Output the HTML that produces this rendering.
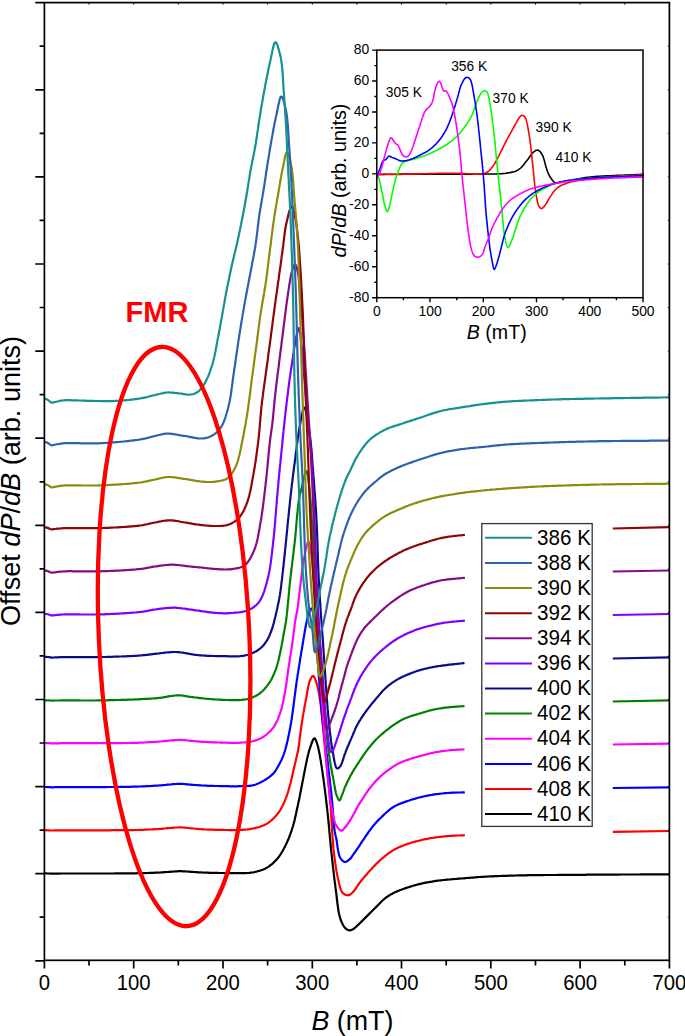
<!DOCTYPE html>
<html><head><meta charset="utf-8"><style>
html,body{margin:0;padding:0;background:#fff;}
body{width:685px;height:1036px;overflow:hidden;}
svg{display:block;}
</style></head><body>
<svg width="685" height="1036" viewBox="0 0 685 1036" font-family='"Liberation Sans", sans-serif'>
<rect x="0" y="0" width="685" height="1036" fill="#fff"/>
<path d="M44.4 873.4L45.4 873.4 46.5 873.4 47.7 873.5 49.0 873.5 50.2 873.6 51.5 873.7 52.5 873.7 53.6 873.7 54.8 873.6 56.0 873.6 57.3 873.6 58.6 873.6 59.9 873.6 61.1 873.5 62.2 873.5 63.4 873.5 65.0 873.5 65.9 873.5 66.8 873.5 67.9 873.5 69.0 873.5 70.2 873.5 71.5 873.5 72.8 873.5 74.3 873.5 75.7 873.5 77.2 873.5 78.8 873.5 80.4 873.5 82.0 873.5 83.7 873.5 85.3 873.5 87.0 873.5 88.7 873.5 90.4 873.5 92.0 873.5 93.7 873.5 95.3 873.5 96.9 873.5 98.5 873.5 100.0 873.5 101.4 873.5 102.9 873.5 104.4 873.5 105.9 873.5 107.4 873.5 109.0 873.5 110.5 873.5 112.1 873.5 113.6 873.5 115.2 873.4 116.8 873.4 118.3 873.4 119.9 873.4 121.5 873.4 123.0 873.4 124.6 873.4 126.1 873.4 127.6 873.4 129.1 873.4 130.5 873.3 132.0 873.3 133.4 873.3 134.8 873.3 136.1 873.3 137.5 873.2 138.8 873.2 140.0 873.2 141.7 873.2 143.3 873.1 144.9 873.1 146.4 873.0 147.9 873.0 149.4 872.9 150.9 872.9 152.3 872.8 153.6 872.8 155.0 872.7 156.3 872.7 157.6 872.6 158.8 872.6 160.0 872.5 161.6 872.4 163.1 872.3 164.5 872.2 165.9 872.1 167.2 872.0 168.6 871.9 170.0 871.8 171.4 871.7 172.8 871.6 174.3 871.5 175.7 871.4 177.1 871.3 178.5 871.2 180.0 871.2 181.3 871.2 182.7 871.3 184.0 871.3 185.4 871.4 186.8 871.5 188.2 871.6 189.6 871.7 191.0 871.8 192.4 871.9 193.8 872.0 195.2 872.1 196.6 872.2 198.0 872.3 199.5 872.4 200.9 872.4 202.5 872.5 204.0 872.6 205.3 872.7 206.6 872.7 208.0 872.7 209.3 872.8 210.7 872.8 212.1 872.8 213.5 872.9 214.9 872.9 216.4 872.9 217.8 872.9 219.2 873.0 220.6 873.0 222.0 873.0 223.4 873.0 224.8 873.1 226.2 873.1 227.6 873.1 229.0 873.2 230.5 873.2 231.9 873.2 233.3 873.2 234.7 873.2 236.0 873.2 237.4 873.2 238.7 873.2 240.0 873.2 241.4 873.2 242.8 873.1 244.2 873.1 245.6 873.1 246.9 873.0 248.2 873.0 249.5 872.9 250.9 872.7 252.2 872.5 253.5 872.3 254.9 872.0 256.3 871.7 257.7 871.3 259.1 870.9 260.4 870.5 261.8 870.0 263.2 869.5 264.5 868.9 265.8 868.3 267.0 867.6 268.2 866.9 269.4 866.1 270.5 865.2 271.7 864.3 272.8 863.4 273.8 862.4 274.9 861.3 275.9 860.3 276.9 859.2 277.8 858.1 278.7 857.0 279.5 855.9 280.3 854.7 281.1 853.6 281.8 852.3 282.5 851.1 283.2 849.8 283.9 848.6 284.6 847.3 285.2 845.9 285.9 844.6 286.5 843.4 287.1 842.1 287.7 840.8 288.2 839.5 288.8 838.2 289.3 836.8 289.8 835.5 290.3 834.1 290.8 832.7 291.3 831.3 291.8 829.9 292.2 828.5 292.7 827.0 293.1 825.7 293.5 824.3 293.9 822.9 294.2 821.6 294.6 820.2 294.9 818.8 295.2 817.3 295.6 815.9 295.9 814.4 296.2 813.0 296.5 811.5 296.8 810.0 297.1 808.6 297.5 807.1 297.8 805.6 298.1 804.1 298.4 802.7 298.7 801.3 299.0 799.9 299.3 798.5 299.6 797.0 299.9 795.6 300.2 794.1 300.4 792.7 300.7 791.2 301.0 789.7 301.3 788.3 301.6 786.8 301.9 785.3 302.1 783.9 302.4 782.5 302.7 781.1 303.0 779.7 303.2 778.3 303.5 777.0 303.8 775.4 304.1 773.9 304.4 772.3 304.7 770.8 305.0 769.2 305.3 767.7 305.6 766.2 305.9 764.7 306.2 763.3 306.5 761.9 306.8 760.5 307.0 759.2 307.3 758.0 307.6 756.8 307.9 755.3 308.3 754.0 308.6 752.8 308.9 751.6 309.2 750.4 309.6 749.2 310.0 748.0 310.5 746.7 311.0 745.1 311.5 743.5 312.1 742.0 312.7 740.5 313.3 739.4 313.9 738.6 314.4 738.3 315.1 738.7 315.7 739.9 316.4 741.5 317.0 743.3 317.5 745.0 317.9 746.2 318.2 747.5 318.5 748.9 318.8 750.3 319.1 751.7 319.4 753.2 319.7 754.8 320.0 756.5 320.2 757.7 320.4 759.0 320.7 760.3 320.9 761.7 321.1 763.1 321.3 764.5 321.6 766.0 321.8 767.5 322.0 769.0 322.3 770.6 322.5 772.1 322.7 773.7 322.9 775.3 323.1 776.9 323.4 778.5 323.6 780.0 323.8 781.6 324.0 782.9 324.2 784.3 324.3 785.7 324.5 787.0 324.7 788.4 324.9 789.8 325.1 791.2 325.2 792.6 325.4 794.0 325.6 795.4 325.8 796.8 325.9 798.3 326.1 799.7 326.3 801.1 326.4 802.6 326.6 804.0 326.8 805.5 326.9 807.0 327.1 808.4 327.3 809.9 327.4 811.4 327.6 812.9 327.8 814.3 327.9 815.7 328.0 817.2 328.2 818.6 328.3 820.1 328.5 821.5 328.6 823.0 328.8 824.5 328.9 825.9 329.0 827.4 329.2 828.9 329.3 830.4 329.4 831.9 329.6 833.4 329.7 834.9 329.8 836.4 330.0 838.0 330.1 839.5 330.3 841.0 330.4 842.5 330.5 844.0 330.7 845.5 330.8 847.0 331.0 848.4 331.1 849.9 331.3 851.4 331.5 852.9 331.6 854.3 331.8 855.8 331.9 857.3 332.1 858.7 332.3 860.2 332.4 861.7 332.6 863.2 332.7 864.6 332.9 866.1 333.1 867.6 333.2 869.1 333.4 870.5 333.6 872.0 333.8 873.5 333.9 874.9 334.1 876.4 334.3 877.8 334.4 879.3 334.6 880.7 334.8 882.1 335.0 883.5 335.2 884.9 335.3 886.3 335.5 887.6 335.7 889.0 335.9 890.6 336.1 892.1 336.3 893.7 336.5 895.3 336.7 896.9 336.8 898.5 337.0 900.0 337.2 901.6 337.4 903.1 337.6 904.7 337.8 906.2 338.0 907.7 338.2 909.1 338.4 910.5 338.7 911.9 338.9 913.2 339.2 914.5 339.5 915.7 339.8 916.8 340.1 917.9 340.6 919.5 341.2 921.0 341.8 922.4 342.4 923.7 343.0 925.0 343.7 926.1 344.4 927.1 345.1 927.9 346.1 928.9 347.2 929.6 348.4 930.2 349.5 930.4 350.6 930.3 351.8 929.8 352.9 929.2 354.0 928.5 355.0 927.8 355.9 927.0 356.9 926.1 357.8 925.1 358.9 924.1 359.8 923.3 360.7 922.4 361.7 921.4 362.6 920.4 363.7 919.4 364.7 918.4 365.7 917.4 366.7 916.4 367.7 915.4 368.7 914.4 369.7 913.4 370.6 912.5 371.6 911.5 372.6 910.5 373.6 909.5 374.6 908.5 375.5 907.6 376.5 906.6 377.6 905.5 378.6 904.5 379.7 903.4 380.7 902.3 381.8 901.3 382.8 900.3 383.9 899.3 385.0 898.4 386.1 897.5 387.2 896.8 388.3 896.0 389.5 895.3 390.6 894.6 391.8 893.9 393.0 893.3 394.3 892.6 395.6 892.0 396.9 891.4 398.2 890.9 399.6 890.3 401.1 889.8 402.6 889.2 403.8 888.8 405.0 888.4 406.3 887.9 407.6 887.5 408.9 887.1 410.3 886.6 411.7 886.2 413.1 885.8 414.5 885.4 415.9 885.0 417.3 884.6 418.7 884.2 420.1 883.9 421.5 883.6 423.0 883.2 424.5 882.9 425.9 882.6 427.4 882.3 428.8 882.1 430.3 881.8 431.8 881.6 433.2 881.3 434.7 881.1 436.1 880.9 437.6 880.7 439.1 880.5 440.5 880.3 442.0 880.2 443.5 880.0 445.0 879.9 446.4 879.7 447.9 879.6 449.4 879.5 450.8 879.4 452.3 879.2 453.7 879.1 455.1 879.0 456.6 878.9 458.2 878.7 459.7 878.6 461.2 878.5 462.6 878.4 464.1 878.3 465.6 878.1 467.1 878.0 468.5 877.9 470.0 877.8 471.4 877.7 472.8 877.6 474.2 877.5 475.5 877.3 476.9 877.2 478.2 877.1 479.7 877.0 481.2 876.9 482.8 876.8 484.5 876.7 485.7 876.6 486.9 876.6 488.1 876.5 489.4 876.4 490.7 876.4 492.1 876.3 493.4 876.3 494.8 876.2 496.3 876.1 497.7 876.1 499.2 876.0 500.7 876.0 502.2 875.9 503.8 875.9 505.3 875.8 506.9 875.8 508.5 875.7 510.1 875.7 511.7 875.6 513.4 875.6 515.0 875.5 516.7 875.5 518.3 875.4 520.0 875.4 521.3 875.4 522.6 875.3 523.9 875.3 525.2 875.3 526.5 875.3 527.8 875.2 529.2 875.2 530.5 875.2 531.9 875.2 533.3 875.2 534.7 875.1 536.1 875.1 537.5 875.1 538.9 875.1 540.3 875.1 541.7 875.1 543.2 875.1 544.6 875.0 546.1 875.0 547.5 875.0 549.0 875.0 550.5 875.0 552.0 875.0 553.5 875.0 555.0 875.0 556.5 875.0 558.0 874.9 559.6 874.9 561.1 874.9 562.6 874.9 564.2 874.9 565.7 874.9 567.3 874.9 568.9 874.9 570.4 874.9 572.0 874.9 573.6 874.8 575.2 874.8 576.8 874.8 578.4 874.8 580.0 874.8 581.3 874.8 582.7 874.8 584.1 874.8 585.4 874.8 586.8 874.7 588.2 874.7 589.6 874.7 591.0 874.7 592.5 874.7 593.9 874.7 595.3 874.7 596.8 874.7 598.2 874.7 599.7 874.7 601.1 874.7 602.6 874.6 604.1 874.6 605.5 874.6 607.0 874.6 608.5 874.6 610.0 874.6 611.5 874.6 613.0 874.6 614.5 874.6 616.0 874.6 617.5 874.6 619.1 874.6 620.6 874.5 622.1 874.5 623.6 874.5 625.2 874.5 626.7 874.5 628.2 874.5 629.8 874.5 631.3 874.5 632.8 874.5 634.4 874.5 635.9 874.5 637.5 874.5 639.0 874.5 640.5 874.4 642.1 874.4 643.6 874.4 645.2 874.4 646.7 874.4 648.2 874.4 649.8 874.4 651.3 874.4 652.8 874.4 654.4 874.4 655.9 874.4 657.4 874.4 659.0 874.4 660.5 874.3 662.0 874.3 663.5 874.3 665.0 874.3 666.5 874.3 668.0 874.3 669.5 874.3" fill="none" stroke="#000000" stroke-width="2.2" stroke-linejoin="round"/>
<path d="M44.4 830.2L45.4 830.2 46.5 830.2 47.7 830.3 49.0 830.3 50.2 830.4 51.5 830.5 52.5 830.5 53.6 830.5 54.8 830.4 56.0 830.4 57.3 830.4 58.6 830.4 59.9 830.4 61.1 830.3 62.2 830.3 63.4 830.3 65.0 830.3 65.9 830.3 66.8 830.3 67.9 830.3 69.0 830.3 70.2 830.3 71.5 830.3 72.8 830.3 74.3 830.3 75.7 830.3 77.2 830.3 78.8 830.3 80.4 830.3 82.0 830.3 83.7 830.3 85.3 830.3 87.0 830.3 88.7 830.3 90.4 830.3 92.0 830.3 93.7 830.3 95.3 830.3 96.9 830.3 98.5 830.3 100.0 830.3 101.4 830.3 102.9 830.3 104.4 830.3 105.9 830.3 107.4 830.3 109.0 830.3 110.5 830.3 112.1 830.2 113.6 830.2 115.2 830.2 116.8 830.2 118.3 830.2 119.9 830.2 121.5 830.2 123.0 830.2 124.6 830.2 126.1 830.2 127.6 830.1 129.1 830.1 130.5 830.1 132.0 830.1 133.4 830.1 134.8 830.0 136.1 830.0 137.5 830.0 138.8 829.9 140.0 829.9 141.7 829.8 143.3 829.8 144.9 829.7 146.4 829.7 147.9 829.6 149.4 829.5 150.9 829.5 152.3 829.4 153.6 829.3 155.0 829.2 156.3 829.1 157.6 829.1 158.8 829.0 160.0 828.9 161.6 828.8 163.1 828.6 164.5 828.5 165.9 828.4 167.2 828.2 168.6 828.1 170.0 828.0 171.4 827.9 172.8 827.8 174.3 827.6 175.7 827.5 177.1 827.5 178.5 827.4 180.0 827.4 181.3 827.4 182.7 827.5 184.0 827.6 185.4 827.7 186.8 827.9 188.2 828.0 189.6 828.2 191.0 828.3 192.4 828.4 193.8 828.5 195.2 828.7 196.6 828.8 198.0 828.9 199.5 829.1 200.9 829.2 202.5 829.3 204.0 829.4 205.3 829.5 206.6 829.5 208.0 829.6 209.3 829.6 210.7 829.7 212.1 829.7 213.5 829.7 214.9 829.8 216.4 829.8 217.8 829.8 219.2 829.9 220.6 829.9 222.0 829.9 223.4 829.9 224.8 830.0 226.2 830.0 227.6 830.0 229.0 830.1 230.5 830.1 231.9 830.1 233.3 830.1 234.7 830.1 236.0 830.1 237.4 830.1 238.7 830.1 240.0 830.0 241.4 829.9 242.8 829.8 244.2 829.7 245.6 829.6 246.9 829.5 248.2 829.3 249.5 829.2 250.9 828.9 252.2 828.7 253.5 828.4 254.9 828.1 256.3 827.7 257.7 827.4 259.1 827.0 260.5 826.5 261.8 826.0 263.2 825.5 264.5 824.9 265.8 824.3 267.0 823.6 268.2 822.8 269.4 822.0 270.6 821.0 271.7 820.1 272.8 819.0 273.9 818.0 274.9 816.9 275.9 815.8 276.9 814.6 277.8 813.5 278.6 812.4 279.4 811.3 280.2 810.1 280.9 808.9 281.5 807.7 282.2 806.5 282.8 805.3 283.4 804.0 284.0 802.7 284.6 801.4 285.1 800.1 285.6 798.9 286.1 797.6 286.6 796.2 287.1 794.9 287.5 793.5 288.0 792.1 288.4 790.7 288.8 789.3 289.2 787.9 289.6 786.5 290.0 785.1 290.4 783.7 290.8 782.2 291.1 780.8 291.5 779.3 291.8 777.9 292.1 776.4 292.5 774.9 292.8 773.5 293.1 772.0 293.4 770.5 293.8 769.1 294.1 767.6 294.4 766.3 294.7 764.9 295.1 763.6 295.4 762.3 295.7 761.0 296.0 759.7 296.3 758.3 296.6 757.0 296.9 755.7 297.2 754.3 297.5 752.9 297.8 751.5 298.1 750.0 298.3 748.6 298.6 747.3 298.8 745.9 299.0 744.5 299.2 743.0 299.4 741.6 299.5 740.1 299.7 738.6 299.9 737.1 300.1 735.6 300.3 734.1 300.5 732.6 300.7 731.1 300.9 729.5 301.1 728.0 301.3 726.5 301.5 725.0 301.7 723.6 302.0 722.1 302.2 720.7 302.4 719.2 302.7 717.7 302.9 716.2 303.2 714.7 303.4 713.2 303.7 711.7 304.0 710.2 304.2 708.7 304.5 707.2 304.8 705.7 305.0 704.3 305.3 702.9 305.5 701.5 305.8 700.1 306.0 698.8 306.3 697.5 306.6 695.9 306.9 694.3 307.2 692.6 307.4 691.0 307.7 689.4 308.0 687.9 308.3 686.4 308.6 685.0 308.9 683.7 309.2 682.4 309.6 681.3 310.0 680.3 310.8 678.7 311.6 677.3 312.4 676.3 313.2 675.9 313.8 676.3 314.4 677.1 314.9 678.4 315.5 679.9 316.0 681.5 316.5 683.0 316.9 684.1 317.2 685.3 317.5 686.5 317.8 687.8 318.1 689.1 318.4 690.4 318.7 691.9 318.9 693.4 319.2 694.9 319.5 696.5 319.7 698.2 320.0 700.0 320.2 701.1 320.3 702.3 320.5 703.4 320.7 704.7 320.8 706.0 321.0 707.3 321.1 708.6 321.3 710.0 321.4 711.4 321.6 712.8 321.7 714.3 321.9 715.7 322.0 717.2 322.2 718.8 322.3 720.3 322.5 721.9 322.6 723.4 322.8 725.0 322.9 726.6 323.1 728.2 323.2 729.8 323.4 731.4 323.5 733.0 323.6 734.6 323.8 736.2 323.9 737.8 324.1 739.4 324.2 741.0 324.4 742.6 324.5 744.1 324.7 745.7 324.8 747.2 325.0 748.7 325.1 750.2 325.2 751.7 325.4 753.2 325.5 754.6 325.7 756.1 325.9 757.6 326.0 759.1 326.2 760.5 326.3 762.0 326.5 763.5 326.6 765.0 326.8 766.4 326.9 767.9 327.1 769.4 327.2 770.8 327.4 772.3 327.5 773.8 327.7 775.3 327.8 776.7 328.0 778.2 328.1 779.7 328.3 781.2 328.4 782.6 328.6 784.1 328.7 785.6 328.9 787.1 329.0 788.6 329.2 790.0 329.3 791.5 329.4 793.0 329.6 794.5 329.7 796.0 329.8 797.4 330.0 798.9 330.1 800.4 330.2 801.9 330.3 803.3 330.5 804.8 330.6 806.3 330.7 807.8 330.8 809.3 330.9 810.9 331.0 812.4 331.1 813.9 331.2 815.5 331.3 817.0 331.4 818.5 331.5 820.1 331.6 821.6 331.7 823.2 331.8 824.7 331.9 826.2 332.0 827.8 332.1 829.3 332.1 830.8 332.2 832.3 332.3 833.8 332.4 835.2 332.5 836.7 332.6 838.1 332.7 839.6 332.8 841.0 333.0 842.3 333.1 843.7 333.2 845.1 333.3 846.4 333.4 847.7 333.5 848.9 333.7 850.2 333.8 851.4 334.0 853.1 334.2 854.8 334.4 856.4 334.6 858.0 334.8 859.6 335.0 861.2 335.2 862.7 335.4 864.1 335.6 865.6 335.8 867.0 336.0 868.4 336.3 869.8 336.5 871.2 336.8 872.5 337.0 873.9 337.3 875.2 337.6 876.5 337.9 878.0 338.3 879.6 338.6 881.2 338.9 882.8 339.3 884.3 339.7 885.8 340.0 887.3 340.5 888.6 340.9 889.9 341.4 891.0 342.0 892.0 342.6 892.8 343.6 893.7 344.8 894.5 346.0 895.0 347.1 895.2 348.2 895.3 349.6 894.9 350.8 894.0 352.0 893.0 352.8 892.2 353.6 891.3 354.4 890.4 355.2 889.3 356.0 888.3 356.7 887.1 357.5 885.9 358.3 884.7 359.2 883.5 360.0 882.3 360.8 881.2 361.7 880.1 362.6 879.1 363.4 878.1 364.3 877.0 365.2 876.0 366.1 875.0 367.0 874.0 367.9 872.9 368.7 871.9 369.6 871.0 370.5 870.0 371.5 869.0 372.4 867.9 373.3 867.0 374.3 866.0 375.2 865.0 376.1 864.0 377.1 863.1 378.0 862.2 379.0 861.2 380.0 860.3 380.9 859.5 381.9 858.6 382.9 857.8 383.9 857.0 384.9 856.1 386.0 855.3 387.0 854.5 388.1 853.7 389.2 852.9 390.4 852.1 391.5 851.3 392.6 850.6 393.8 849.9 394.9 849.3 396.1 848.7 397.2 848.1 398.4 847.5 399.6 847.0 400.8 846.5 402.0 846.0 403.3 845.5 404.5 845.0 405.8 844.5 407.1 844.1 408.4 843.6 409.8 843.2 411.3 842.7 412.6 842.3 413.9 842.0 415.3 841.6 416.7 841.2 418.2 840.8 419.7 840.5 421.2 840.1 422.7 839.7 424.3 839.4 425.8 839.1 427.3 838.8 428.8 838.5 430.3 838.2 431.7 838.0 433.2 837.8 434.6 837.5 436.1 837.3 437.6 837.2 439.0 837.0 440.5 836.8 442.0 836.6 443.4 836.5 444.9 836.3 446.4 836.2 447.8 836.1 449.2 836.0 450.6 835.9 452.0 835.8 453.4 835.7 454.9 835.6 456.3 835.6 457.7 835.5 459.1 835.5 460.5 835.4 462.0 835.3 463.4 835.3 464.8 835.2" fill="none" stroke="#ff0000" stroke-width="2.2" stroke-linejoin="round"/>
<path d="M612.8 831.8L669.4 831.0" fill="none" stroke="#ff0000" stroke-width="2.2"/>
<path d="M44.4 787.0L45.4 787.0 46.5 787.0 47.7 787.1 49.0 787.1 50.2 787.2 51.5 787.3 52.5 787.3 53.6 787.3 54.8 787.2 56.0 787.2 57.3 787.2 58.6 787.2 59.9 787.2 61.1 787.1 62.2 787.1 63.4 787.1 65.0 787.1 65.9 787.1 66.8 787.1 67.9 787.1 69.0 787.1 70.2 787.1 71.5 787.1 72.8 787.1 74.3 787.1 75.7 787.1 77.2 787.1 78.8 787.1 80.4 787.1 82.0 787.1 83.7 787.1 85.3 787.1 87.0 787.1 88.7 787.1 90.4 787.1 92.0 787.1 93.7 787.1 95.3 787.1 96.9 787.1 98.5 787.1 100.0 787.1 101.4 787.1 102.9 787.1 104.4 787.1 105.9 787.1 107.4 787.0 109.0 787.0 110.5 787.0 112.1 787.0 113.6 787.0 115.2 787.0 116.8 787.0 118.3 786.9 119.9 786.9 121.5 786.9 123.0 786.9 124.6 786.9 126.1 786.8 127.6 786.8 129.1 786.8 130.5 786.8 132.0 786.7 133.4 786.7 134.8 786.7 136.1 786.6 137.5 786.6 138.8 786.5 140.0 786.5 141.7 786.4 143.3 786.4 144.9 786.3 146.4 786.2 147.9 786.2 149.4 786.1 150.9 786.0 152.3 785.9 153.6 785.8 155.0 785.7 156.3 785.7 157.6 785.6 158.8 785.5 160.0 785.4 161.6 785.3 163.1 785.1 164.5 785.0 165.9 784.9 167.2 784.7 168.6 784.6 170.0 784.5 171.4 784.4 172.8 784.2 174.3 784.1 175.7 784.0 177.1 783.9 178.5 783.8 180.0 783.8 181.3 783.8 182.7 783.9 184.0 784.0 185.4 784.1 186.8 784.3 188.2 784.4 189.6 784.6 191.0 784.7 192.4 784.8 193.8 784.9 195.2 785.0 196.6 785.1 198.0 785.2 199.5 785.3 200.9 785.4 202.5 785.5 204.0 785.6 205.3 785.7 206.6 785.7 208.0 785.8 209.3 785.8 210.7 785.9 212.1 785.9 213.5 785.9 214.9 786.0 216.4 786.0 217.8 786.0 219.2 786.1 220.6 786.1 222.0 786.1 223.4 786.1 224.8 786.2 226.2 786.2 227.6 786.2 229.0 786.2 230.5 786.3 231.9 786.3 233.3 786.3 234.7 786.3 236.0 786.3 237.4 786.3 238.7 786.2 240.0 786.2 241.4 786.2 242.9 786.1 244.3 786.1 245.6 786.0 247.0 786.0 248.3 785.9 249.7 785.8 251.0 785.6 252.2 785.4 253.5 785.1 254.9 784.7 256.4 784.2 257.7 783.7 259.1 783.1 260.4 782.5 261.7 781.8 263.0 781.1 264.3 780.4 265.4 779.7 266.6 778.9 267.7 778.2 268.9 777.3 270.0 776.5 271.0 775.6 272.0 774.7 273.0 773.9 273.8 773.0 274.7 772.0 275.4 770.9 276.1 769.8 276.7 768.8 277.4 767.6 278.0 766.5 278.7 765.2 279.4 763.9 280.1 762.6 280.8 761.2 281.5 759.9 282.1 758.5 282.7 757.2 283.2 755.9 283.7 754.5 284.1 753.2 284.6 751.9 285.0 750.5 285.4 749.3 285.7 748.1 286.0 746.9 286.3 745.7 286.7 744.4 287.0 743.0 287.3 741.6 287.6 740.4 287.9 739.1 288.1 737.8 288.4 736.5 288.7 735.2 289.0 733.8 289.3 732.3 289.6 730.8 289.9 729.2 290.2 727.6 290.5 725.9 290.8 724.2 291.0 723.1 291.2 721.9 291.4 720.6 291.6 719.4 291.8 718.0 292.0 716.7 292.2 715.3 292.4 713.9 292.6 712.5 292.8 711.0 293.0 709.5 293.2 708.0 293.4 706.5 293.6 704.9 293.8 703.4 294.0 701.8 294.2 700.3 294.4 698.7 294.6 697.1 294.8 695.6 295.0 694.0 295.2 692.5 295.4 691.0 295.6 689.4 295.8 687.9 296.0 686.5 296.2 685.0 296.4 683.6 296.6 682.2 296.8 680.8 297.0 679.2 297.3 677.7 297.5 676.1 297.7 674.6 298.0 673.0 298.2 671.5 298.5 670.0 298.7 668.5 298.9 667.0 299.2 665.5 299.4 664.0 299.7 662.5 299.9 661.0 300.1 659.5 300.4 658.1 300.6 656.7 300.8 655.2 301.1 653.8 301.3 652.4 301.5 651.1 301.8 649.7 302.0 648.3 302.2 647.0 302.5 645.4 302.7 643.9 303.0 642.3 303.2 640.8 303.5 639.3 303.7 637.8 304.0 636.3 304.2 634.9 304.5 633.4 304.7 632.0 304.9 630.6 305.2 629.3 305.4 627.9 305.7 626.6 305.9 625.3 306.2 624.1 306.5 622.4 306.9 620.7 307.2 619.1 307.5 617.4 307.9 615.9 308.2 614.4 308.6 613.1 309.0 612.0 309.4 611.0 310.1 609.8 310.8 608.8 311.5 608.5 311.9 608.9 312.3 609.7 312.6 610.9 312.9 612.4 313.2 614.2 313.4 616.1 313.7 618.0 314.0 620.0 314.1 621.0 314.3 622.1 314.4 623.2 314.6 624.3 314.7 625.5 314.9 626.8 315.0 628.1 315.1 629.4 315.3 630.8 315.4 632.2 315.5 633.7 315.6 635.1 315.8 636.6 315.9 638.2 316.0 639.7 316.1 641.3 316.3 642.9 316.4 644.4 316.5 646.0 316.6 647.6 316.8 649.3 316.9 650.9 317.0 652.5 317.1 654.1 317.3 655.7 317.4 657.3 317.5 658.9 317.6 660.4 317.7 662.0 317.9 663.5 318.0 665.0 318.1 666.4 318.2 667.9 318.4 669.3 318.5 670.8 318.6 672.3 318.7 673.8 318.8 675.3 318.9 676.8 319.0 678.3 319.2 679.8 319.3 681.3 319.4 682.8 319.5 684.3 319.6 685.8 319.7 687.4 319.8 688.9 319.9 690.4 320.1 691.9 320.2 693.4 320.3 694.9 320.4 696.4 320.5 697.9 320.6 699.4 320.7 700.9 320.9 702.3 321.0 703.8 321.1 705.2 321.2 706.7 321.3 708.1 321.5 709.5 321.6 710.9 321.7 712.3 321.9 713.7 322.0 715.0 322.2 716.6 322.3 718.1 322.5 719.7 322.7 721.2 322.8 722.6 323.0 724.1 323.2 725.5 323.4 727.0 323.5 728.4 323.7 729.8 323.9 731.2 324.1 732.6 324.3 734.0 324.4 735.4 324.6 736.8 324.8 738.2 325.0 739.7 325.2 741.1 325.4 742.6 325.5 744.0 325.7 745.5 325.9 747.1 326.1 748.6 326.3 750.2 326.5 751.6 326.6 752.9 326.8 754.3 327.0 755.8 327.1 757.2 327.3 758.7 327.5 760.2 327.7 761.7 327.8 763.2 328.0 764.7 328.2 766.2 328.4 767.8 328.6 769.3 328.7 770.9 328.9 772.4 329.1 774.0 329.3 775.6 329.5 777.1 329.6 778.7 329.8 780.2 330.0 781.8 330.2 783.3 330.3 784.8 330.5 786.3 330.7 787.8 330.8 789.3 331.0 790.8 331.2 792.2 331.3 793.6 331.5 795.0 331.6 796.4 331.7 797.8 331.9 799.1 332.0 800.4 332.2 802.1 332.3 803.8 332.5 805.4 332.6 807.1 332.7 808.8 332.8 810.4 333.0 812.0 333.1 813.6 333.2 815.2 333.3 816.8 333.4 818.3 333.5 819.8 333.6 821.2 333.7 822.7 333.8 824.0 334.0 825.3 334.1 826.6 334.2 827.8 334.4 828.9 334.5 830.0 334.8 831.7 335.1 833.2 335.3 834.5 335.6 835.8 336.0 837.2 336.3 838.8 336.5 840.1 336.8 841.4 337.0 842.9 337.2 844.5 337.4 846.2 337.7 847.8 337.9 849.5 338.2 851.1 338.5 852.6 338.9 854.1 339.2 855.4 339.6 856.6 340.1 857.6 340.9 858.9 341.8 860.0 342.7 860.9 343.6 861.6 344.5 862.0 345.5 862.0 346.5 861.5 347.5 861.0 348.4 860.4 349.2 859.7 350.1 858.9 350.9 858.0 351.6 857.0 352.4 855.8 353.2 854.7 354.0 853.5 354.7 852.5 355.4 851.6 356.0 850.6 356.7 849.6 357.5 848.5 358.3 847.3 359.0 846.3 359.7 845.3 360.4 844.1 361.2 843.0 362.0 841.7 362.8 840.5 363.7 839.3 364.5 838.0 365.3 836.8 366.1 835.6 366.9 834.5 367.6 833.5 368.5 832.2 369.3 831.0 370.2 829.9 371.0 828.7 371.8 827.7 372.6 826.6 373.5 825.5 374.4 824.5 375.2 823.5 376.1 822.5 377.0 821.5 377.9 820.6 378.9 819.6 380.0 818.5 380.9 817.7 381.8 816.8 382.7 815.9 383.7 814.9 384.7 814.0 385.8 813.0 386.9 812.0 388.0 811.1 389.1 810.1 390.3 809.2 391.4 808.4 392.6 807.5 393.8 806.8 395.0 806.1 396.3 805.4 397.6 804.8 398.9 804.2 400.3 803.6 401.6 803.1 403.0 802.6 404.4 802.1 405.8 801.6 407.2 801.1 408.6 800.7 409.9 800.2 411.3 799.8 412.6 799.4 414.0 799.0 415.3 798.6 416.6 798.2 418.0 797.8 419.3 797.5 420.7 797.2 422.0 796.8 423.4 796.5 424.7 796.2 426.1 795.9 427.4 795.7 428.8 795.4 430.3 795.1 431.7 794.9 433.2 794.6 434.6 794.4 436.1 794.2 437.6 794.0 439.0 793.8 440.5 793.7 442.0 793.5 443.4 793.4 444.9 793.2 446.4 793.1 447.8 793.0 449.2 792.9 450.6 792.8 452.0 792.7 453.4 792.7 454.9 792.6 456.3 792.6 457.7 792.5 459.1 792.5 460.5 792.5 462.0 792.4 463.4 792.4 464.8 792.3" fill="none" stroke="#0000ff" stroke-width="2.2" stroke-linejoin="round"/>
<path d="M612.8 788.0L669.4 787.3" fill="none" stroke="#0000ff" stroke-width="2.2"/>
<path d="M44.4 743.1L45.4 743.1 46.5 743.1 47.7 743.2 49.0 743.2 50.2 743.3 51.5 743.4 52.5 743.4 53.6 743.4 54.8 743.3 56.0 743.3 57.3 743.3 58.6 743.3 59.9 743.3 61.1 743.2 62.2 743.2 63.4 743.2 65.0 743.2 65.9 743.2 66.8 743.2 67.9 743.2 69.0 743.2 70.2 743.2 71.5 743.2 72.8 743.2 74.3 743.2 75.7 743.2 77.2 743.2 78.8 743.2 80.4 743.2 82.0 743.2 83.7 743.2 85.3 743.2 87.0 743.2 88.7 743.2 90.4 743.2 92.0 743.2 93.7 743.2 95.3 743.2 96.9 743.2 98.5 743.2 100.0 743.2 101.4 743.2 102.9 743.2 104.4 743.2 105.9 743.2 107.4 743.2 109.0 743.2 110.5 743.1 112.1 743.1 113.6 743.1 115.2 743.1 116.8 743.1 118.3 743.1 119.9 743.1 121.5 743.1 123.0 743.0 124.6 743.0 126.1 743.0 127.6 743.0 129.1 743.0 130.5 742.9 132.0 742.9 133.4 742.9 134.8 742.9 136.1 742.8 137.5 742.8 138.8 742.7 140.0 742.7 141.7 742.6 143.3 742.6 144.9 742.5 146.4 742.4 147.9 742.3 149.4 742.2 150.9 742.2 152.3 742.1 153.6 742.0 155.0 741.9 156.3 741.8 157.6 741.7 158.8 741.6 160.0 741.5 161.6 741.4 163.1 741.2 164.5 741.1 165.9 740.9 167.2 740.8 168.6 740.6 170.0 740.5 171.4 740.4 172.8 740.3 174.3 740.1 175.7 740.0 177.1 740.0 178.5 739.9 180.0 739.9 181.3 739.9 182.7 740.0 184.0 740.1 185.4 740.2 186.8 740.4 188.2 740.5 189.6 740.7 191.0 740.8 192.4 740.9 193.8 741.0 195.2 741.2 196.6 741.3 198.0 741.4 199.5 741.6 200.9 741.7 202.5 741.8 204.0 741.9 205.3 742.0 206.6 742.0 208.0 742.1 209.3 742.2 210.7 742.2 212.1 742.3 213.5 742.4 214.9 742.4 216.4 742.4 217.8 742.5 219.2 742.5 220.6 742.6 222.0 742.6 223.4 742.6 224.8 742.7 226.2 742.7 227.6 742.7 229.0 742.8 230.5 742.8 231.9 742.8 233.3 742.8 234.7 742.9 236.0 742.8 237.4 742.8 238.7 742.8 240.0 742.7 241.4 742.6 242.9 742.5 244.3 742.4 245.6 742.3 247.0 742.2 248.3 742.0 249.7 741.8 251.0 741.6 252.2 741.3 253.5 741.0 254.9 740.6 256.4 740.1 257.8 739.6 259.1 739.0 260.5 738.4 261.8 737.7 263.0 737.0 264.3 736.2 265.5 735.4 266.6 734.5 267.7 733.5 268.8 732.5 269.9 731.5 271.0 730.4 271.9 729.2 272.9 728.0 273.8 726.8 274.6 725.6 275.3 724.4 276.0 723.1 276.6 721.8 277.3 720.4 277.9 719.1 278.4 717.6 279.0 716.2 279.5 714.8 280.0 713.3 280.5 711.9 280.9 710.6 281.3 709.3 281.7 708.1 282.0 706.8 282.3 705.5 282.6 704.1 282.9 702.8 283.2 701.4 283.5 700.1 283.8 698.7 284.0 697.2 284.3 695.8 284.6 694.3 284.8 693.0 285.1 691.7 285.3 690.4 285.5 689.0 285.7 687.6 285.9 686.2 286.2 684.8 286.4 683.3 286.6 681.9 286.8 680.4 287.0 679.0 287.2 677.5 287.4 676.0 287.6 674.6 287.8 673.1 288.0 671.6 288.2 670.2 288.4 668.7 288.6 667.3 288.8 665.9 289.0 664.4 289.3 663.0 289.5 661.5 289.7 660.1 289.9 658.6 290.1 657.2 290.4 655.7 290.6 654.3 290.8 652.8 291.0 651.4 291.3 650.0 291.5 648.5 291.7 647.1 291.9 645.7 292.1 644.3 292.3 643.0 292.5 641.6 292.7 640.3 292.9 638.7 293.1 637.2 293.3 635.7 293.5 634.1 293.7 632.6 293.9 631.1 294.1 629.6 294.3 628.2 294.5 626.7 294.6 625.3 294.8 623.9 295.0 622.6 295.2 621.3 295.4 620.0 295.6 618.6 295.9 617.2 296.1 616.0 296.4 614.8 296.6 613.5 296.9 612.3 297.1 611.0 297.4 609.6 297.6 608.1 297.8 606.9 297.9 605.7 298.1 604.4 298.3 603.1 298.5 601.7 298.6 600.3 298.8 598.8 299.0 597.3 299.2 595.8 299.3 594.3 299.5 592.8 299.7 591.2 299.9 589.7 300.0 588.2 300.2 586.7 300.4 585.3 300.6 583.8 300.7 582.4 300.9 581.1 301.1 579.6 301.3 578.0 301.4 576.5 301.6 575.1 301.8 573.6 301.9 572.1 302.1 570.7 302.3 569.3 302.5 567.9 302.7 566.4 302.9 565.0 303.1 563.6 303.3 562.2 303.6 560.8 303.9 559.2 304.2 557.5 304.6 555.6 305.0 553.7 305.3 551.7 305.7 549.8 306.1 548.0 306.5 546.4 306.9 544.9 307.3 543.6 307.7 542.7 308.1 542.1 308.4 541.9 308.7 542.1 309.0 542.6 309.3 543.4 309.6 544.5 309.9 545.8 310.2 547.3 310.5 549.0 310.7 550.7 311.0 552.6 311.3 554.5 311.5 556.3 311.8 558.2 312.0 560.0 312.2 561.1 312.3 562.3 312.4 563.5 312.6 564.7 312.7 566.0 312.9 567.3 313.0 568.6 313.1 569.9 313.2 571.3 313.4 572.7 313.5 574.2 313.6 575.6 313.7 577.1 313.8 578.6 313.9 580.1 314.1 581.6 314.2 583.1 314.3 584.7 314.4 586.3 314.5 587.8 314.6 589.4 314.7 591.0 314.8 592.6 314.9 594.2 315.0 595.8 315.1 597.4 315.2 599.0 315.3 600.6 315.5 602.2 315.6 603.8 315.7 605.3 315.8 606.9 315.9 608.5 316.0 610.0 316.1 611.4 316.2 612.8 316.3 614.2 316.4 615.6 316.5 617.1 316.6 618.5 316.7 619.9 316.8 621.4 316.9 622.8 317.0 624.3 317.1 625.7 317.2 627.2 317.3 628.6 317.4 630.1 317.5 631.5 317.6 633.0 317.7 634.5 317.8 636.0 317.9 637.4 318.0 638.9 318.1 640.4 318.2 641.9 318.3 643.4 318.4 644.8 318.5 646.3 318.6 647.8 318.6 649.3 318.7 650.8 318.8 652.3 318.9 653.8 319.0 655.2 319.1 656.7 319.2 658.2 319.3 659.7 319.4 661.2 319.5 662.6 319.6 664.1 319.7 665.6 319.8 667.1 319.9 668.5 320.0 670.0 320.1 671.5 320.2 672.9 320.3 674.4 320.4 675.9 320.5 677.4 320.6 678.8 320.7 680.3 320.8 681.8 320.9 683.3 321.0 684.8 321.1 686.2 321.2 687.7 321.3 689.2 321.4 690.7 321.4 692.2 321.5 693.7 321.6 695.2 321.7 696.6 321.8 698.1 321.9 699.6 322.0 701.1 322.1 702.6 322.2 704.0 322.3 705.5 322.4 707.0 322.5 708.5 322.6 709.9 322.7 711.4 322.8 712.8 322.9 714.3 323.0 715.7 323.1 717.2 323.2 718.6 323.3 720.1 323.4 721.5 323.5 722.9 323.6 724.4 323.7 725.8 323.8 727.2 323.9 728.6 324.0 730.0 324.1 731.5 324.2 733.1 324.3 734.6 324.4 736.2 324.6 737.7 324.7 739.3 324.8 740.8 324.9 742.4 325.0 743.9 325.1 745.4 325.2 747.0 325.3 748.5 325.4 750.0 325.6 751.6 325.7 753.1 325.8 754.6 325.9 756.1 326.0 757.6 326.1 759.1 326.2 760.6 326.4 762.0 326.5 763.5 326.6 764.9 326.7 766.4 326.8 767.8 327.0 769.2 327.1 770.6 327.2 772.0 327.3 773.4 327.5 774.7 327.6 776.1 327.7 777.4 327.9 778.7 328.0 780.0 328.2 781.6 328.3 783.2 328.5 784.8 328.7 786.4 328.9 787.9 329.0 789.4 329.2 791.0 329.4 792.5 329.6 794.0 329.7 795.4 329.9 796.9 330.1 798.3 330.3 799.7 330.5 801.1 330.7 802.4 330.9 803.8 331.1 805.1 331.3 806.3 331.5 807.6 331.8 808.8 332.0 810.0 332.3 811.6 332.6 813.2 332.9 814.7 333.2 816.2 333.5 817.6 333.9 819.0 334.2 820.4 334.6 821.6 335.0 822.8 335.5 824.0 336.0 825.0 336.8 826.3 337.6 827.6 338.6 828.8 339.5 829.8 340.4 830.4 341.3 830.7 342.3 830.4 343.2 829.6 344.1 828.6 345.0 827.5 345.8 826.5 346.7 825.4 347.5 824.2 348.4 823.0 349.2 821.7 350.0 820.5 350.7 819.4 351.4 818.2 352.0 817.0 352.7 815.9 353.3 814.7 354.0 813.5 354.6 812.4 355.2 811.2 355.8 810.0 356.4 808.9 357.1 807.7 357.7 806.6 358.3 805.5 359.1 804.2 359.8 803.1 360.6 801.9 361.4 800.7 362.2 799.5 362.9 798.4 363.7 797.2 364.5 795.9 365.3 794.7 366.1 793.5 366.8 792.3 367.6 791.2 368.5 790.0 369.3 788.8 370.2 787.7 371.1 786.6 372.0 785.5 372.9 784.4 373.9 783.3 374.8 782.2 375.8 781.0 376.9 779.9 378.0 778.8 379.0 777.8 380.0 776.9 381.0 775.9 382.1 775.0 383.2 774.0 384.3 773.1 385.5 772.1 386.7 771.2 387.8 770.4 388.9 769.6 390.0 768.8 391.2 768.0 392.4 767.2 393.6 766.4 394.8 765.6 396.0 764.9 397.2 764.2 398.4 763.6 399.7 763.0 401.0 762.4 402.3 761.8 403.6 761.3 404.9 760.8 406.2 760.3 407.5 759.9 408.8 759.4 410.1 759.0 411.5 758.5 412.9 758.1 414.3 757.7 415.7 757.3 417.1 756.9 418.5 756.5 420.0 756.1 421.3 755.7 422.7 755.4 424.0 755.0 425.5 754.6 426.9 754.2 428.3 753.8 429.8 753.5 431.2 753.1 432.7 752.8 434.1 752.5 435.4 752.2 436.8 752.0 438.1 751.8 439.4 751.6 440.8 751.4 442.1 751.2 443.4 751.0 444.8 750.8 446.2 750.7 447.6 750.5 448.9 750.4 450.3 750.2 451.7 750.1 453.1 750.0 454.5 749.9 455.9 749.8 457.4 749.7 458.8 749.7 460.2 749.6 461.7 749.5 463.1 749.4 464.5 749.3" fill="none" stroke="#ff00ff" stroke-width="2.2" stroke-linejoin="round"/>
<path d="M612.8 744.5L669.4 743.7" fill="none" stroke="#ff00ff" stroke-width="2.2"/>
<path d="M44.4 700.3L45.4 700.3 46.5 700.3 47.7 700.4 49.0 700.4 50.2 700.5 51.5 700.6 52.5 700.6 53.6 700.6 54.8 700.5 56.0 700.5 57.3 700.5 58.6 700.5 59.9 700.5 61.1 700.4 62.2 700.4 63.4 700.4 65.0 700.4 65.9 700.4 66.8 700.4 67.9 700.4 69.0 700.4 70.2 700.4 71.5 700.4 72.8 700.4 74.3 700.4 75.7 700.4 77.2 700.4 78.8 700.4 80.4 700.5 82.0 700.5 83.7 700.5 85.3 700.5 87.0 700.5 88.7 700.5 90.4 700.5 92.0 700.5 93.7 700.5 95.3 700.5 96.9 700.4 98.5 700.4 100.0 700.4 101.4 700.4 102.9 700.4 104.4 700.3 105.9 700.3 107.4 700.3 109.0 700.2 110.5 700.2 112.1 700.2 113.6 700.1 115.2 700.1 116.8 700.0 118.3 700.0 119.9 700.0 121.5 699.9 123.0 699.9 124.6 699.8 126.1 699.8 127.6 699.7 129.1 699.7 130.5 699.6 132.0 699.6 133.4 699.5 134.8 699.4 136.1 699.4 137.5 699.3 138.8 699.3 140.0 699.2 141.7 699.1 143.3 699.0 144.9 698.9 146.4 698.9 147.9 698.8 149.4 698.7 150.9 698.6 152.3 698.5 153.7 698.4 155.0 698.3 156.3 698.2 157.6 698.1 158.8 697.9 160.0 697.8 161.6 697.6 163.1 697.4 164.6 697.1 165.9 696.9 167.3 696.6 168.6 696.4 170.0 696.2 171.3 696.0 172.6 695.8 173.8 695.7 175.1 695.5 176.4 695.4 177.7 695.3 179.0 695.3 180.3 695.4 181.7 695.5 183.0 695.7 184.4 695.9 185.8 696.1 187.2 696.4 188.6 696.6 190.0 696.8 191.4 697.0 192.8 697.2 194.2 697.4 195.6 697.5 197.0 697.7 198.4 697.9 199.9 698.1 201.4 698.2 203.0 698.4 204.3 698.5 205.7 698.7 207.1 698.8 208.6 698.9 210.1 699.0 211.6 699.2 213.1 699.3 214.6 699.4 216.1 699.5 217.6 699.6 219.1 699.7 220.5 699.7 222.0 699.8 223.4 699.9 224.8 699.9 226.3 700.0 227.7 700.0 229.2 700.1 230.6 700.1 232.0 700.2 233.4 700.2 234.8 700.2 236.2 700.2 237.5 700.1 238.8 700.1 240.0 700.0 241.5 699.9 242.9 699.7 244.3 699.6 245.7 699.4 247.0 699.1 248.3 698.8 249.5 698.5 250.8 698.1 252.1 697.6 253.3 697.1 254.5 696.6 255.7 696.0 256.9 695.3 258.0 694.6 259.2 693.8 260.3 693.0 261.3 692.1 262.3 691.2 263.3 690.2 264.3 689.2 265.3 688.1 266.2 687.0 267.1 685.8 268.0 684.6 268.9 683.4 269.7 682.2 270.5 681.0 271.2 679.7 271.9 678.4 272.5 677.1 273.2 675.7 273.8 674.3 274.4 672.9 274.9 671.5 275.5 670.1 276.0 668.7 276.5 667.3 276.9 666.0 277.3 664.7 277.7 663.3 278.1 662.0 278.4 660.6 278.7 659.3 279.0 657.9 279.3 656.5 279.6 655.2 279.9 653.8 280.2 652.5 280.5 651.1 280.8 649.6 281.1 648.2 281.4 646.7 281.7 645.2 281.9 643.8 282.2 642.3 282.5 640.8 282.7 639.4 283.0 637.9 283.2 636.5 283.5 635.0 283.8 633.6 284.0 632.3 284.3 630.9 284.5 629.6 284.8 628.3 285.0 627.0 285.2 625.6 285.5 624.2 285.7 622.7 286.0 621.2 286.2 619.5 286.4 618.3 286.5 617.1 286.7 615.9 286.8 614.6 287.0 613.2 287.1 611.8 287.3 610.4 287.4 609.0 287.6 607.5 287.7 606.0 287.8 604.5 288.0 603.0 288.1 601.4 288.3 599.9 288.4 598.3 288.6 596.7 288.7 595.1 288.9 593.6 289.0 592.0 289.2 590.4 289.3 588.8 289.5 587.2 289.6 585.7 289.8 584.1 289.9 582.6 290.1 581.1 290.3 579.7 290.4 578.2 290.6 576.8 290.8 575.4 290.9 573.9 291.1 572.5 291.3 571.0 291.4 569.6 291.6 568.1 291.8 566.7 292.0 565.2 292.1 563.8 292.3 562.3 292.5 560.9 292.7 559.4 292.9 558.0 293.0 556.5 293.2 555.0 293.4 553.6 293.6 552.1 293.7 550.7 293.9 549.2 294.1 547.8 294.2 546.3 294.4 544.9 294.6 543.4 294.7 542.0 294.9 540.5 295.1 539.0 295.2 537.5 295.4 536.0 295.5 534.5 295.6 532.9 295.8 531.4 295.9 529.8 296.1 528.2 296.2 526.6 296.3 525.0 296.5 523.5 296.6 521.9 296.7 520.3 296.9 518.7 297.0 517.2 297.1 515.7 297.3 514.2 297.4 512.7 297.6 511.2 297.7 509.8 297.8 508.4 298.0 507.1 298.1 505.8 298.3 504.5 298.4 503.3 298.6 502.1 298.7 501.0 298.9 500.0 299.2 498.4 299.5 496.9 299.7 495.6 300.0 494.3 300.3 493.1 300.6 491.9 300.9 490.7 301.2 489.5 301.6 488.1 301.9 486.7 302.3 485.1 302.7 483.3 303.1 481.4 303.6 479.5 304.0 477.7 304.4 476.0 304.9 474.4 305.3 473.1 305.7 472.1 306.1 471.4 306.4 471.2 306.7 471.4 307.0 472.0 307.3 472.8 307.5 473.9 307.8 475.3 308.0 476.9 308.2 478.6 308.4 480.4 308.7 482.3 308.9 484.3 309.1 486.2 309.3 488.2 309.5 490.0 309.6 491.1 309.8 492.3 309.9 493.5 310.0 494.7 310.1 496.0 310.2 497.3 310.3 498.7 310.5 500.0 310.6 501.4 310.7 502.8 310.8 504.2 310.9 505.7 311.0 507.2 311.1 508.6 311.2 510.1 311.3 511.7 311.4 513.2 311.5 514.8 311.5 516.3 311.6 517.9 311.7 519.5 311.8 521.0 311.9 522.6 312.0 524.2 312.1 525.8 312.2 527.4 312.3 529.0 312.4 530.6 312.5 532.2 312.6 533.8 312.7 535.3 312.8 536.9 312.9 538.5 313.0 540.0 313.1 541.4 313.2 542.8 313.3 544.2 313.4 545.6 313.5 547.1 313.6 548.5 313.7 549.9 313.8 551.4 313.9 552.8 314.0 554.3 314.1 555.7 314.2 557.2 314.3 558.6 314.4 560.1 314.5 561.5 314.5 563.0 314.6 564.5 314.7 566.0 314.8 567.4 314.9 568.9 315.0 570.4 315.1 571.9 315.2 573.4 315.3 574.8 315.4 576.3 315.5 577.8 315.6 579.3 315.7 580.8 315.8 582.3 315.9 583.8 316.0 585.2 316.1 586.7 316.2 588.2 316.3 589.7 316.4 591.2 316.5 592.6 316.6 594.1 316.7 595.6 316.8 597.1 316.9 598.5 317.0 600.0 317.1 601.5 317.2 602.9 317.3 604.4 317.4 605.9 317.5 607.3 317.6 608.8 317.7 610.3 317.8 611.7 317.9 613.2 318.0 614.7 318.1 616.2 318.2 617.6 318.3 619.1 318.4 620.6 318.5 622.1 318.6 623.5 318.6 625.0 318.7 626.5 318.8 628.0 318.9 629.4 319.0 630.9 319.1 632.4 319.2 633.8 319.3 635.3 319.4 636.8 319.5 638.2 319.6 639.7 319.7 641.2 319.8 642.6 319.9 644.1 320.0 645.5 320.1 647.0 320.2 648.5 320.3 649.9 320.4 651.4 320.5 652.8 320.6 654.3 320.7 655.7 320.8 657.1 320.9 658.6 321.0 660.0 321.1 661.5 321.2 663.0 321.3 664.6 321.4 666.1 321.5 667.6 321.6 669.2 321.7 670.7 321.8 672.2 321.9 673.8 322.1 675.3 322.2 676.9 322.3 678.4 322.4 679.9 322.5 681.4 322.6 683.0 322.7 684.5 322.8 686.0 322.9 687.5 323.0 689.1 323.1 690.6 323.2 692.1 323.3 693.6 323.4 695.1 323.5 696.5 323.6 698.0 323.8 699.5 323.9 700.9 324.0 702.4 324.1 703.8 324.2 705.3 324.3 706.7 324.4 708.1 324.5 709.5 324.7 710.9 324.8 712.3 324.9 713.6 325.0 715.0 325.1 716.6 325.3 718.1 325.4 719.7 325.5 721.2 325.7 722.8 325.8 724.3 325.9 725.8 326.1 727.3 326.2 728.8 326.3 730.3 326.5 731.7 326.6 733.2 326.7 734.6 326.9 736.1 327.0 737.5 327.2 738.9 327.3 740.3 327.5 741.7 327.6 743.1 327.8 744.5 327.9 745.9 328.1 747.3 328.3 748.6 328.4 750.0 328.6 751.3 328.8 752.7 329.0 754.2 329.2 755.8 329.5 757.4 329.7 758.9 330.0 760.5 330.2 762.0 330.5 763.5 330.7 765.1 331.0 766.6 331.3 768.1 331.5 769.6 331.8 771.0 332.1 772.5 332.3 773.9 332.6 775.2 332.9 776.6 333.1 777.9 333.3 779.2 333.6 780.4 333.8 781.6 334.1 783.2 334.3 784.7 334.6 786.2 334.8 787.6 335.1 789.0 335.3 790.3 335.6 791.6 335.8 792.8 336.1 793.9 336.5 795.0 337.0 796.4 337.7 797.9 338.3 799.2 338.9 800.1 339.5 800.4 340.1 799.8 340.8 798.5 341.4 796.7 342.0 795.0 342.5 793.8 343.0 792.5 343.5 791.1 344.0 789.7 344.6 788.2 345.2 786.7 345.8 785.3 346.4 784.0 347.0 782.7 347.6 781.4 348.3 780.1 349.0 778.7 349.6 777.4 350.3 776.1 351.0 774.8 351.7 773.6 352.4 772.4 353.1 771.2 353.8 770.0 354.5 768.8 355.3 767.7 356.0 766.5 356.7 765.4 357.5 764.2 358.2 763.1 359.0 761.9 359.7 760.7 360.5 759.6 361.3 758.4 362.1 757.2 362.9 756.0 363.7 754.9 364.5 753.7 365.4 752.5 366.2 751.3 367.1 750.1 368.0 748.9 369.0 747.7 369.9 746.6 370.8 745.4 371.8 744.3 372.7 743.2 373.7 742.1 374.7 741.0 375.6 740.0 376.6 739.0 377.7 738.0 378.7 737.0 379.8 736.0 380.9 735.0 382.0 734.1 383.1 733.1 384.2 732.1 385.4 731.2 386.6 730.2 387.8 729.3 389.0 728.3 390.2 727.4 391.4 726.5 392.6 725.7 393.7 724.9 394.9 724.2 396.0 723.4 397.1 722.7 398.2 722.0 399.4 721.3 400.5 720.6 401.7 719.9 402.9 719.3 404.2 718.7 405.4 718.2 406.7 717.7 408.0 717.2 409.3 716.7 410.6 716.2 412.0 715.8 413.3 715.4 414.7 715.0 416.0 714.6 417.4 714.2 418.7 713.8 420.0 713.4 421.4 713.0 422.9 712.5 424.3 712.1 425.7 711.7 427.1 711.3 428.5 710.9 429.9 710.5 431.3 710.2 432.7 709.8 434.1 709.5 435.4 709.2 436.8 709.0 438.1 708.7 439.4 708.5 440.8 708.3 442.1 708.1 443.4 707.9 444.8 707.7 446.2 707.6 447.6 707.4 448.9 707.3 450.3 707.1 451.7 707.0 453.1 706.9 454.5 706.8 455.9 706.7 457.4 706.6 458.8 706.5 460.2 706.4 461.7 706.3 463.1 706.2 464.5 706.1" fill="none" stroke="#008000" stroke-width="2.2" stroke-linejoin="round"/>
<path d="M612.8 701.5L669.4 700.3" fill="none" stroke="#008000" stroke-width="2.2"/>
<path d="M44.4 656.9L45.4 656.9 46.5 656.9 47.7 657.0 49.0 657.2 50.2 657.4 51.5 657.6 52.5 657.6 53.6 657.5 54.8 657.4 56.0 657.4 57.3 657.3 58.6 657.3 59.9 657.2 61.1 657.2 62.2 657.2 63.4 657.1 65.0 657.1 65.9 657.1 66.8 657.1 67.9 657.1 69.0 657.1 70.2 657.1 71.5 657.1 72.8 657.1 74.3 657.1 75.7 657.1 77.2 657.1 78.8 657.2 80.4 657.2 82.0 657.2 83.7 657.2 85.3 657.2 87.0 657.2 88.7 657.2 90.4 657.2 92.0 657.2 93.7 657.2 95.3 657.2 96.9 657.1 98.5 657.1 100.0 657.1 101.4 657.1 102.9 657.0 104.4 657.0 105.9 657.0 107.5 656.9 109.0 656.9 110.6 656.8 112.1 656.8 113.7 656.7 115.3 656.7 116.9 656.6 118.5 656.6 120.0 656.5 121.6 656.5 123.2 656.4 124.7 656.4 126.2 656.3 127.7 656.2 129.2 656.1 130.7 656.1 132.1 656.0 133.5 655.9 134.9 655.8 136.2 655.8 137.5 655.7 138.8 655.6 140.0 655.5 141.6 655.4 143.2 655.2 144.6 655.1 146.1 654.9 147.4 654.8 148.8 654.6 150.1 654.4 151.4 654.3 152.7 654.1 154.0 653.9 155.3 653.8 156.6 653.6 158.0 653.5 159.4 653.4 160.7 653.2 162.1 653.0 163.5 652.9 164.8 652.7 166.2 652.5 167.5 652.4 168.9 652.3 170.3 652.1 171.7 652.1 173.1 652.0 174.5 652.0 176.0 652.0 177.3 652.1 178.6 652.2 180.0 652.3 181.3 652.5 182.7 652.6 184.1 652.9 185.5 653.1 186.8 653.3 188.3 653.6 189.7 653.8 191.1 654.1 192.6 654.3 194.0 654.6 195.5 654.8 197.0 655.0 198.5 655.2 200.0 655.3 201.4 655.4 202.9 655.5 204.4 655.6 205.9 655.7 207.5 655.8 209.2 655.8 210.8 655.9 212.5 656.0 214.2 656.0 215.8 656.1 217.5 656.1 219.1 656.1 220.7 656.2 222.3 656.2 223.8 656.2 225.3 656.2 226.8 656.2 228.1 656.3 229.4 656.3 230.6 656.3 231.7 656.3 232.7 656.3 234.5 656.3 235.9 656.4 237.2 656.4 238.5 656.3 240.0 656.2 241.3 656.0 242.6 655.8 244.0 655.6 245.4 655.3 246.8 655.0 248.1 654.7 249.5 654.3 250.8 653.8 252.1 653.3 253.3 652.7 254.6 652.1 255.8 651.5 257.0 650.8 258.1 650.0 259.2 649.2 260.3 648.4 261.3 647.5 262.2 646.6 263.1 645.7 263.9 644.7 264.8 643.6 265.5 642.5 266.3 641.4 267.0 640.3 267.7 639.1 268.4 637.8 269.1 636.4 269.7 635.0 270.2 633.6 270.8 632.2 271.3 630.8 271.8 629.5 272.3 628.2 272.7 626.9 273.1 625.6 273.4 624.3 273.8 623.0 274.1 621.5 274.5 620.0 274.8 618.8 275.1 617.5 275.5 616.2 275.8 614.8 276.1 613.3 276.5 611.8 276.8 610.3 277.2 608.8 277.5 607.3 277.8 605.8 278.1 604.3 278.5 602.8 278.7 601.4 279.0 600.0 279.3 598.5 279.5 597.1 279.8 595.7 280.0 594.3 280.2 593.0 280.4 591.6 280.6 590.2 280.8 588.7 281.0 587.2 281.2 585.6 281.4 583.8 281.5 582.7 281.7 581.5 281.8 580.2 282.0 579.0 282.2 577.6 282.3 576.2 282.5 574.8 282.6 573.3 282.8 571.8 283.0 570.3 283.1 568.8 283.3 567.2 283.5 565.6 283.7 564.1 283.8 562.5 284.0 560.9 284.2 559.3 284.3 557.7 284.5 556.1 284.7 554.5 284.8 553.0 285.0 551.4 285.1 549.9 285.3 548.5 285.4 547.0 285.6 545.6 285.7 544.3 285.8 543.0 286.0 541.7 286.1 540.5 286.3 538.8 286.4 537.2 286.6 535.7 286.7 534.2 286.9 532.8 287.0 531.4 287.1 530.1 287.3 528.7 287.4 527.3 287.5 526.0 287.6 524.6 287.8 523.1 287.9 521.6 288.1 520.0 288.2 518.7 288.4 517.4 288.5 516.0 288.7 514.6 288.8 513.2 288.9 511.7 289.1 510.3 289.2 508.8 289.4 507.3 289.6 505.8 289.7 504.3 289.9 502.8 290.0 501.3 290.2 499.8 290.4 498.3 290.5 496.8 290.7 495.3 290.8 493.8 291.0 492.4 291.2 490.9 291.3 489.5 291.5 488.1 291.7 486.6 291.8 485.2 292.0 483.7 292.2 482.3 292.4 480.9 292.5 479.5 292.7 478.1 292.9 476.7 293.0 475.3 293.2 474.0 293.4 472.6 293.6 471.2 293.8 469.8 293.9 468.4 294.1 466.9 294.3 465.5 294.5 464.1 294.7 462.6 294.9 461.1 295.1 459.7 295.3 458.3 295.5 456.8 295.6 455.3 295.8 453.8 296.0 452.3 296.2 450.8 296.4 449.3 296.6 447.7 296.8 446.2 297.0 444.6 297.2 443.1 297.4 441.5 297.6 440.0 297.8 438.5 298.0 437.0 298.2 435.5 298.5 434.1 298.7 432.7 298.9 431.3 299.1 429.9 299.4 428.6 299.6 427.3 299.9 425.6 300.2 423.9 300.5 422.0 300.9 420.1 301.2 418.3 301.5 416.4 301.9 414.7 302.2 413.1 302.6 411.6 302.9 410.3 303.3 409.2 303.6 408.4 304.0 407.9 304.3 407.7 304.6 407.9 304.9 408.3 305.2 409.0 305.5 409.9 305.9 411.1 306.2 412.4 306.5 413.9 306.8 415.6 307.1 417.3 307.5 419.2 307.8 421.1 308.1 423.0 308.4 425.0 308.7 426.9 308.9 428.8 309.2 430.7 309.5 432.5 309.7 434.1 309.9 435.4 310.1 436.8 310.2 438.1 310.4 439.5 310.6 440.8 310.7 442.2 310.9 443.6 311.0 445.0 311.1 446.4 311.3 447.8 311.4 449.2 311.5 450.6 311.6 452.0 311.7 453.5 311.9 454.9 312.0 456.4 312.1 457.9 312.2 459.4 312.3 460.8 312.4 462.3 312.5 463.9 312.6 465.4 312.8 466.9 312.9 468.4 313.0 470.0 313.1 471.4 313.2 472.7 313.3 474.1 313.4 475.5 313.5 476.9 313.7 478.3 313.8 479.7 313.9 481.1 314.0 482.5 314.1 484.0 314.2 485.4 314.3 486.8 314.4 488.3 314.5 489.8 314.6 491.2 314.8 492.7 314.9 494.2 315.0 495.7 315.1 497.2 315.2 498.7 315.3 500.2 315.4 501.7 315.5 503.2 315.6 504.7 315.7 506.2 315.8 507.7 315.9 509.3 316.0 510.8 316.1 512.3 316.2 513.9 316.2 515.4 316.3 516.9 316.4 518.5 316.5 520.0 316.6 521.4 316.6 522.8 316.7 524.2 316.8 525.6 316.8 527.0 316.9 528.4 317.0 529.9 317.0 531.3 317.1 532.7 317.1 534.1 317.2 535.6 317.2 537.0 317.3 538.5 317.3 539.9 317.4 541.4 317.4 542.8 317.5 544.3 317.5 545.7 317.6 547.2 317.6 548.6 317.6 550.1 317.7 551.6 317.7 553.0 317.8 554.5 317.8 556.0 317.9 557.5 317.9 559.0 318.0 560.4 318.0 561.9 318.1 563.4 318.1 564.9 318.2 566.4 318.3 567.9 318.3 569.4 318.4 570.9 318.4 572.4 318.5 573.9 318.6 575.5 318.6 577.0 318.7 578.5 318.8 580.0 318.9 581.4 319.0 582.9 319.0 584.3 319.1 585.8 319.2 587.2 319.3 588.7 319.4 590.1 319.5 591.6 319.5 593.1 319.6 594.5 319.7 596.0 319.8 597.5 319.9 599.0 320.0 600.5 320.1 601.9 320.2 603.4 320.3 604.9 320.4 606.4 320.5 607.9 320.6 609.4 320.7 610.9 320.8 612.4 320.9 613.9 321.0 615.4 321.1 616.9 321.2 618.4 321.3 619.9 321.5 621.4 321.6 623.0 321.7 624.5 321.8 626.0 321.9 627.5 322.0 629.0 322.1 630.5 322.2 632.0 322.3 633.5 322.4 635.0 322.5 636.5 322.6 638.0 322.8 639.5 322.9 641.0 323.0 642.5 323.1 644.0 323.2 645.5 323.3 647.0 323.4 648.5 323.5 650.0 323.6 651.5 323.7 653.0 323.8 654.5 323.9 656.0 324.0 657.6 324.1 659.1 324.2 660.7 324.3 662.2 324.4 663.8 324.6 665.4 324.7 667.0 324.8 668.5 324.9 670.1 325.0 671.7 325.1 673.3 325.2 674.9 325.3 676.5 325.4 678.0 325.5 679.6 325.6 681.2 325.7 682.8 325.8 684.4 326.0 685.9 326.1 687.5 326.2 689.0 326.3 690.6 326.4 692.1 326.5 693.7 326.6 695.2 326.7 696.7 326.8 698.2 326.9 699.7 327.1 701.1 327.2 702.6 327.3 704.1 327.4 705.5 327.5 706.9 327.6 708.3 327.7 709.7 327.9 711.0 328.0 712.4 328.1 713.7 328.2 715.0 328.3 716.3 328.5 717.6 328.6 718.8 328.7 720.0 328.9 721.7 329.0 723.4 329.2 725.1 329.4 726.7 329.6 728.3 329.7 729.9 329.9 731.5 330.1 733.0 330.2 734.5 330.4 736.0 330.6 737.5 330.8 738.9 331.0 740.3 331.1 741.7 331.3 743.1 331.5 744.4 331.7 745.7 331.9 747.0 332.1 748.3 332.4 749.5 332.6 750.8 332.8 752.0 333.1 753.7 333.4 755.4 333.7 757.2 334.0 758.9 334.3 760.7 334.6 762.3 335.0 763.8 335.3 765.2 335.7 766.4 336.1 767.4 336.5 768.0 337.0 768.4 338.0 768.4 339.0 767.7 340.0 766.6 340.6 765.8 341.1 764.8 341.6 763.6 342.2 762.2 342.7 760.7 343.2 759.1 343.7 757.5 344.2 755.9 344.7 754.3 345.3 752.8 345.8 751.4 346.3 750.1 346.9 748.8 347.4 747.5 347.9 746.2 348.5 745.0 349.0 743.7 349.5 742.4 350.1 741.2 350.6 739.9 351.2 738.6 351.7 737.4 352.3 736.1 352.8 734.8 353.4 733.5 353.9 732.2 354.5 730.9 355.0 729.6 355.6 728.3 356.2 727.0 356.8 725.8 357.5 724.5 358.2 723.3 358.8 722.1 359.5 720.9 360.3 719.8 361.0 718.6 361.8 717.4 362.5 716.3 363.3 715.1 364.1 714.0 364.9 712.8 365.7 711.7 366.6 710.5 367.5 709.3 368.4 708.1 369.3 707.0 370.2 705.8 371.1 704.6 372.1 703.5 373.0 702.3 374.0 701.2 375.0 700.0 375.9 698.9 376.8 697.8 377.8 696.7 378.7 695.6 379.7 694.4 380.7 693.3 381.6 692.2 382.6 691.1 383.6 690.0 384.7 689.0 385.7 688.0 386.7 687.1 387.8 686.1 389.0 685.2 390.1 684.3 391.3 683.5 392.4 682.6 393.6 681.8 394.8 681.1 396.0 680.3 397.2 679.6 398.4 678.9 399.7 678.2 401.0 677.5 402.3 676.9 403.6 676.3 404.9 675.7 406.2 675.2 407.5 674.6 408.8 674.1 410.1 673.6 411.4 673.1 412.6 672.6 413.8 672.2 415.0 671.7 416.2 671.3 417.4 670.9 418.7 670.5 420.0 670.1 421.3 669.7 422.7 669.4 424.0 669.0 425.5 668.7 426.9 668.4 428.3 668.0 429.8 667.7 431.3 667.5 432.7 667.2 434.1 666.9 435.5 666.7 436.8 666.4 438.1 666.2 439.4 666.0 440.8 665.8 442.1 665.6 443.4 665.4 444.8 665.3 446.2 665.1 447.6 664.9 448.9 664.7 450.3 664.6 451.7 664.4 453.1 664.3 454.5 664.1 455.9 664.0 457.4 663.8 458.8 663.7 460.2 663.5 461.7 663.4 463.1 663.2 464.5 663.1" fill="none" stroke="#0c0c88" stroke-width="2.2" stroke-linejoin="round"/>
<path d="M612.8 658.5L669.4 657.3" fill="none" stroke="#0c0c88" stroke-width="2.2"/>
<path d="M44.4 613.8L45.4 613.9 46.5 614.0 47.7 614.3 49.0 614.6 50.2 615.1 51.5 615.4 52.5 615.4 53.6 615.3 54.8 615.2 56.0 615.0 57.3 614.9 58.6 614.8 59.9 614.7 61.1 614.6 62.2 614.5 63.4 614.5 65.0 614.4 65.9 614.4 66.8 614.4 67.9 614.4 69.0 614.4 70.2 614.4 71.5 614.4 72.8 614.4 74.3 614.4 75.7 614.4 77.2 614.4 78.8 614.4 80.4 614.5 82.0 614.5 83.7 614.5 85.3 614.5 87.0 614.5 88.7 614.5 90.4 614.5 92.0 614.5 93.7 614.5 95.3 614.5 96.9 614.5 98.5 614.4 100.0 614.4 101.4 614.4 102.9 614.3 104.4 614.3 106.0 614.2 107.5 614.1 109.1 614.1 110.7 614.0 112.3 613.9 113.9 613.9 115.5 613.8 117.1 613.7 118.7 613.6 120.3 613.5 121.8 613.4 123.4 613.3 125.0 613.2 126.5 613.1 128.0 613.0 129.5 612.9 130.9 612.8 132.4 612.7 133.7 612.6 135.1 612.5 136.4 612.4 137.6 612.2 138.8 612.1 140.0 612.0 141.6 611.8 143.1 611.6 144.6 611.4 145.9 611.1 147.2 610.9 148.5 610.6 149.7 610.4 151.0 610.1 152.3 609.9 153.6 609.7 155.0 609.5 156.4 609.3 157.8 609.1 159.3 608.9 160.7 608.7 162.2 608.6 163.7 608.4 165.2 608.2 166.7 608.1 168.2 607.9 169.7 607.8 171.1 607.8 172.6 607.7 174.0 607.7 175.5 607.7 177.0 607.8 178.6 608.0 180.1 608.1 181.6 608.3 183.1 608.5 184.5 608.7 185.9 608.9 187.3 609.1 188.7 609.3 190.0 609.5 191.5 609.7 193.0 609.9 194.3 610.1 195.7 610.3 197.0 610.5 198.5 610.7 200.0 610.9 201.3 611.1 202.6 611.3 204.0 611.5 205.4 611.7 206.8 611.9 208.3 612.1 209.8 612.3 211.2 612.4 212.7 612.6 214.2 612.8 215.6 612.9 217.0 613.0 218.5 613.1 220.0 613.2 221.5 613.2 222.9 613.3 224.4 613.3 225.9 613.3 227.3 613.3 228.8 613.2 230.3 613.1 231.8 613.0 233.2 612.9 234.6 612.7 236.1 612.6 237.6 612.5 239.1 612.3 240.6 612.1 242.0 611.8 243.5 611.6 244.9 611.2 246.3 610.9 247.6 610.4 248.8 609.9 250.0 609.3 251.2 608.7 252.4 608.0 253.5 607.2 254.6 606.5 255.6 605.6 256.6 604.7 257.6 603.7 258.5 602.6 259.4 601.4 260.1 600.4 260.7 599.3 261.4 598.2 261.9 597.0 262.5 595.7 263.0 594.4 263.6 593.0 264.1 591.6 264.5 590.2 265.0 588.7 265.4 587.2 265.9 585.7 266.3 584.2 266.7 582.7 267.1 581.1 267.5 579.6 267.9 578.0 268.2 576.7 268.5 575.4 268.8 574.1 269.1 572.7 269.3 571.4 269.6 570.0 269.8 568.6 270.1 567.2 270.3 565.7 270.5 564.3 270.7 562.9 270.9 561.4 271.1 559.9 271.3 558.4 271.5 557.0 271.7 555.5 271.8 554.0 272.0 552.5 272.2 550.9 272.3 549.4 272.5 547.9 272.7 546.4 272.9 544.9 273.0 543.4 273.2 541.9 273.4 540.5 273.5 539.1 273.7 537.6 273.8 536.2 274.0 534.7 274.1 533.2 274.3 531.7 274.4 530.2 274.5 528.7 274.7 527.2 274.8 525.7 274.9 524.2 275.1 522.7 275.2 521.2 275.3 519.7 275.4 518.1 275.5 516.7 275.7 515.2 275.8 513.7 275.9 512.2 276.0 510.8 276.1 509.4 276.2 507.9 276.3 506.6 276.5 505.2 276.6 503.9 276.7 502.5 276.8 501.3 276.9 500.0 277.0 498.3 277.2 496.7 277.3 495.2 277.5 493.7 277.6 492.2 277.7 490.7 277.8 489.3 278.0 487.9 278.1 486.4 278.2 485.0 278.3 483.6 278.5 482.2 278.6 480.8 278.7 479.4 278.9 477.9 279.0 476.4 279.1 475.0 279.3 473.6 279.4 472.1 279.6 470.7 279.7 469.2 279.8 467.8 280.0 466.3 280.1 464.9 280.3 463.4 280.4 462.0 280.6 460.5 280.7 459.0 280.9 457.6 281.0 456.1 281.2 454.7 281.3 453.2 281.5 451.8 281.6 450.3 281.7 448.9 281.9 447.4 282.0 445.9 282.2 444.5 282.3 443.0 282.5 441.6 282.6 440.1 282.7 438.6 282.9 437.2 283.0 435.7 283.2 434.3 283.3 432.8 283.5 431.4 283.6 430.0 283.8 428.5 283.9 427.1 284.1 425.7 284.2 424.3 284.4 422.8 284.5 421.4 284.7 420.0 284.8 418.5 285.0 417.1 285.2 415.7 285.3 414.3 285.5 412.8 285.6 411.4 285.8 410.0 286.0 408.6 286.1 407.2 286.3 405.9 286.5 404.5 286.6 403.1 286.8 401.7 287.0 400.3 287.1 398.9 287.3 397.4 287.5 396.0 287.7 394.6 287.8 393.2 288.0 391.8 288.2 390.4 288.3 389.0 288.5 387.6 288.7 386.2 288.9 384.8 289.0 383.5 289.2 382.1 289.4 380.8 289.6 379.3 289.8 377.8 290.0 376.3 290.3 374.9 290.5 373.4 290.7 372.0 290.9 370.6 291.1 369.1 291.3 367.7 291.6 366.3 291.8 364.8 292.0 363.4 292.2 361.9 292.4 360.5 292.6 359.0 292.9 357.5 293.1 356.0 293.3 354.5 293.5 353.1 293.7 351.6 293.9 350.2 294.2 348.8 294.4 347.4 294.6 346.1 294.9 344.5 295.1 343.0 295.4 341.4 295.7 339.9 295.9 338.5 296.2 337.1 296.5 335.8 296.8 334.5 297.2 332.9 297.6 331.2 298.0 329.6 298.4 328.5 298.8 328.1 299.0 328.3 299.3 328.9 299.5 329.8 299.8 331.0 300.0 332.5 300.2 334.1 300.4 335.8 300.7 337.7 300.9 339.6 301.1 341.4 301.3 343.3 301.5 345.0 301.6 346.2 301.8 347.5 301.9 348.8 302.1 350.1 302.2 351.4 302.3 352.8 302.4 354.2 302.6 355.6 302.7 357.1 302.8 358.6 302.9 360.1 303.0 361.6 303.2 363.1 303.3 364.6 303.4 366.1 303.5 367.7 303.6 369.2 303.8 370.8 303.9 372.3 304.0 373.9 304.1 375.4 304.2 377.0 304.4 378.5 304.5 380.0 304.6 381.4 304.7 382.9 304.9 384.3 305.0 385.8 305.1 387.2 305.3 388.7 305.4 390.2 305.5 391.7 305.6 393.1 305.8 394.6 305.9 396.1 306.0 397.6 306.2 399.1 306.3 400.6 306.4 402.1 306.6 403.6 306.7 405.1 306.8 406.6 307.0 408.1 307.1 409.6 307.2 411.1 307.3 412.6 307.5 414.0 307.6 415.5 307.7 417.0 307.9 418.5 308.0 420.0 308.1 421.5 308.3 422.9 308.4 424.4 308.5 425.8 308.7 427.3 308.8 428.7 308.9 430.2 309.1 431.6 309.2 433.0 309.3 434.5 309.5 435.9 309.6 437.3 309.7 438.8 309.9 440.2 310.0 441.7 310.1 443.1 310.3 444.6 310.4 446.1 310.5 447.6 310.7 449.1 310.8 450.6 310.9 452.1 311.0 453.6 311.2 455.2 311.3 456.8 311.4 458.4 311.5 460.0 311.6 461.3 311.7 462.6 311.8 464.0 311.9 465.3 311.9 466.7 312.0 468.1 312.1 469.4 312.2 470.8 312.3 472.2 312.3 473.6 312.4 475.0 312.5 476.4 312.6 477.8 312.6 479.3 312.7 480.7 312.8 482.1 312.9 483.6 312.9 485.0 313.0 486.5 313.1 488.0 313.1 489.4 313.2 490.9 313.3 492.4 313.4 493.9 313.4 495.4 313.5 496.9 313.6 498.4 313.6 499.9 313.7 501.4 313.8 503.0 313.8 504.5 313.9 506.0 314.0 507.6 314.0 509.1 314.1 510.6 314.2 512.2 314.2 513.8 314.3 515.3 314.4 516.9 314.4 518.4 314.5 520.0 314.6 521.4 314.6 522.8 314.7 524.2 314.7 525.6 314.8 527.0 314.8 528.4 314.9 529.9 315.0 531.3 315.0 532.8 315.1 534.3 315.1 535.7 315.2 537.2 315.2 538.7 315.3 540.2 315.3 541.7 315.4 543.2 315.4 544.7 315.5 546.2 315.5 547.8 315.6 549.3 315.6 550.8 315.7 552.3 315.7 553.9 315.8 555.4 315.8 556.9 315.9 558.5 315.9 560.0 316.0 561.5 316.0 563.1 316.1 564.6 316.1 566.1 316.2 567.7 316.2 569.2 316.3 570.7 316.3 572.2 316.4 573.8 316.4 575.3 316.5 576.8 316.6 578.3 316.6 579.8 316.7 581.3 316.7 582.8 316.8 584.3 316.8 585.7 316.9 587.2 317.0 588.7 317.0 590.1 317.1 591.6 317.2 593.0 317.2 594.4 317.3 595.8 317.4 597.2 317.4 598.6 317.5 600.0 317.6 601.6 317.7 603.1 317.8 604.7 317.8 606.2 317.9 607.7 318.0 609.2 318.1 610.8 318.2 612.3 318.3 613.8 318.4 615.2 318.5 616.7 318.6 618.2 318.6 619.7 318.7 621.1 318.8 622.6 318.9 624.0 319.0 625.5 319.1 626.9 319.2 628.4 319.3 629.8 319.4 631.3 319.5 632.7 319.6 634.1 319.7 635.6 319.8 637.0 319.9 638.4 320.0 639.8 320.1 641.3 320.2 642.7 320.3 644.1 320.4 645.6 320.6 647.0 320.7 648.4 320.8 649.9 320.9 651.3 321.0 652.7 321.1 654.2 321.2 655.6 321.3 657.1 321.4 658.5 321.5 660.0 321.6 661.5 321.7 662.9 321.8 664.4 321.9 665.9 322.0 667.4 322.1 669.0 322.2 670.5 322.3 672.0 322.4 673.5 322.5 675.1 322.6 676.6 322.7 678.1 322.8 679.7 323.0 681.2 323.1 682.8 323.2 684.3 323.3 685.8 323.4 687.4 323.5 688.9 323.6 690.4 323.7 691.9 323.8 693.5 323.9 695.0 324.0 696.5 324.1 698.0 324.3 699.4 324.4 700.9 324.5 702.4 324.6 703.8 324.7 705.3 324.9 706.7 325.0 708.1 325.1 709.5 325.2 710.9 325.4 712.2 325.5 713.6 325.6 714.9 325.8 716.2 325.9 717.5 326.1 718.8 326.2 720.0 326.4 721.7 326.6 723.5 326.8 725.4 327.0 727.3 327.2 729.2 327.4 731.2 327.6 733.1 327.8 735.0 328.0 736.9 328.2 738.8 328.4 740.6 328.6 742.3 328.8 743.9 329.0 745.4 329.3 746.8 329.5 748.1 329.8 749.2 330.1 750.2 330.4 751.0 330.7 751.6 331.0 751.9 331.3 752.1 331.8 751.9 332.3 751.3 332.9 750.4 333.5 749.2 334.1 747.7 334.7 746.1 335.3 744.3 335.9 742.6 336.5 740.8 337.0 739.1 337.6 737.6 338.1 736.3 338.5 735.0 339.0 733.6 339.5 732.2 339.9 730.8 340.3 729.4 340.8 727.9 341.2 726.5 341.6 725.1 342.1 723.6 342.5 722.2 343.0 720.8 343.4 719.4 343.9 718.0 344.4 716.6 344.9 715.2 345.4 713.8 345.9 712.4 346.4 711.0 346.9 709.6 347.4 708.2 347.9 706.9 348.4 705.5 348.9 704.1 349.5 702.7 350.0 701.4 350.5 700.0 351.0 698.6 351.5 697.3 352.0 695.9 352.6 694.5 353.1 693.1 353.6 691.7 354.1 690.3 354.6 689.0 355.2 687.6 355.7 686.3 356.3 685.0 356.9 683.7 357.5 682.4 358.2 681.0 358.9 679.7 359.6 678.4 360.3 677.1 361.0 675.8 361.8 674.5 362.5 673.3 363.3 672.0 364.1 670.8 364.9 669.6 365.7 668.4 366.6 667.2 367.4 665.9 368.3 664.7 369.2 663.5 370.1 662.4 371.1 661.2 372.0 660.1 373.0 658.9 374.0 657.8 375.0 656.7 376.0 655.7 377.0 654.7 378.0 653.7 379.1 652.7 380.1 651.7 381.2 650.8 382.3 649.8 383.4 648.9 384.5 648.0 385.6 647.1 386.7 646.2 387.8 645.3 389.0 644.4 390.2 643.5 391.3 642.7 392.5 641.9 393.7 641.0 394.8 640.2 396.0 639.5 397.2 638.7 398.4 638.0 399.7 637.3 401.0 636.5 402.3 635.9 403.6 635.2 404.9 634.5 406.2 633.9 407.5 633.3 408.8 632.8 410.1 632.2 411.3 631.7 412.5 631.2 413.7 630.7 414.8 630.3 416.0 629.8 417.3 629.4 418.6 628.9 420.0 628.5 421.2 628.1 422.4 627.8 423.7 627.4 425.0 627.0 426.4 626.7 427.8 626.3 429.3 625.9 430.8 625.6 432.2 625.2 433.7 624.9 435.1 624.5 436.5 624.2 437.9 623.9 439.2 623.6 440.5 623.4 442.0 623.1 443.4 622.9 444.8 622.7 446.2 622.5 447.6 622.3 448.9 622.2 450.2 622.0 451.5 621.9 452.8 621.7 454.1 621.6 455.5 621.5 456.9 621.3 458.2 621.2 459.6 621.1 460.9 621.0 462.2 620.9 463.6 620.8 464.9 620.7" fill="none" stroke="#8000ff" stroke-width="2.2" stroke-linejoin="round"/>
<path d="M612.8 615.0L669.4 614.0" fill="none" stroke="#8000ff" stroke-width="2.2"/>
<path d="M44.4 570.5L45.4 570.6 46.5 570.7 47.7 571.1 49.0 571.6 50.2 572.3 51.5 572.7 52.5 572.7 53.6 572.5 54.8 572.3 56.0 572.2 57.3 572.0 58.6 571.8 59.9 571.7 61.1 571.6 62.2 571.5 63.4 571.4 65.0 571.3 65.9 571.3 66.8 571.3 67.9 571.2 69.0 571.2 70.2 571.2 71.5 571.2 72.8 571.3 74.3 571.3 75.7 571.3 77.2 571.3 78.8 571.3 80.4 571.3 82.0 571.4 83.7 571.4 85.3 571.4 87.0 571.4 88.7 571.4 90.4 571.4 92.0 571.4 93.7 571.4 95.3 571.4 96.9 571.4 98.5 571.3 100.0 571.3 101.4 571.3 102.9 571.2 104.4 571.2 106.0 571.1 107.5 571.1 109.1 571.0 110.7 570.9 112.3 570.9 113.9 570.8 115.5 570.7 117.1 570.6 118.7 570.6 120.3 570.5 121.8 570.4 123.4 570.3 125.0 570.2 126.5 570.1 128.0 570.0 129.5 569.9 130.9 569.8 132.4 569.7 133.7 569.6 135.1 569.5 136.4 569.4 137.6 569.2 138.8 569.1 140.0 569.0 141.6 568.8 143.2 568.6 144.6 568.4 146.0 568.1 147.3 567.9 148.5 567.6 149.8 567.4 151.0 567.1 152.3 566.9 153.6 566.7 155.0 566.5 156.4 566.3 157.8 566.1 159.2 565.9 160.6 565.7 162.0 565.5 163.4 565.3 164.8 565.2 166.3 565.0 167.7 564.9 169.1 564.8 170.6 564.7 172.0 564.7 173.4 564.7 174.8 564.8 176.2 564.9 177.7 565.0 179.1 565.2 180.6 565.3 182.0 565.5 183.4 565.7 184.8 565.9 186.2 566.1 187.5 566.2 188.8 566.4 190.0 566.5 191.6 566.6 193.0 566.8 194.4 566.9 195.7 567.0 197.0 567.1 198.5 567.3 200.0 567.4 201.3 567.5 202.6 567.7 204.0 567.8 205.4 568.0 206.8 568.2 208.3 568.3 209.8 568.5 211.3 568.6 212.7 568.8 214.2 568.9 215.6 569.0 217.0 569.1 218.5 569.2 220.0 569.3 221.6 569.3 223.1 569.4 224.5 569.5 226.0 569.5 227.5 569.4 228.9 569.4 230.4 569.3 231.8 569.1 233.3 568.9 234.8 568.7 236.3 568.4 237.8 568.1 239.3 567.8 240.7 567.3 242.1 566.8 243.4 566.1 244.6 565.3 245.6 564.5 246.6 563.5 247.5 562.5 248.3 561.4 249.2 560.2 249.9 558.9 250.7 557.6 251.4 556.2 252.1 554.8 252.8 553.4 253.5 551.9 254.1 550.4 254.6 549.2 255.0 547.9 255.5 546.6 255.9 545.3 256.3 544.0 256.6 542.6 257.0 541.2 257.3 539.7 257.7 538.3 258.0 536.8 258.3 535.3 258.5 533.8 258.8 532.3 259.1 530.7 259.4 529.1 259.7 527.6 259.9 526.0 260.2 524.4 260.5 522.8 260.7 521.5 261.0 520.2 261.2 518.8 261.4 517.5 261.6 516.1 261.8 514.7 262.0 513.3 262.2 511.9 262.4 510.5 262.6 509.0 262.8 507.6 263.0 506.1 263.2 504.7 263.4 503.2 263.6 501.7 263.7 500.3 263.9 498.8 264.1 497.3 264.3 495.8 264.4 494.3 264.6 492.8 264.8 491.4 265.0 489.9 265.1 488.4 265.3 486.9 265.5 485.4 265.6 484.0 265.8 482.5 266.0 481.0 266.1 479.6 266.3 478.1 266.5 476.5 266.6 475.0 266.8 473.4 266.9 471.9 267.1 470.3 267.3 468.7 267.4 467.1 267.6 465.5 267.7 463.9 267.9 462.3 268.0 460.8 268.2 459.2 268.3 457.7 268.4 456.1 268.6 454.6 268.7 453.1 268.9 451.7 269.0 450.2 269.2 448.8 269.3 447.4 269.4 446.1 269.6 444.8 269.7 443.5 269.8 442.3 270.0 441.1 270.1 440.0 270.3 438.3 270.5 436.8 270.7 435.4 270.9 434.1 271.1 432.8 271.3 431.6 271.4 430.4 271.6 429.1 271.8 427.7 272.0 426.3 272.2 424.7 272.3 423.5 272.5 422.2 272.6 421.0 272.8 419.6 272.9 418.3 273.0 416.9 273.2 415.5 273.3 414.0 273.5 412.6 273.6 411.1 273.7 409.6 273.9 408.1 274.0 406.6 274.2 405.0 274.3 403.5 274.5 402.0 274.6 400.4 274.8 398.9 274.9 397.4 275.1 395.9 275.2 394.4 275.4 392.9 275.6 391.4 275.7 390.0 275.9 388.5 276.1 387.1 276.3 385.6 276.4 384.1 276.6 382.6 276.8 381.2 277.0 379.7 277.2 378.2 277.3 376.7 277.5 375.2 277.7 373.7 277.9 372.3 278.1 370.8 278.3 369.3 278.5 367.8 278.7 366.3 278.9 364.8 279.0 363.3 279.2 361.9 279.4 360.4 279.6 358.9 279.8 357.4 280.0 355.9 280.2 354.5 280.3 353.0 280.5 351.5 280.7 350.0 280.9 348.5 281.1 347.0 281.3 345.5 281.5 344.1 281.6 342.6 281.8 341.1 282.0 339.6 282.2 338.1 282.4 336.6 282.6 335.2 282.8 333.7 283.0 332.2 283.1 330.7 283.3 329.3 283.5 327.8 283.7 326.4 283.9 324.9 284.1 323.4 284.3 322.0 284.5 320.5 284.6 319.0 284.8 317.5 285.0 316.0 285.2 314.5 285.4 313.0 285.6 311.6 285.8 310.1 285.9 308.6 286.1 307.2 286.3 305.7 286.5 304.3 286.7 302.8 286.9 301.4 287.1 300.0 287.3 298.6 287.5 297.2 287.7 295.8 287.9 294.4 288.1 293.1 288.3 291.5 288.6 289.9 288.8 288.2 289.1 286.6 289.3 284.9 289.6 283.3 289.9 281.7 290.1 280.1 290.4 278.6 290.7 277.1 290.9 275.6 291.2 274.3 291.5 273.0 291.8 271.8 292.1 270.7 292.4 269.7 293.1 267.8 293.7 266.1 294.4 264.9 295.1 264.4 295.6 264.8 296.1 265.7 296.5 267.0 297.0 268.6 297.4 270.3 297.8 272.0 298.0 273.1 298.2 274.3 298.4 275.5 298.6 276.7 298.8 278.0 298.9 279.4 299.0 280.8 299.2 282.3 299.3 283.8 299.4 285.3 299.6 286.9 299.7 288.6 299.8 290.3 300.0 292.0 300.1 293.2 300.2 294.3 300.3 295.6 300.4 296.8 300.5 298.1 300.7 299.5 300.8 300.8 300.9 302.2 301.0 303.6 301.1 305.0 301.2 306.5 301.4 307.9 301.5 309.4 301.6 310.9 301.7 312.5 301.8 314.0 301.9 315.6 302.1 317.1 302.2 318.7 302.3 320.3 302.4 321.9 302.5 323.5 302.7 325.1 302.8 326.7 302.9 328.3 303.0 329.9 303.1 331.5 303.2 333.1 303.3 334.7 303.5 336.3 303.6 337.8 303.7 339.4 303.8 340.9 303.9 342.5 304.0 344.0 304.1 345.4 304.2 346.9 304.3 348.4 304.4 349.8 304.5 351.3 304.6 352.8 304.7 354.2 304.8 355.7 304.9 357.2 305.0 358.7 305.1 360.2 305.2 361.7 305.3 363.2 305.3 364.7 305.4 366.2 305.5 367.7 305.6 369.2 305.7 370.7 305.8 372.2 305.9 373.6 306.0 375.1 306.1 376.6 306.2 378.1 306.3 379.6 306.3 381.1 306.4 382.6 306.5 384.1 306.6 385.5 306.7 387.0 306.8 388.5 306.9 389.9 307.0 391.4 307.1 392.8 307.1 394.3 307.2 395.7 307.3 397.2 307.4 398.6 307.5 400.0 307.6 401.5 307.7 403.1 307.8 404.6 307.9 406.1 308.0 407.5 308.1 409.0 308.2 410.5 308.3 411.9 308.4 413.4 308.5 414.8 308.6 416.3 308.7 417.7 308.7 419.1 308.8 420.6 308.9 422.0 309.0 423.4 309.1 424.9 309.2 426.3 309.3 427.7 309.4 429.2 309.5 430.6 309.6 432.1 309.7 433.6 309.8 435.1 309.9 436.6 310.0 438.1 310.0 439.6 310.1 441.2 310.2 442.8 310.3 444.4 310.4 446.0 310.5 447.6 310.6 448.9 310.6 450.3 310.7 451.6 310.8 453.0 310.9 454.3 310.9 455.7 311.0 457.1 311.1 458.5 311.1 459.9 311.2 461.3 311.3 462.8 311.4 464.2 311.4 465.6 311.5 467.1 311.6 468.5 311.6 470.0 311.7 471.5 311.8 472.9 311.8 474.4 311.9 475.9 312.0 477.4 312.0 478.9 312.1 480.4 312.2 481.9 312.3 483.4 312.3 484.9 312.4 486.4 312.5 487.9 312.5 489.4 312.6 491.0 312.7 492.5 312.7 494.0 312.8 495.5 312.8 497.1 312.9 498.6 313.0 500.1 313.0 501.7 313.1 503.2 313.2 504.7 313.2 506.3 313.3 507.8 313.4 509.3 313.4 510.9 313.5 512.4 313.6 513.9 313.6 515.4 313.7 517.0 313.7 518.5 313.8 520.0 313.9 521.4 313.9 522.9 314.0 524.4 314.0 525.8 314.1 527.3 314.1 528.8 314.2 530.3 314.2 531.7 314.3 533.2 314.3 534.7 314.4 536.2 314.4 537.7 314.5 539.2 314.5 540.7 314.6 542.3 314.6 543.8 314.7 545.3 314.7 546.8 314.8 548.3 314.8 549.8 314.8 551.4 314.9 552.9 314.9 554.4 315.0 555.9 315.0 557.4 315.1 559.0 315.1 560.5 315.2 562.0 315.2 563.5 315.3 565.0 315.3 566.5 315.4 568.0 315.4 569.5 315.4 571.0 315.5 572.5 315.5 574.0 315.6 575.5 315.6 577.0 315.7 578.5 315.8 580.0 315.8 581.5 315.9 582.9 315.9 584.4 316.0 585.8 316.0 587.3 316.1 588.7 316.1 590.2 316.2 591.6 316.3 593.0 316.3 594.4 316.4 595.8 316.5 597.2 316.5 598.6 316.6 600.0 316.7 601.6 316.8 603.1 316.8 604.7 316.9 606.2 317.0 607.8 317.1 609.3 317.2 610.9 317.3 612.4 317.4 613.9 317.5 615.4 317.6 616.9 317.7 618.5 317.8 620.0 317.9 621.5 318.0 623.0 318.1 624.4 318.2 625.9 318.3 627.4 318.4 628.9 318.5 630.3 318.6 631.8 318.7 633.3 318.8 634.7 318.9 636.2 319.0 637.6 319.1 639.1 319.2 640.5 319.3 641.9 319.4 643.3 319.5 644.8 319.6 646.2 319.7 647.6 319.8 649.0 319.9 650.4 320.0 651.8 320.1 653.1 320.2 654.5 320.3 655.9 320.4 657.3 320.5 658.6 320.6 660.0 320.7 661.6 320.8 663.1 320.9 664.7 321.0 666.2 321.1 667.8 321.2 669.3 321.3 670.9 321.4 672.4 321.5 674.0 321.6 675.5 321.7 677.0 321.8 678.5 321.9 680.1 322.0 681.6 322.1 683.0 322.2 684.5 322.3 686.0 322.4 687.5 322.5 688.9 322.6 690.3 322.7 691.8 322.8 693.2 322.9 694.6 323.0 695.9 323.1 697.3 323.2 698.6 323.3 699.9 323.4 701.2 323.6 702.5 323.7 703.8 323.8 705.0 324.0 706.7 324.1 708.4 324.2 710.3 324.4 712.1 324.5 714.0 324.6 715.9 324.8 717.7 324.9 719.5 325.1 721.1 325.2 722.7 325.4 724.2 325.6 725.5 325.8 726.6 326.0 727.5 326.3 728.2 326.6 728.7 326.9 728.9 327.4 728.7 327.9 728.1 328.4 727.1 329.0 725.8 329.6 724.3 330.3 722.7 330.9 721.0 331.5 719.3 332.1 717.7 332.6 716.3 333.1 715.0 333.6 713.7 334.1 712.3 334.6 711.0 335.0 709.6 335.5 708.2 336.0 706.8 336.4 705.5 336.8 704.1 337.2 702.8 337.6 701.5 338.0 700.0 338.4 698.5 338.8 697.1 339.1 695.7 339.4 694.3 339.8 692.9 340.1 691.5 340.5 690.0 340.9 688.6 341.2 687.2 341.6 685.9 342.0 684.4 342.4 683.0 342.8 681.6 343.1 680.3 343.5 678.9 343.9 677.5 344.3 676.0 344.7 674.6 345.1 673.1 345.4 671.6 345.8 670.2 346.2 668.8 346.6 667.4 347.0 666.0 347.4 664.7 347.9 663.3 348.3 662.1 348.8 660.8 349.3 659.6 349.7 658.3 350.2 657.0 350.7 655.6 351.2 654.3 351.7 652.9 352.2 651.5 352.7 650.2 353.3 648.8 353.8 647.5 354.3 646.2 354.8 645.0 355.3 643.8 355.9 642.5 356.4 641.3 356.9 640.2 357.5 639.0 358.1 637.8 358.8 636.6 359.4 635.4 360.1 634.2 360.8 633.1 361.5 632.0 362.3 630.9 363.1 629.8 363.9 628.7 364.7 627.6 365.7 626.5 366.6 625.5 367.5 624.5 368.5 623.5 369.6 622.4 370.7 621.4 371.7 620.3 372.8 619.3 373.8 618.3 374.8 617.3 375.9 616.3 376.9 615.3 377.9 614.3 378.9 613.3 379.9 612.3 381.0 611.3 382.0 610.3 383.1 609.4 384.1 608.4 385.2 607.5 386.3 606.5 387.5 605.5 388.7 604.5 390.0 603.5 391.0 602.7 392.0 601.9 393.1 601.1 394.3 600.3 395.4 599.5 396.6 598.6 397.8 597.8 399.0 597.0 400.2 596.1 401.5 595.4 402.7 594.6 403.9 593.8 405.0 593.2 406.2 592.5 407.5 591.8 408.7 591.2 409.9 590.6 411.1 590.0 412.3 589.5 413.5 589.0 414.8 588.5 416.0 588.0 417.3 587.5 418.6 587.0 420.0 586.5 421.2 586.1 422.5 585.6 423.9 585.2 425.3 584.7 426.7 584.2 428.1 583.8 429.5 583.4 430.9 582.9 432.4 582.5 433.8 582.1 435.2 581.8 436.6 581.4 437.9 581.1 439.2 580.8 440.5 580.5 442.0 580.2 443.4 580.0 444.8 579.8 446.2 579.6 447.6 579.4 448.9 579.3 450.2 579.2 451.5 579.1 452.8 578.9 454.1 578.8 455.5 578.7 456.9 578.5 458.2 578.4 459.6 578.3 460.9 578.2 462.2 578.0 463.6 577.9 464.9 577.8" fill="none" stroke="#870a87" stroke-width="2.2" stroke-linejoin="round"/>
<path d="M612.8 571.5L669.4 570.5" fill="none" stroke="#870a87" stroke-width="2.2"/>
<path d="M44.4 527.4L45.4 527.4 46.5 527.6 47.7 527.9 49.0 528.4 50.2 529.0 51.5 529.4 52.5 529.4 53.6 529.2 54.8 529.0 56.0 528.9 57.3 528.7 58.6 528.6 59.9 528.5 61.1 528.3 62.2 528.3 63.4 528.2 65.0 528.1 65.9 528.1 66.8 528.1 67.9 528.1 69.0 528.0 70.2 528.1 71.5 528.1 72.8 528.1 74.3 528.1 75.7 528.1 77.2 528.1 78.8 528.1 80.4 528.2 82.0 528.2 83.7 528.2 85.3 528.2 87.0 528.2 88.7 528.2 90.4 528.2 92.0 528.2 93.7 528.2 95.3 528.2 96.9 528.2 98.5 528.1 100.0 528.1 101.4 528.1 102.9 528.0 104.4 527.9 106.0 527.9 107.5 527.8 109.1 527.8 110.7 527.7 112.3 527.6 113.9 527.5 115.5 527.5 117.1 527.4 118.7 527.3 120.3 527.2 121.8 527.1 123.4 527.0 125.0 526.9 126.5 526.8 128.0 526.7 129.5 526.6 130.9 526.4 132.4 526.3 133.8 526.2 135.1 526.1 136.4 525.9 137.6 525.8 138.9 525.6 140.0 525.5 141.6 525.3 143.2 525.0 144.6 524.7 146.0 524.5 147.3 524.2 148.6 523.9 149.9 523.6 151.1 523.3 152.4 523.0 153.7 522.7 155.0 522.5 156.4 522.3 157.7 522.0 159.1 521.7 160.4 521.5 161.8 521.2 163.2 521.0 164.5 520.7 165.9 520.6 167.3 520.4 168.6 520.3 170.0 520.3 171.4 520.3 172.7 520.4 174.1 520.6 175.5 520.8 176.8 521.0 178.2 521.2 179.5 521.5 180.9 521.8 182.3 522.0 183.6 522.3 185.0 522.5 186.4 522.7 187.7 522.9 189.1 523.2 190.4 523.4 191.8 523.7 193.1 523.9 194.5 524.1 195.8 524.3 197.2 524.5 198.6 524.7 200.0 524.9 201.4 525.1 202.8 525.2 204.3 525.3 205.7 525.5 207.2 525.6 208.7 525.7 210.1 525.8 211.6 525.9 213.0 526.0 214.4 526.0 215.7 526.0 217.0 526.0 218.5 526.0 219.8 526.0 221.2 525.9 222.5 525.8 223.8 525.7 225.1 525.5 226.3 525.3 227.6 524.9 228.8 524.5 230.1 524.0 231.3 523.4 232.5 522.8 233.7 522.1 234.9 521.3 236.1 520.5 237.2 519.6 238.2 518.6 239.1 517.7 239.9 516.7 240.7 515.6 241.5 514.4 242.2 513.3 242.9 512.0 243.6 510.7 244.3 509.4 244.9 508.0 245.5 506.6 246.1 505.2 246.7 503.7 247.2 502.5 247.6 501.2 248.0 499.9 248.4 498.6 248.8 497.2 249.2 495.8 249.5 494.4 249.8 493.0 250.2 491.5 250.5 490.0 250.8 488.5 251.1 487.0 251.4 485.4 251.7 483.9 251.9 482.3 252.2 480.8 252.5 479.2 252.8 477.7 253.1 476.1 253.4 474.7 253.6 473.4 253.8 472.0 254.1 470.6 254.3 469.2 254.6 467.8 254.8 466.3 255.0 464.9 255.2 463.4 255.5 462.0 255.7 460.5 255.9 459.1 256.1 457.6 256.3 456.1 256.5 454.6 256.7 453.2 256.9 451.7 257.1 450.2 257.3 448.7 257.5 447.3 257.7 445.8 257.9 444.3 258.1 442.9 258.2 441.4 258.4 440.0 258.6 438.6 258.7 437.1 258.9 435.7 259.0 434.2 259.2 432.8 259.3 431.3 259.4 429.9 259.6 428.4 259.7 427.0 259.8 425.5 259.9 424.1 260.0 422.7 260.2 421.2 260.3 419.8 260.4 418.4 260.5 416.9 260.6 415.5 260.8 414.1 260.9 412.7 261.0 411.2 261.2 409.8 261.3 408.4 261.4 407.0 261.6 405.6 261.8 404.1 261.9 402.7 262.1 401.2 262.3 399.7 262.5 398.3 262.7 396.8 262.9 395.4 263.0 393.9 263.2 392.5 263.4 391.1 263.6 389.6 263.8 388.2 264.0 386.7 264.2 385.3 264.4 383.9 264.6 382.4 264.8 381.0 265.0 379.6 265.2 378.1 265.4 376.7 265.6 375.2 265.8 373.8 266.0 372.4 266.2 370.9 266.4 369.5 266.6 368.0 266.8 366.6 267.0 365.1 267.2 363.7 267.4 362.2 267.6 360.8 267.8 359.3 268.0 357.9 268.1 356.4 268.3 355.0 268.5 353.5 268.7 352.1 268.9 350.6 269.1 349.2 269.3 347.7 269.5 346.3 269.7 344.8 269.9 343.4 270.1 341.9 270.3 340.5 270.5 339.0 270.7 337.6 270.9 336.1 271.0 334.7 271.2 333.3 271.4 331.8 271.6 330.4 271.8 329.0 272.0 327.6 272.2 326.1 272.4 324.7 272.5 323.3 272.7 321.8 272.9 320.4 273.1 318.9 273.3 317.4 273.5 316.0 273.7 314.5 273.9 313.0 274.1 311.5 274.3 310.0 274.5 308.6 274.7 307.1 274.9 305.7 275.1 304.2 275.3 302.7 275.5 301.2 275.7 299.7 275.9 298.2 276.1 296.7 276.3 295.1 276.6 293.6 276.8 292.1 277.0 290.5 277.2 289.0 277.4 287.5 277.6 286.0 277.8 284.5 278.0 283.0 278.2 281.5 278.5 280.0 278.7 278.6 278.9 277.2 279.0 275.8 279.2 274.4 279.4 273.1 279.6 271.8 279.8 270.2 280.0 268.6 280.3 267.1 280.5 265.6 280.7 264.2 280.9 262.7 281.1 261.3 281.3 259.9 281.4 258.5 281.6 257.1 281.8 255.7 282.0 254.4 282.2 253.0 282.4 251.6 282.6 250.1 282.8 248.7 283.0 247.2 283.2 245.8 283.4 244.3 283.5 242.8 283.7 241.3 283.9 239.8 284.0 238.3 284.2 236.8 284.4 235.4 284.6 233.9 284.8 232.4 285.0 231.0 285.2 229.5 285.5 228.1 285.7 226.7 286.0 225.3 286.3 223.8 286.7 222.1 287.1 220.4 287.5 218.6 287.9 216.8 288.3 215.0 288.8 213.2 289.2 211.6 289.7 210.1 290.1 208.8 290.5 207.7 290.9 206.9 291.3 206.4 291.7 206.2 292.2 206.5 292.7 207.5 293.2 208.8 293.6 210.5 294.1 212.2 294.5 214.0 294.7 215.0 295.0 216.1 295.2 217.3 295.4 218.5 295.7 219.7 295.9 221.0 296.1 222.4 296.3 223.8 296.5 225.2 296.7 226.7 296.9 228.3 297.1 229.8 297.3 231.4 297.5 233.1 297.6 234.8 297.8 236.5 298.0 238.2 298.2 240.0 298.3 241.1 298.4 242.3 298.5 243.5 298.7 244.7 298.8 246.0 298.9 247.2 299.0 248.5 299.1 249.9 299.2 251.2 299.3 252.6 299.4 253.9 299.5 255.3 299.6 256.8 299.7 258.2 299.8 259.7 299.9 261.1 300.0 262.6 300.1 264.1 300.2 265.7 300.3 267.2 300.4 268.7 300.5 270.3 300.6 271.8 300.7 273.4 300.8 275.0 300.9 276.6 301.0 278.1 301.1 279.7 301.2 281.3 301.2 282.9 301.3 284.5 301.4 286.1 301.5 287.7 301.6 289.3 301.7 290.9 301.8 292.5 301.8 294.1 301.9 295.7 302.0 297.2 302.1 298.8 302.2 300.4 302.2 301.9 302.3 303.5 302.4 305.0 302.5 306.5 302.5 308.0 302.6 309.5 302.7 311.0 302.7 312.4 302.8 313.9 302.9 315.4 302.9 316.8 303.0 318.3 303.1 319.8 303.1 321.2 303.2 322.7 303.2 324.2 303.3 325.6 303.3 327.1 303.4 328.6 303.4 330.1 303.5 331.5 303.5 333.0 303.6 334.5 303.6 336.0 303.7 337.4 303.7 338.9 303.8 340.4 303.8 341.9 303.9 343.3 303.9 344.8 303.9 346.3 304.0 347.8 304.0 349.2 304.1 350.7 304.1 352.2 304.2 353.6 304.2 355.1 304.2 356.6 304.3 358.1 304.3 359.5 304.4 361.0 304.4 362.5 304.5 363.9 304.5 365.4 304.6 366.9 304.6 368.3 304.6 369.8 304.7 371.3 304.7 372.7 304.8 374.2 304.8 375.6 304.9 377.1 304.9 378.5 305.0 380.0 305.1 381.5 305.1 383.0 305.2 384.4 305.2 385.9 305.3 387.4 305.3 388.9 305.4 390.3 305.5 391.8 305.5 393.3 305.6 394.7 305.6 396.2 305.7 397.7 305.8 399.1 305.8 400.6 305.9 402.1 306.0 403.5 306.0 405.0 306.1 406.4 306.1 407.9 306.2 409.4 306.3 410.8 306.3 412.3 306.4 413.7 306.5 415.2 306.5 416.7 306.6 418.1 306.6 419.6 306.7 421.0 306.8 422.5 306.8 424.0 306.9 425.4 307.0 426.9 307.0 428.4 307.1 429.8 307.1 431.3 307.2 432.8 307.3 434.2 307.3 435.7 307.4 437.2 307.4 438.7 307.5 440.2 307.6 441.6 307.6 443.1 307.7 444.6 307.7 446.1 307.8 447.6 307.9 449.1 307.9 450.5 308.0 452.0 308.0 453.4 308.1 454.9 308.1 456.4 308.2 457.8 308.2 459.3 308.3 460.8 308.3 462.2 308.4 463.7 308.4 465.2 308.5 466.7 308.5 468.1 308.6 469.6 308.6 471.1 308.7 472.6 308.7 474.1 308.8 475.5 308.8 477.0 308.9 478.5 308.9 480.0 309.0 481.5 309.0 483.0 309.1 484.5 309.1 486.0 309.2 487.4 309.2 488.9 309.3 490.4 309.3 491.9 309.4 493.4 309.4 494.9 309.5 496.4 309.5 497.8 309.6 499.3 309.6 500.8 309.7 502.3 309.8 503.8 309.8 505.3 309.9 506.7 309.9 508.2 310.0 509.7 310.0 511.2 310.1 512.7 310.2 514.1 310.2 515.6 310.3 517.1 310.3 518.5 310.4 520.0 310.5 521.5 310.5 523.0 310.6 524.5 310.7 526.0 310.7 527.5 310.8 529.0 310.9 530.5 310.9 532.1 311.0 533.6 311.1 535.1 311.2 536.6 311.2 538.1 311.3 539.6 311.4 541.1 311.4 542.6 311.5 544.1 311.6 545.6 311.7 547.1 311.7 548.6 311.8 550.2 311.9 551.7 312.0 553.2 312.1 554.7 312.1 556.2 312.2 557.7 312.3 559.2 312.4 560.7 312.4 562.1 312.5 563.6 312.6 565.1 312.7 566.6 312.8 568.1 312.8 569.6 312.9 571.1 313.0 572.5 313.1 574.0 313.2 575.5 313.2 577.0 313.3 578.4 313.4 579.9 313.5 581.3 313.6 582.8 313.7 584.2 313.7 585.7 313.8 587.1 313.9 588.6 314.0 590.0 314.1 591.5 314.2 593.0 314.3 594.6 314.4 596.1 314.5 597.6 314.5 599.2 314.6 600.7 314.7 602.2 314.8 603.8 314.9 605.3 315.0 606.9 315.1 608.4 315.2 609.9 315.3 611.5 315.4 613.0 315.5 614.5 315.6 616.0 315.7 617.5 315.8 619.0 315.9 620.5 316.0 622.0 316.1 623.5 316.2 625.0 316.3 626.5 316.4 628.0 316.5 629.4 316.6 630.9 316.7 632.3 316.8 633.8 316.9 635.2 317.0 636.6 317.1 638.0 317.2 639.4 317.3 640.8 317.4 642.1 317.5 643.5 317.6 644.8 317.7 646.1 317.8 647.4 317.9 648.7 318.0 650.0 318.1 651.6 318.3 653.3 318.4 654.9 318.6 656.5 318.7 658.1 318.8 659.7 319.0 661.3 319.1 662.8 319.2 664.4 319.4 665.9 319.5 667.4 319.7 668.9 319.8 670.4 320.0 671.8 320.1 673.2 320.2 674.6 320.4 676.0 320.5 677.4 320.7 678.7 320.9 680.0 321.0 681.3 321.2 682.6 321.3 683.8 321.5 685.0 321.7 686.7 322.0 688.5 322.2 690.4 322.4 692.2 322.6 694.1 322.9 695.8 323.1 697.4 323.3 698.8 323.6 700.0 323.9 700.9 324.2 701.5 324.5 701.7 324.9 701.5 325.3 700.8 325.7 699.8 326.1 698.4 326.6 696.8 327.1 695.1 327.5 693.2 328.0 691.4 328.4 689.6 328.9 687.9 329.2 686.7 329.6 685.4 329.9 684.1 330.3 682.8 330.6 681.4 331.0 680.0 331.3 678.5 331.7 677.1 332.0 675.6 332.4 674.1 332.7 672.7 333.1 671.2 333.4 669.7 333.8 668.3 334.1 666.9 334.4 665.5 334.8 664.1 335.1 662.8 335.5 661.4 335.8 660.0 336.2 658.6 336.5 657.2 336.9 655.9 337.2 654.6 337.5 653.2 337.9 651.9 338.2 650.6 338.6 649.3 338.9 648.0 339.3 646.6 339.6 645.3 340.0 643.9 340.4 642.5 340.7 641.1 341.1 639.7 341.5 638.2 341.9 636.8 342.2 635.3 342.6 633.9 343.0 632.4 343.4 631.0 343.8 629.6 344.2 628.1 344.6 626.8 345.0 625.4 345.4 624.1 345.8 622.8 346.3 621.4 346.7 620.0 347.2 618.7 347.7 617.4 348.2 616.1 348.7 614.8 349.2 613.5 349.6 612.3 350.1 611.0 350.6 609.8 351.1 608.5 351.6 607.2 352.1 605.8 352.5 604.5 353.0 603.2 353.4 601.9 353.9 600.6 354.4 599.3 354.9 598.0 355.5 596.7 356.1 595.4 356.7 594.1 357.4 592.8 358.1 591.5 358.8 590.2 359.6 588.9 360.3 587.6 361.1 586.3 362.0 585.0 362.8 583.7 363.6 582.5 364.5 581.3 365.3 580.1 366.2 579.0 367.0 577.8 367.9 576.8 368.8 575.7 369.8 574.6 370.7 573.6 371.7 572.6 372.6 571.6 373.6 570.7 374.5 569.7 375.5 568.8 376.6 567.8 377.7 566.8 378.9 565.9 380.0 565.0 381.2 564.1 382.3 563.2 383.5 562.3 384.6 561.5 385.8 560.7 387.1 559.8 388.3 559.0 389.6 558.2 390.9 557.4 392.1 556.7 393.4 555.9 394.7 555.2 396.0 554.5 397.3 553.8 398.5 553.1 399.7 552.5 401.0 551.9 402.2 551.2 403.5 550.6 404.8 550.0 406.2 549.4 407.5 548.9 408.8 548.3 410.1 547.8 411.4 547.3 412.8 546.8 414.2 546.3 415.6 545.8 417.0 545.3 418.5 544.8 420.0 544.3 421.3 543.9 422.6 543.5 423.9 543.0 425.3 542.6 426.7 542.1 428.1 541.7 429.5 541.2 430.9 540.8 432.4 540.4 433.8 540.0 435.2 539.6 436.6 539.2 437.9 538.8 439.2 538.5 440.5 538.2 442.0 537.9 443.4 537.6 444.8 537.3 446.2 537.1 447.6 536.9 448.9 536.7 450.2 536.5 451.5 536.3 452.8 536.2 454.1 536.0 455.5 535.8 456.9 535.7 458.2 535.5 459.6 535.4 460.9 535.3 462.2 535.2 463.6 535.0 464.9 534.9" fill="none" stroke="#8c0606" stroke-width="2.2" stroke-linejoin="round"/>
<path d="M612.8 528.5L669.4 527.2" fill="none" stroke="#8c0606" stroke-width="2.2"/>
<path d="M44.4 484.3L45.4 484.4 46.5 484.6 47.7 485.1 49.0 485.8 50.2 486.7 51.5 487.3 52.5 487.3 53.6 487.1 54.8 486.8 56.0 486.6 57.3 486.4 58.6 486.1 59.9 485.9 61.1 485.8 62.2 485.6 63.4 485.5 65.0 485.4 65.9 485.4 66.8 485.3 67.9 485.3 69.0 485.3 70.2 485.3 71.5 485.3 72.8 485.3 74.3 485.3 75.7 485.4 77.2 485.4 78.8 485.4 80.4 485.4 82.0 485.5 83.7 485.5 85.3 485.5 87.0 485.5 88.7 485.5 90.4 485.5 92.0 485.5 93.7 485.5 95.3 485.5 96.9 485.5 98.5 485.4 100.0 485.4 101.4 485.3 102.9 485.3 104.4 485.2 106.0 485.2 107.5 485.1 109.1 485.0 110.7 484.9 112.3 484.8 113.9 484.7 115.5 484.7 117.1 484.6 118.7 484.4 120.3 484.3 121.8 484.2 123.4 484.1 125.0 484.0 126.5 483.9 128.0 483.8 129.5 483.6 130.9 483.5 132.4 483.4 133.8 483.2 135.1 483.1 136.4 482.9 137.6 482.8 138.9 482.7 140.0 482.5 141.6 482.3 143.2 482.0 144.7 481.7 146.0 481.5 147.4 481.2 148.7 480.9 149.9 480.6 151.2 480.3 152.4 480.0 153.7 479.8 155.0 479.5 156.5 479.2 157.9 478.8 159.3 478.5 160.7 478.2 162.1 477.8 163.6 477.5 165.0 477.3 166.5 477.1 168.0 477.0 169.3 477.0 170.7 477.0 172.1 477.1 173.5 477.3 175.0 477.4 176.4 477.6 177.9 477.9 179.3 478.1 180.8 478.3 182.2 478.6 183.6 478.8 185.0 479.0 186.4 479.2 187.8 479.4 189.3 479.7 190.7 479.9 192.1 480.2 193.5 480.4 194.9 480.6 196.2 480.9 197.5 481.1 198.8 481.2 200.0 481.4 201.6 481.6 203.0 481.7 204.4 481.8 205.8 481.9 207.1 482.0 208.5 482.0 209.9 482.0 211.3 482.0 212.7 481.9 214.1 481.8 215.5 481.6 217.0 481.4 218.3 481.2 219.7 481.0 221.0 480.7 222.4 480.4 223.8 480.0 225.1 479.6 226.4 479.0 227.6 478.2 228.5 477.4 229.4 476.6 230.3 475.6 231.1 474.5 231.9 473.4 232.7 472.2 233.4 471.0 234.1 469.6 234.8 468.3 235.5 466.9 236.1 465.5 236.6 464.3 237.1 463.1 237.5 461.9 237.9 460.6 238.3 459.2 238.7 457.8 239.0 456.4 239.4 455.0 239.7 453.5 240.0 452.0 240.4 450.5 240.7 449.0 241.0 447.5 241.3 446.0 241.6 444.5 241.9 443.0 242.2 441.5 242.5 440.0 242.8 438.6 243.1 437.2 243.4 435.9 243.6 434.4 243.9 433.0 244.2 431.6 244.4 430.2 244.7 428.8 245.0 427.3 245.2 425.9 245.5 424.5 245.7 423.0 245.9 421.6 246.2 420.1 246.4 418.7 246.7 417.2 246.9 415.7 247.1 414.3 247.3 412.8 247.6 411.4 247.8 409.9 248.0 408.5 248.2 407.0 248.4 405.6 248.6 404.2 248.8 402.7 249.0 401.3 249.2 399.8 249.4 398.4 249.6 396.9 249.8 395.5 250.0 394.0 250.2 392.6 250.3 391.1 250.5 389.6 250.7 388.2 250.9 386.7 251.1 385.3 251.2 383.8 251.4 382.4 251.6 380.9 251.8 379.4 252.0 378.0 252.2 376.6 252.4 375.1 252.6 373.7 252.8 372.2 253.0 370.8 253.2 369.3 253.4 367.9 253.6 366.4 253.8 365.0 254.0 363.5 254.1 362.1 254.3 360.7 254.5 359.2 254.7 357.8 254.9 356.3 255.1 354.9 255.3 353.4 255.5 352.0 255.7 350.5 255.9 349.1 256.1 347.6 256.3 346.2 256.5 344.8 256.7 343.3 256.9 341.9 257.1 340.4 257.2 339.0 257.4 337.5 257.6 336.0 257.8 334.6 258.0 333.1 258.2 331.7 258.3 330.2 258.5 328.8 258.7 327.3 258.9 325.9 259.1 324.4 259.3 323.0 259.5 321.5 259.7 320.1 259.9 318.6 260.1 317.2 260.3 315.7 260.5 314.3 260.7 312.9 260.9 311.4 261.2 310.0 261.4 308.5 261.7 307.1 261.9 305.6 262.1 304.2 262.4 302.8 262.6 301.3 262.9 299.9 263.2 298.5 263.4 297.0 263.7 295.6 263.9 294.1 264.2 292.7 264.4 291.2 264.6 289.8 264.9 288.3 265.1 286.9 265.4 285.4 265.6 284.0 265.8 282.5 266.0 281.1 266.2 279.6 266.4 278.1 266.6 276.7 266.8 275.2 267.0 273.7 267.2 272.3 267.4 270.8 267.6 269.3 267.7 267.8 267.9 266.3 268.1 264.9 268.3 263.4 268.5 261.9 268.6 260.4 268.8 259.0 269.0 257.5 269.2 256.0 269.4 254.5 269.5 253.1 269.7 251.6 269.9 250.2 270.1 248.7 270.3 247.2 270.5 245.8 270.7 244.3 270.9 242.8 271.0 241.3 271.2 239.8 271.4 238.4 271.6 236.9 271.8 235.4 272.0 233.9 272.2 232.5 272.3 231.0 272.5 229.5 272.7 228.1 272.9 226.6 273.1 225.2 273.3 223.8 273.5 222.4 273.7 221.0 273.9 219.6 274.1 218.2 274.3 216.8 274.5 215.3 274.8 213.8 275.0 212.4 275.2 210.9 275.5 209.5 275.7 208.1 275.9 206.7 276.2 205.2 276.4 203.8 276.7 202.5 276.9 201.1 277.1 199.7 277.4 198.3 277.6 196.9 277.9 195.5 278.1 194.2 278.4 192.8 278.6 191.4 278.9 189.9 279.1 188.4 279.4 186.9 279.6 185.4 279.9 183.9 280.1 182.3 280.4 180.8 280.6 179.3 280.9 177.9 281.2 176.4 281.4 174.9 281.7 173.5 282.0 172.1 282.2 170.7 282.5 169.3 282.8 168.0 283.2 166.3 283.5 164.5 283.9 162.6 284.3 160.7 284.6 158.8 285.0 157.0 285.4 155.4 285.8 154.1 286.2 153.0 286.6 152.3 287.0 152.1 287.4 152.3 287.9 153.0 288.3 154.0 288.8 155.3 289.2 156.9 289.7 158.6 290.1 160.4 290.5 162.3 290.9 164.1 291.3 165.9 291.5 167.1 291.7 168.3 291.9 169.5 292.1 170.8 292.3 172.2 292.4 173.6 292.6 175.0 292.7 176.4 292.9 177.9 293.0 179.4 293.1 180.9 293.2 182.5 293.4 184.0 293.5 185.6 293.6 187.2 293.7 188.8 293.8 190.4 293.9 192.0 294.0 193.6 294.1 195.2 294.2 196.8 294.4 198.3 294.5 199.9 294.6 201.3 294.7 202.7 294.9 204.0 295.0 205.4 295.1 206.8 295.2 208.2 295.3 209.6 295.4 211.0 295.6 212.4 295.7 213.8 295.8 215.2 295.9 216.6 296.0 218.0 296.1 219.5 296.3 220.9 296.4 222.4 296.5 223.8 296.6 225.3 296.7 226.8 296.8 228.3 296.9 229.8 297.0 231.3 297.1 232.8 297.2 234.4 297.3 235.9 297.4 237.5 297.5 239.1 297.6 240.7 297.7 242.3 297.8 243.6 297.8 245.0 297.9 246.3 298.0 247.7 298.0 249.1 298.1 250.5 298.2 251.9 298.2 253.3 298.3 254.7 298.3 256.2 298.4 257.6 298.5 259.1 298.5 260.5 298.6 262.0 298.6 263.5 298.7 265.0 298.7 266.5 298.8 268.0 298.8 269.5 298.9 271.0 298.9 272.5 299.0 274.1 299.0 275.6 299.1 277.1 299.1 278.7 299.2 280.2 299.2 281.8 299.2 283.3 299.3 284.9 299.3 286.4 299.4 288.0 299.4 289.5 299.5 291.1 299.5 292.6 299.5 294.2 299.6 295.7 299.6 297.3 299.7 298.8 299.7 300.3 299.8 301.9 299.8 303.4 299.9 304.9 299.9 306.5 300.0 308.0 300.0 309.5 300.0 311.0 300.1 312.4 300.1 313.9 300.2 315.3 300.2 316.8 300.3 318.2 300.3 319.7 300.4 321.2 300.4 322.6 300.4 324.1 300.5 325.6 300.5 327.0 300.6 328.5 300.6 330.0 300.6 331.5 300.7 332.9 300.7 334.4 300.8 335.9 300.8 337.4 300.8 338.8 300.9 340.3 300.9 341.8 301.0 343.3 301.0 344.7 301.0 346.2 301.1 347.7 301.1 349.2 301.2 350.6 301.2 352.1 301.2 353.6 301.3 355.1 301.3 356.5 301.4 358.0 301.4 359.5 301.4 361.0 301.5 362.4 301.5 363.9 301.6 365.4 301.6 366.8 301.7 368.3 301.7 369.8 301.7 371.2 301.8 372.7 301.8 374.2 301.9 375.6 301.9 377.1 302.0 378.5 302.0 380.0 302.0 381.5 302.1 383.0 302.1 384.4 302.2 385.9 302.2 387.4 302.3 388.9 302.3 390.3 302.4 391.8 302.4 393.3 302.5 394.7 302.5 396.2 302.6 397.7 302.6 399.1 302.7 400.6 302.7 402.1 302.8 403.5 302.8 405.0 302.9 406.4 302.9 407.9 303.0 409.4 303.0 410.8 303.1 412.3 303.1 413.7 303.2 415.2 303.2 416.7 303.3 418.1 303.3 419.6 303.4 421.0 303.4 422.5 303.5 424.0 303.5 425.4 303.6 426.9 303.6 428.4 303.7 429.8 303.7 431.3 303.8 432.8 303.8 434.2 303.9 435.7 303.9 437.2 304.0 438.7 304.0 440.2 304.1 441.6 304.1 443.1 304.2 444.6 304.2 446.1 304.3 447.6 304.4 449.1 304.4 450.5 304.5 452.0 304.5 453.4 304.6 454.9 304.6 456.4 304.7 457.8 304.7 459.3 304.8 460.8 304.8 462.2 304.8 463.7 304.9 465.2 304.9 466.7 305.0 468.1 305.0 469.6 305.1 471.1 305.1 472.6 305.2 474.1 305.2 475.6 305.3 477.0 305.3 478.5 305.4 480.0 305.4 481.5 305.5 483.0 305.5 484.5 305.6 486.0 305.6 487.4 305.7 488.9 305.7 490.4 305.8 491.9 305.9 493.4 305.9 494.9 306.0 496.4 306.0 497.8 306.1 499.3 306.1 500.8 306.2 502.3 306.3 503.8 306.3 505.3 306.4 506.7 306.4 508.2 306.5 509.7 306.6 511.2 306.6 512.7 306.7 514.1 306.8 515.6 306.9 517.1 306.9 518.5 307.0 520.0 307.1 521.5 307.2 523.0 307.2 524.5 307.3 526.0 307.4 527.6 307.5 529.1 307.6 530.6 307.7 532.1 307.7 533.7 307.8 535.2 307.9 536.7 308.0 538.2 308.1 539.8 308.2 541.3 308.3 542.8 308.4 544.4 308.5 545.9 308.6 547.4 308.7 549.0 308.8 550.5 308.9 552.0 309.0 553.5 309.1 555.1 309.2 556.6 309.3 558.1 309.4 559.6 309.5 561.1 309.6 562.6 309.7 564.1 309.8 565.6 309.9 567.1 310.0 568.6 310.1 570.1 310.2 571.5 310.3 573.0 310.4 574.5 310.5 575.9 310.6 577.4 310.7 578.8 310.8 580.2 310.9 581.6 311.0 583.1 311.1 584.5 311.2 585.9 311.3 587.3 311.4 588.6 311.5 590.0 311.6 591.6 311.7 593.2 311.8 594.8 312.0 596.4 312.1 598.0 312.2 599.5 312.3 601.1 312.4 602.7 312.6 604.3 312.7 605.8 312.8 607.4 312.9 609.0 313.0 610.5 313.2 612.0 313.3 613.6 313.4 615.1 313.5 616.6 313.6 618.1 313.8 619.6 313.9 621.1 314.0 622.5 314.1 624.0 314.2 625.4 314.4 626.8 314.5 628.2 314.6 629.6 314.7 631.0 314.8 632.3 314.9 633.6 315.1 635.0 315.2 636.2 315.3 637.5 315.4 638.8 315.5 640.0 315.7 641.7 315.8 643.4 315.9 645.0 316.1 646.7 316.2 648.3 316.4 649.8 316.5 651.4 316.7 652.9 316.8 654.4 316.9 655.8 317.1 657.2 317.2 658.6 317.4 660.0 317.5 661.3 317.7 662.5 317.8 663.8 318.0 665.0 318.2 666.8 318.4 668.7 318.6 670.7 318.9 672.5 319.1 674.1 319.4 675.4 319.7 676.3 320.1 676.6 320.5 676.4 321.0 675.8 321.6 674.8 322.2 673.5 322.8 672.0 323.4 670.3 324.0 668.6 324.6 666.9 325.1 665.3 325.5 664.2 325.8 663.0 326.2 661.8 326.5 660.5 326.9 659.2 327.2 657.9 327.5 656.5 327.8 655.1 328.2 653.6 328.5 652.2 328.8 650.7 329.1 649.2 329.5 647.7 329.8 646.2 330.1 644.6 330.4 643.1 330.7 641.6 331.1 640.0 331.4 638.5 331.7 637.1 332.0 635.8 332.3 634.4 332.6 632.9 332.9 631.5 333.2 630.0 333.5 628.5 333.8 627.0 334.1 625.5 334.3 624.0 334.6 622.5 334.9 621.0 335.2 619.5 335.5 618.0 335.8 616.5 336.1 615.0 336.4 613.5 336.7 612.0 337.0 610.5 337.3 609.0 337.6 607.6 337.9 606.2 338.2 604.7 338.5 603.4 338.8 602.0 339.1 600.5 339.5 599.0 339.8 597.5 340.1 596.0 340.5 594.5 340.8 593.0 341.1 591.5 341.4 590.1 341.8 588.6 342.1 587.2 342.4 585.8 342.8 584.4 343.1 583.0 343.5 581.6 343.8 580.3 344.2 579.0 344.5 577.7 344.9 576.4 345.3 575.1 345.8 573.6 346.2 572.2 346.7 570.7 347.2 569.3 347.7 568.0 348.2 566.6 348.7 565.3 349.3 564.0 349.8 562.7 350.3 561.4 350.8 560.1 351.4 558.9 351.9 557.6 352.5 556.2 353.1 554.9 353.6 553.5 354.2 552.2 354.8 550.9 355.4 549.6 356.0 548.3 356.6 547.0 357.2 545.8 357.9 544.6 358.5 543.4 359.3 542.0 360.0 540.7 360.8 539.5 361.6 538.2 362.4 537.0 363.2 535.8 364.1 534.7 365.0 533.5 365.9 532.5 366.8 531.4 367.7 530.4 368.7 529.4 369.7 528.5 370.7 527.5 371.7 526.6 372.7 525.6 373.8 524.7 374.8 523.8 375.8 523.0 376.9 522.1 377.9 521.2 379.0 520.4 380.1 519.6 381.2 518.7 382.3 517.9 383.5 517.2 384.7 516.4 385.9 515.7 387.1 515.0 388.3 514.4 389.5 513.7 390.8 513.1 392.1 512.5 393.4 511.9 394.7 511.3 396.1 510.7 397.4 510.1 398.8 509.6 400.1 509.0 401.4 508.5 402.7 507.9 404.0 507.4 405.3 506.8 406.6 506.3 408.0 505.8 409.3 505.3 410.6 504.8 412.0 504.3 413.4 503.8 414.8 503.3 416.2 502.9 417.6 502.4 418.9 502.0 420.2 501.6 421.5 501.2 422.9 500.8 424.2 500.4 425.6 500.1 427.0 499.7 428.4 499.3 429.8 499.0 431.2 498.6 432.5 498.3 433.9 497.9 435.3 497.6 436.7 497.3 438.1 497.0 439.5 496.7 441.0 496.4 442.4 496.1 443.9 495.8 445.4 495.5 446.8 495.3 448.3 495.0 449.8 494.8 451.3 494.5 452.8 494.3 454.2 494.1 455.7 493.8 457.1 493.6 458.6 493.4 460.0 493.2 461.4 493.0 462.9 492.8 464.3 492.6 465.8 492.4 467.2 492.2 468.6 492.0 470.0 491.9 471.5 491.7 472.9 491.6 474.3 491.4 475.7 491.3 477.1 491.1 478.6 491.0 480.0 490.8 481.4 490.7 482.8 490.5 484.1 490.4 485.5 490.2 486.9 490.1 488.3 490.0 489.6 489.9 491.0 489.7 492.5 489.6 493.9 489.5 495.4 489.4 496.9 489.2 498.4 489.1 500.0 489.0 501.3 488.9 502.6 488.8 504.0 488.7 505.3 488.6 506.7 488.5 508.1 488.4 509.5 488.3 510.9 488.2 512.3 488.1 513.8 488.0 515.2 487.9 516.7 487.8 518.2 487.7 519.8 487.6 521.3 487.5 522.9 487.4 524.5 487.3 526.1 487.2 527.7 487.1 529.4 487.0 531.1 486.9 532.8 486.8 534.1 486.7 535.3 486.7 536.6 486.6 538.0 486.5 539.3 486.5 540.7 486.4 542.0 486.4 543.4 486.3 544.8 486.2 546.2 486.2 547.7 486.1 549.1 486.1 550.5 486.0 552.0 485.9 553.5 485.9 555.0 485.8 556.5 485.8 558.0 485.7 559.5 485.7 561.0 485.6 562.6 485.6 564.1 485.5 565.7 485.5 567.2 485.4 568.8 485.3 570.3 485.3 571.9 485.2 573.5 485.2 575.0 485.2 576.6 485.1 578.2 485.1 579.8 485.0 581.4 485.0 582.9 484.9 584.5 484.9 586.1 484.8 587.7 484.8 589.2 484.8 590.8 484.7 592.4 484.7 593.9 484.6 595.5 484.6 596.9 484.6 598.3 484.5 599.8 484.5 601.2 484.5 602.6 484.4 604.1 484.4 605.5 484.4 607.0 484.4 608.4 484.3 609.9 484.3 611.3 484.3 612.8 484.3 614.3 484.3 615.7 484.2 617.2 484.2 618.7 484.2 620.1 484.2 621.6 484.2 623.1 484.1 624.6 484.1 626.1 484.1 627.6 484.1 629.0 484.1 630.5 484.1 632.0 484.1 633.5 484.0 635.0 484.0 636.5 484.0 638.0 484.0 639.5 484.0 641.0 484.0 642.5 484.0 644.0 483.9 645.5 483.9 647.0 483.9 648.5 483.9 650.0 483.9 651.5 483.9 653.0 483.9 654.4 483.9 655.9 483.8 657.4 483.8 658.9 483.8 660.4 483.8 661.9 483.8 663.4 483.8 664.9 483.8 666.3 483.7 667.8 483.7 669.3 483.7" fill="none" stroke="#8c8c0c" stroke-width="2.2" stroke-linejoin="round"/>
<path d="M44.4 442.1L45.4 442.2 46.5 442.3 47.7 442.9 49.0 443.7 50.2 444.6 51.5 445.3 52.5 445.3 53.6 445.0 54.8 444.7 56.0 444.5 57.3 444.2 58.6 444.0 59.9 443.8 61.1 443.6 62.2 443.4 63.4 443.3 65.0 443.2 65.9 443.2 66.8 443.1 67.9 443.1 69.0 443.1 70.2 443.1 71.5 443.1 72.8 443.1 74.3 443.2 75.7 443.2 77.2 443.2 78.8 443.2 80.4 443.3 82.0 443.3 83.7 443.3 85.3 443.3 87.0 443.4 88.7 443.4 90.4 443.4 92.0 443.4 93.7 443.4 95.3 443.3 96.9 443.3 98.5 443.3 100.0 443.2 101.4 443.1 102.9 443.1 104.4 443.0 106.0 442.9 107.5 442.8 109.1 442.7 110.7 442.6 112.3 442.5 113.9 442.3 115.5 442.2 117.1 442.1 118.7 442.0 120.3 441.8 121.8 441.7 123.4 441.5 125.0 441.4 126.5 441.2 128.0 441.1 129.5 440.9 131.0 440.7 132.4 440.6 133.8 440.4 135.1 440.2 136.4 440.0 137.6 439.9 138.9 439.7 140.0 439.5 141.7 439.2 143.2 438.9 144.7 438.6 146.1 438.3 147.4 437.9 148.7 437.6 150.0 437.2 151.2 436.9 152.5 436.6 153.7 436.3 155.0 436.0 156.4 435.7 157.7 435.3 159.0 435.0 160.3 434.7 161.6 434.4 162.9 434.1 164.2 433.9 165.6 433.7 167.0 433.6 168.3 433.6 169.6 433.6 170.9 433.8 172.3 433.9 173.7 434.1 175.1 434.3 176.5 434.5 177.9 434.8 179.4 435.1 180.8 435.3 182.2 435.6 183.6 435.8 185.0 436.0 186.5 436.2 187.9 436.5 189.4 436.8 190.9 437.1 192.4 437.4 193.8 437.7 195.3 438.0 196.7 438.2 198.1 438.4 199.5 438.5 200.8 438.5 202.1 438.5 203.6 438.4 205.0 438.1 206.4 437.9 207.7 437.5 209.0 437.1 210.3 436.5 211.5 436.0 212.7 435.3 213.8 434.6 214.8 433.9 215.8 433.1 216.8 432.2 217.7 431.3 218.7 430.3 219.5 429.2 220.4 428.0 221.2 426.8 221.8 425.7 222.5 424.6 223.1 423.4 223.6 422.1 224.2 420.8 224.7 419.4 225.2 418.0 225.7 416.5 226.1 415.0 226.6 413.5 227.0 411.9 227.5 410.4 227.9 408.8 228.3 407.2 228.7 405.6 229.0 404.3 229.3 403.0 229.6 401.6 229.9 400.2 230.1 398.8 230.4 397.4 230.6 395.9 230.9 394.5 231.1 393.0 231.3 391.5 231.5 390.0 231.7 388.4 231.9 386.9 232.1 385.4 232.3 383.8 232.5 382.3 232.7 380.8 232.9 379.2 233.1 377.7 233.3 376.1 233.6 374.6 233.8 373.1 234.0 371.6 234.2 370.2 234.4 368.7 234.6 367.3 234.9 365.9 235.1 364.4 235.3 363.0 235.5 361.5 235.7 360.0 235.9 358.6 236.1 357.1 236.3 355.7 236.5 354.2 236.7 352.7 237.0 351.3 237.2 349.8 237.4 348.4 237.6 346.9 237.8 345.5 238.0 344.0 238.2 342.6 238.4 341.2 238.6 339.7 238.9 338.3 239.1 336.9 239.3 335.5 239.5 334.0 239.8 332.5 240.0 331.1 240.2 329.6 240.5 328.2 240.7 326.7 240.9 325.3 241.2 323.8 241.4 322.4 241.6 321.0 241.9 319.5 242.1 318.1 242.4 316.7 242.6 315.3 242.8 313.8 243.1 312.4 243.3 311.0 243.6 309.5 243.8 308.1 244.1 306.6 244.3 305.2 244.6 303.7 244.8 302.3 245.1 300.9 245.4 299.5 245.6 298.0 245.9 296.6 246.2 295.1 246.4 293.7 246.7 292.2 247.0 290.8 247.3 289.3 247.5 287.9 247.8 286.4 248.1 285.0 248.4 283.5 248.6 282.1 248.9 280.7 249.2 279.3 249.5 277.8 249.7 276.4 250.0 275.1 250.3 273.7 250.5 272.3 250.8 271.0 251.0 269.7 251.3 268.1 251.6 266.6 251.9 265.1 252.1 263.7 252.4 262.2 252.7 260.8 253.0 259.4 253.2 258.0 253.5 256.6 253.8 255.2 254.0 253.8 254.3 252.3 254.5 250.9 254.8 249.5 255.0 248.0 255.3 246.5 255.5 245.0 255.7 243.6 255.9 242.2 256.1 240.8 256.3 239.4 256.5 237.9 256.7 236.5 256.9 235.0 257.0 233.6 257.2 232.1 257.4 230.6 257.6 229.1 257.7 227.7 257.9 226.2 258.1 224.7 258.3 223.3 258.4 221.8 258.6 220.4 258.8 218.9 259.0 217.5 259.2 216.1 259.4 214.7 259.6 213.2 259.8 211.8 260.1 210.3 260.3 208.9 260.6 207.5 260.8 206.1 261.0 204.7 261.3 203.3 261.5 201.9 261.8 200.5 262.0 199.1 262.3 197.7 262.5 196.3 262.7 194.9 263.0 193.5 263.2 192.1 263.5 190.6 263.7 189.2 263.9 187.8 264.2 186.3 264.4 184.9 264.6 183.4 264.8 182.0 265.0 180.5 265.3 179.1 265.5 177.6 265.7 176.1 265.9 174.7 266.1 173.2 266.3 171.7 266.6 170.3 266.8 168.8 267.0 167.4 267.2 165.9 267.4 164.5 267.7 163.0 267.9 161.6 268.1 160.2 268.4 158.7 268.6 157.3 268.8 155.8 269.1 154.4 269.3 153.0 269.5 151.5 269.8 150.1 270.0 148.7 270.3 147.3 270.5 145.9 270.7 144.5 271.0 143.1 271.2 141.7 271.5 140.3 271.7 138.9 272.0 137.6 272.2 136.2 272.5 134.7 272.7 133.3 273.0 131.8 273.3 130.3 273.5 128.9 273.8 127.5 274.1 126.0 274.4 124.6 274.6 123.2 274.9 121.8 275.2 120.4 275.5 119.0 275.8 117.6 276.1 116.3 276.4 114.9 276.7 113.3 277.1 111.6 277.5 109.8 277.8 107.9 278.2 106.1 278.6 104.2 279.0 102.5 279.3 100.9 279.7 99.4 280.1 98.2 280.5 97.3 280.9 96.7 281.3 96.5 281.8 96.7 282.3 97.4 282.8 98.4 283.3 99.8 283.8 101.4 284.3 103.1 284.7 105.0 285.2 107.0 285.6 108.9 286.0 110.7 286.2 111.8 286.4 113.0 286.6 114.2 286.8 115.5 287.0 116.8 287.1 118.1 287.3 119.5 287.4 120.9 287.6 122.3 287.7 123.8 287.8 125.2 287.9 126.7 288.0 128.3 288.1 129.8 288.2 131.3 288.3 132.9 288.4 134.4 288.5 136.0 288.6 137.6 288.7 139.1 288.8 140.7 288.9 142.2 289.0 143.8 289.1 145.3 289.2 146.8 289.3 148.2 289.4 149.6 289.5 151.0 289.6 152.4 289.7 153.9 289.8 155.3 289.9 156.7 290.0 158.1 290.1 159.6 290.2 161.0 290.2 162.5 290.3 163.9 290.4 165.4 290.5 166.8 290.6 168.3 290.7 169.7 290.7 171.2 290.8 172.7 290.9 174.2 291.0 175.6 291.1 177.1 291.2 178.6 291.2 180.1 291.3 181.6 291.4 183.1 291.5 184.6 291.5 186.2 291.6 187.7 291.7 189.2 291.8 190.6 291.8 192.1 291.9 193.5 292.0 194.9 292.1 196.4 292.1 197.8 292.2 199.3 292.3 200.7 292.3 202.2 292.4 203.7 292.5 205.1 292.5 206.6 292.6 208.1 292.7 209.6 292.7 211.1 292.8 212.6 292.9 214.0 292.9 215.5 293.0 217.0 293.0 218.6 293.1 220.1 293.2 221.6 293.2 223.1 293.3 224.6 293.4 226.1 293.4 227.7 293.5 229.2 293.5 230.7 293.6 232.3 293.7 233.8 293.7 235.3 293.8 236.9 293.8 238.4 293.9 240.0 294.0 241.4 294.0 242.8 294.1 244.2 294.1 245.6 294.2 247.0 294.2 248.4 294.3 249.8 294.3 251.3 294.4 252.7 294.4 254.1 294.5 255.5 294.5 256.9 294.6 258.4 294.6 259.8 294.7 261.2 294.7 262.7 294.8 264.1 294.9 265.5 294.9 267.0 295.0 268.4 295.0 269.9 295.1 271.3 295.1 272.8 295.2 274.3 295.2 275.7 295.3 277.2 295.3 278.7 295.4 280.2 295.4 281.7 295.5 283.2 295.5 284.7 295.6 286.2 295.6 287.7 295.7 289.2 295.7 290.7 295.8 292.2 295.8 293.8 295.9 295.3 295.9 296.9 296.0 298.4 296.0 300.0 296.0 301.4 296.1 302.8 296.1 304.2 296.2 305.6 296.2 307.0 296.3 308.5 296.3 309.9 296.3 311.4 296.4 312.8 296.4 314.3 296.5 315.8 296.5 317.3 296.5 318.8 296.6 320.3 296.6 321.8 296.7 323.3 296.7 324.9 296.7 326.4 296.8 327.9 296.8 329.5 296.9 331.0 296.9 332.5 296.9 334.1 297.0 335.6 297.0 337.2 297.1 338.7 297.1 340.3 297.1 341.8 297.2 343.3 297.2 344.9 297.2 346.4 297.3 348.0 297.3 349.5 297.4 351.0 297.4 352.5 297.4 354.1 297.5 355.6 297.5 357.1 297.6 358.6 297.6 360.1 297.6 361.6 297.7 363.1 297.7 364.5 297.8 366.0 297.8 367.4 297.9 368.9 297.9 370.3 297.9 371.7 298.0 373.1 298.0 374.5 298.1 375.9 298.1 377.3 298.2 378.7 298.2 380.0 298.3 381.6 298.3 383.2 298.4 384.7 298.4 386.3 298.5 387.8 298.5 389.3 298.6 390.9 298.6 392.4 298.7 393.9 298.7 395.3 298.8 396.8 298.8 398.3 298.9 399.7 299.0 401.2 299.0 402.6 299.1 404.0 299.1 405.5 299.2 406.9 299.2 408.3 299.3 409.7 299.3 411.1 299.4 412.6 299.5 414.0 299.5 415.4 299.6 416.8 299.6 418.2 299.7 419.6 299.7 421.0 299.8 422.5 299.9 423.9 299.9 425.3 300.0 426.7 300.0 428.2 300.1 429.6 300.2 431.1 300.2 432.5 300.3 434.0 300.4 435.5 300.4 436.9 300.5 438.4 300.6 439.8 300.6 441.2 300.7 442.7 300.8 444.1 300.8 445.6 300.9 447.0 301.0 448.4 301.1 449.9 301.1 451.3 301.2 452.7 301.3 454.2 301.3 455.6 301.4 457.0 301.5 458.5 301.6 459.9 301.6 461.4 301.7 462.8 301.8 464.3 301.9 465.7 301.9 467.2 302.0 468.7 302.1 470.1 302.2 471.6 302.2 473.1 302.3 474.6 302.4 476.1 302.4 477.6 302.5 479.1 302.6 480.6 302.7 482.2 302.7 483.7 302.8 485.3 302.9 486.8 302.9 488.4 303.0 490.0 303.1 491.4 303.1 492.8 303.2 494.2 303.2 495.6 303.3 497.1 303.3 498.5 303.4 500.0 303.4 501.5 303.5 503.0 303.5 504.5 303.6 506.0 303.6 507.6 303.7 509.1 303.7 510.6 303.7 512.2 303.8 513.8 303.8 515.3 303.9 516.9 303.9 518.5 304.0 520.1 304.0 521.7 304.1 523.2 304.1 524.8 304.1 526.4 304.2 528.0 304.2 529.6 304.3 531.2 304.3 532.7 304.4 534.3 304.4 535.9 304.5 537.4 304.5 539.0 304.6 540.6 304.6 542.1 304.7 543.6 304.7 545.2 304.8 546.7 304.8 548.2 304.9 549.7 304.9 551.1 305.0 552.6 305.0 554.1 305.1 555.5 305.2 556.9 305.2 558.3 305.3 559.7 305.4 561.1 305.4 562.4 305.5 563.7 305.6 565.1 305.6 566.3 305.7 567.6 305.8 569.3 305.9 570.9 306.0 572.6 306.1 574.2 306.2 575.8 306.3 577.4 306.4 578.9 306.5 580.5 306.7 582.0 306.8 583.5 306.9 585.0 307.0 586.5 307.1 588.0 307.2 589.4 307.4 590.9 307.5 592.3 307.6 593.7 307.7 595.1 307.9 596.5 308.0 597.8 308.1 599.2 308.3 600.5 308.4 601.8 308.5 603.1 308.7 604.4 308.8 605.6 309.0 606.9 309.1 608.1 309.3 609.8 309.5 611.4 309.7 612.9 309.9 614.4 310.2 615.9 310.4 617.3 310.6 618.8 310.9 620.2 311.1 621.6 311.3 622.9 311.5 624.3 311.8 625.7 312.0 627.1 312.2 628.5 312.4 630.0 312.6 631.6 312.8 633.3 312.9 635.1 313.1 637.0 313.2 639.0 313.4 640.9 313.5 642.8 313.6 644.7 313.8 646.4 314.0 647.9 314.1 649.3 314.3 650.5 314.6 651.3 314.8 651.9 315.1 652.1 315.4 651.9 315.8 651.3 316.2 650.4 316.6 649.3 317.1 647.8 317.6 646.2 318.0 644.5 318.5 642.6 319.0 640.8 319.4 638.9 319.9 637.1 320.3 635.4 320.7 633.9 321.1 632.5 321.4 631.1 321.8 629.7 322.1 628.2 322.5 626.8 322.8 625.4 323.1 624.0 323.5 622.6 323.8 621.1 324.1 619.6 324.4 618.2 324.8 616.6 325.1 615.1 325.4 613.8 325.7 612.5 325.9 611.2 326.2 609.8 326.5 608.5 326.7 607.1 327.0 605.7 327.3 604.3 327.5 602.9 327.8 601.5 328.1 600.1 328.3 598.7 328.6 597.2 328.9 595.8 329.2 594.4 329.5 592.9 329.8 591.5 330.1 590.0 330.4 588.6 330.7 587.2 331.0 585.8 331.3 584.4 331.6 583.0 332.0 581.6 332.3 580.1 332.6 578.7 332.9 577.3 333.3 575.8 333.6 574.4 333.9 572.9 334.3 571.4 334.6 570.0 335.0 568.6 335.3 567.1 335.6 565.7 336.0 564.2 336.3 562.8 336.7 561.4 337.0 560.0 337.4 558.5 337.7 557.0 338.1 555.5 338.4 554.1 338.7 552.6 339.1 551.1 339.4 549.6 339.8 548.1 340.1 546.7 340.5 545.2 340.8 543.8 341.2 542.3 341.5 540.9 341.9 539.4 342.3 538.0 342.7 536.6 343.1 535.2 343.6 533.8 344.0 532.4 344.5 531.0 345.0 529.5 345.5 528.1 346.0 526.7 346.5 525.2 347.0 523.8 347.5 522.4 348.0 521.0 348.6 519.6 349.2 518.3 349.7 516.9 350.3 515.6 350.9 514.2 351.5 512.9 352.1 511.6 352.8 510.4 353.4 509.1 354.1 507.8 354.8 506.5 355.5 505.3 356.2 504.0 356.9 502.8 357.7 501.6 358.4 500.4 359.2 499.2 360.0 498.1 360.8 496.9 361.6 495.8 362.4 494.7 363.3 493.6 364.1 492.5 365.0 491.5 366.0 490.4 367.1 489.2 368.2 488.1 369.3 487.0 370.5 486.0 371.6 484.9 372.8 483.9 374.0 482.9 375.1 482.0 376.2 481.1 377.2 480.2 378.1 479.4 379.0 478.7 380.2 477.7 381.1 476.9 382.1 476.2 383.1 475.5 384.2 474.7 385.3 474.0 386.4 473.3 387.6 472.7 388.9 472.0 390.2 471.3 391.5 470.6 392.9 469.9 394.2 469.3 395.4 468.7 396.6 468.2 397.9 467.6 399.1 467.1 400.4 466.6 401.7 466.0 403.0 465.5 404.3 465.0 405.6 464.5 406.9 464.0 408.2 463.5 409.5 463.0 410.8 462.6 412.1 462.1 413.4 461.6 414.8 461.2 416.1 460.7 417.5 460.3 418.9 459.8 420.4 459.3 421.6 458.9 422.9 458.5 424.2 458.0 425.5 457.6 426.9 457.2 428.3 456.7 429.7 456.3 431.1 455.8 432.5 455.4 433.9 454.9 435.3 454.5 436.7 454.1 438.1 453.7 439.5 453.3 440.9 453.0 442.3 452.7 443.8 452.3 445.2 452.0 446.7 451.7 448.1 451.4 449.5 451.1 451.0 450.9 452.4 450.6 453.9 450.4 455.3 450.1 456.8 449.9 458.3 449.6 459.8 449.4 461.3 449.2 462.7 449.0 464.0 448.8 465.5 448.7 466.9 448.5 468.3 448.3 469.7 448.2 471.2 448.0 472.6 447.9 474.1 447.8 475.5 447.6 477.0 447.5 478.4 447.4 479.8 447.2 481.2 447.1 482.6 447.0 484.0 446.8 485.4 446.7 486.9 446.5 488.4 446.4 489.8 446.2 491.3 446.1 492.7 445.9 494.1 445.7 495.5 445.6 496.9 445.4 498.4 445.3 499.8 445.1 501.3 445.0 502.8 444.9 504.3 444.7 505.9 444.6 507.2 444.5 508.6 444.4 509.9 444.3 511.2 444.2 512.6 444.1 513.9 444.1 515.3 444.0 516.7 443.9 518.1 443.8 519.5 443.8 520.9 443.7 522.4 443.6 523.8 443.6 525.3 443.5 526.9 443.4 528.4 443.4 530.0 443.3 531.6 443.2 533.3 443.2 535.0 443.1 536.2 443.1 537.5 443.0 538.7 443.0 540.0 442.9 541.3 442.9 542.6 442.8 544.0 442.8 545.3 442.7 546.7 442.7 548.1 442.6 549.5 442.6 550.9 442.5 552.4 442.5 553.8 442.4 555.3 442.4 556.7 442.3 558.2 442.3 559.7 442.2 561.2 442.2 562.7 442.1 564.3 442.1 565.8 442.0 567.3 442.0 568.9 441.9 570.4 441.9 572.0 441.9 573.6 441.8 575.1 441.8 576.7 441.7 578.3 441.7 579.8 441.7 581.4 441.6 583.0 441.6 584.6 441.5 586.1 441.5 587.7 441.5 589.3 441.4 590.8 441.4 592.4 441.4 593.9 441.3 595.5 441.3 596.9 441.3 598.3 441.2 599.7 441.2 601.2 441.2 602.6 441.2 604.0 441.2 605.5 441.1 606.9 441.1 608.3 441.1 609.8 441.1 611.2 441.1 612.7 441.0 614.2 441.0 615.6 441.0 617.1 441.0 618.6 441.0 620.0 441.0 621.5 440.9 623.0 440.9 624.5 440.9 626.0 440.9 627.5 440.9 629.0 440.9 630.4 440.9 631.9 440.9 633.4 440.9 634.9 440.8 636.4 440.8 637.9 440.8 639.4 440.8 640.9 440.8 642.4 440.8 643.9 440.8 645.4 440.8 646.9 440.8 648.4 440.8 649.9 440.7 651.4 440.7 652.9 440.7 654.4 440.7 655.9 440.7 657.4 440.7 658.9 440.7 660.4 440.7 661.9 440.7 663.4 440.7 664.9 440.6 666.3 440.6 667.8 440.6 669.3 440.6" fill="none" stroke="#2f62ad" stroke-width="2.2" stroke-linejoin="round"/>
<path d="M44.4 398.8L45.4 398.9 46.5 399.1 47.8 399.9 49.0 400.8 49.8 401.5 50.6 402.3 51.5 402.7 52.5 402.7 53.6 402.4 54.8 402.0 56.0 401.8 57.3 401.5 58.6 401.2 59.9 400.9 61.2 400.7 62.5 400.5 63.8 400.3 65.0 400.2 66.2 400.2 67.4 400.2 69.0 400.2 69.7 400.2 70.6 400.2 71.5 400.3 72.6 400.3 73.7 400.3 74.9 400.4 76.3 400.4 77.6 400.4 79.1 400.5 80.6 400.5 82.1 400.6 83.7 400.6 85.4 400.7 87.0 400.8 88.7 400.8 90.4 400.9 92.2 400.9 93.9 400.9 95.6 401.0 97.4 401.0 99.1 401.0 100.8 401.1 102.5 401.1 104.1 401.1 105.7 401.1 107.3 401.1 108.8 401.1 110.3 401.1 111.7 401.0 113.0 401.0 114.6 400.9 116.2 400.9 117.7 400.8 119.3 400.7 120.8 400.6 122.3 400.5 123.8 400.4 125.3 400.3 126.7 400.1 128.1 400.0 129.5 399.9 130.9 399.7 132.3 399.6 133.6 399.4 135.0 399.2 136.3 399.1 137.5 398.9 138.8 398.7 140.0 398.5 141.5 398.2 143.0 397.9 144.5 397.6 145.9 397.3 147.2 397.0 148.6 396.6 149.9 396.3 151.2 395.9 152.4 395.6 153.7 395.3 155.0 395.0 156.4 394.7 157.7 394.3 159.1 394.0 160.4 393.7 161.7 393.3 163.0 393.1 164.3 392.8 165.6 392.6 167.0 392.5 168.4 392.4 169.9 392.5 171.4 392.6 172.9 392.7 174.4 392.8 175.8 393.0 177.3 393.2 178.7 393.4 180.0 393.5 181.4 393.7 182.7 393.9 184.0 394.1 185.3 394.3 186.6 394.5 187.8 394.6 189.0 394.6 190.5 394.5 192.0 394.3 193.4 394.0 194.7 393.6 196.0 393.0 197.1 392.3 198.2 391.6 199.2 390.7 200.1 389.7 201.1 388.6 201.9 387.6 202.7 386.5 203.5 385.4 204.2 384.2 205.0 382.9 205.7 381.5 206.4 380.1 206.9 379.0 207.4 377.9 208.0 376.7 208.5 375.5 209.0 374.2 209.5 372.9 210.0 371.6 210.4 370.2 210.9 368.8 211.4 367.4 211.8 366.0 212.3 364.6 212.7 363.1 213.1 361.8 213.4 360.5 213.7 359.2 214.1 357.8 214.4 356.4 214.7 355.0 215.0 353.6 215.3 352.1 215.6 350.7 215.8 349.2 216.1 347.8 216.4 346.3 216.7 344.8 216.9 343.4 217.2 341.9 217.5 340.5 217.7 339.1 218.0 337.7 218.3 336.2 218.6 334.7 218.9 333.3 219.1 331.8 219.4 330.3 219.7 328.9 219.9 327.4 220.2 325.9 220.5 324.5 220.7 323.0 221.0 321.6 221.2 320.1 221.5 318.7 221.8 317.2 222.0 315.8 222.3 314.3 222.6 312.8 222.8 311.4 223.1 309.9 223.3 308.5 223.6 307.0 223.8 305.6 224.1 304.2 224.4 302.7 224.6 301.3 224.9 299.8 225.1 298.4 225.4 296.9 225.7 295.4 225.9 294.0 226.2 292.5 226.5 291.0 226.8 289.6 227.0 288.2 227.3 286.8 227.6 285.4 227.9 284.0 228.2 282.6 228.5 281.2 228.8 279.7 229.1 278.3 229.3 276.9 229.6 275.5 229.9 274.0 230.3 272.6 230.6 271.2 230.9 269.8 231.2 268.3 231.5 266.9 231.8 265.5 232.1 264.1 232.4 262.7 232.8 261.3 233.1 259.9 233.4 258.5 233.8 257.1 234.1 255.7 234.4 254.4 234.8 253.0 235.1 251.6 235.4 250.2 235.8 248.8 236.1 247.3 236.5 245.9 236.8 244.5 237.1 243.0 237.5 241.5 237.8 240.0 238.1 238.6 238.4 237.2 238.7 235.8 239.0 234.4 239.3 233.0 239.6 231.6 239.9 230.1 240.2 228.7 240.5 227.2 240.8 225.8 241.1 224.3 241.4 222.8 241.7 221.3 242.0 219.8 242.3 218.3 242.6 216.8 242.9 215.3 243.2 213.8 243.5 212.3 243.8 210.8 244.0 209.2 244.3 207.7 244.6 206.2 244.9 204.8 245.1 203.3 245.4 201.8 245.6 200.3 245.9 198.8 246.2 197.3 246.4 195.8 246.7 194.3 246.9 192.7 247.2 191.2 247.4 189.6 247.7 188.1 247.9 186.6 248.2 185.0 248.4 183.5 248.6 182.0 248.9 180.5 249.1 179.0 249.4 177.5 249.6 176.1 249.8 174.7 250.1 173.3 250.3 171.9 250.5 170.6 250.8 169.3 251.0 168.0 251.3 166.4 251.6 164.9 251.9 163.4 252.2 162.0 252.5 160.6 252.7 159.2 253.0 157.9 253.3 156.5 253.6 155.2 253.9 153.8 254.1 152.5 254.4 151.1 254.7 149.7 254.9 148.3 255.2 146.8 255.4 145.4 255.7 144.0 255.9 142.6 256.1 141.2 256.3 139.8 256.6 138.3 256.8 136.9 257.0 135.4 257.2 133.9 257.4 132.4 257.6 130.9 257.9 129.4 258.1 128.0 258.3 126.5 258.5 125.0 258.7 123.5 258.9 122.1 259.2 120.6 259.4 119.2 259.6 117.8 259.9 116.3 260.1 114.9 260.3 113.5 260.5 112.1 260.8 110.7 261.0 109.3 261.2 107.9 261.5 106.6 261.7 105.2 261.9 103.8 262.2 102.4 262.4 101.0 262.7 99.5 262.9 98.1 263.2 96.6 263.4 95.2 263.7 93.7 264.0 92.3 264.2 90.9 264.5 89.5 264.8 88.0 265.0 86.5 265.3 85.0 265.6 83.5 265.9 82.0 266.2 80.5 266.5 79.0 266.8 77.5 267.1 76.0 267.4 74.5 267.7 73.0 268.0 71.5 268.3 70.0 268.6 68.6 268.9 67.2 269.2 65.8 269.5 64.4 269.8 63.1 270.1 61.8 270.5 60.2 270.8 58.4 271.2 56.6 271.6 54.7 272.0 52.8 272.3 51.0 272.7 49.3 273.1 47.6 273.5 46.1 273.8 44.8 274.2 43.7 274.6 42.9 275.0 42.4 275.4 42.2 275.9 42.4 276.4 43.0 276.9 44.0 277.4 45.2 277.9 46.7 278.4 48.4 278.9 50.2 279.4 52.0 279.9 53.9 280.3 55.8 280.7 57.6 280.9 58.8 281.1 60.0 281.4 61.2 281.5 62.5 281.7 63.9 281.9 65.2 282.0 66.6 282.2 68.1 282.3 69.5 282.4 71.0 282.6 72.5 282.7 74.0 282.8 75.6 282.9 77.1 283.0 78.7 283.1 80.2 283.1 81.8 283.2 83.3 283.3 84.8 283.4 86.4 283.5 87.9 283.6 89.4 283.7 90.8 283.8 92.3 283.9 93.7 284.0 95.2 284.1 96.6 284.2 98.1 284.3 99.5 284.4 101.0 284.5 102.4 284.6 103.8 284.7 105.2 284.8 106.6 284.9 108.0 285.0 109.4 285.1 110.8 285.2 112.3 285.3 113.7 285.4 115.1 285.5 116.5 285.6 118.0 285.6 119.5 285.7 120.9 285.8 122.4 285.9 124.0 286.0 125.5 286.1 126.9 286.2 128.2 286.2 129.6 286.3 131.0 286.4 132.5 286.5 133.9 286.5 135.3 286.6 136.8 286.7 138.2 286.8 139.7 286.8 141.2 286.9 142.6 287.0 144.1 287.0 145.6 287.1 147.1 287.2 148.6 287.2 150.1 287.3 151.6 287.4 153.1 287.5 154.6 287.5 156.1 287.6 157.6 287.7 159.1 287.7 160.6 287.8 162.1 287.9 163.6 288.0 165.1 288.0 166.5 288.1 168.0 288.2 169.5 288.2 170.9 288.3 172.4 288.4 173.9 288.5 175.3 288.5 176.8 288.6 178.3 288.7 179.8 288.8 181.2 288.8 182.7 288.9 184.2 289.0 185.7 289.1 187.1 289.1 188.6 289.2 190.1 289.3 191.6 289.4 193.0 289.4 194.5 289.5 196.0 289.6 197.4 289.7 198.9 289.7 200.3 289.8 201.8 289.9 203.3 289.9 204.7 290.0 206.2 290.1 207.6 290.1 209.1 290.2 210.5 290.3 212.0 290.3 213.5 290.4 214.9 290.5 216.4 290.5 217.8 290.6 219.2 290.6 220.7 290.7 222.1 290.7 223.5 290.8 225.0 290.9 226.4 290.9 227.8 291.0 229.2 291.0 230.6 291.1 232.1 291.1 233.5 291.2 235.0 291.2 236.4 291.3 237.9 291.3 239.3 291.4 240.8 291.4 242.3 291.5 243.8 291.5 245.3 291.6 246.9 291.6 248.4 291.7 250.0 291.7 251.4 291.8 252.7 291.8 254.1 291.9 255.5 291.9 256.9 292.0 258.3 292.0 259.7 292.1 261.1 292.1 262.6 292.1 264.0 292.2 265.4 292.2 266.9 292.3 268.3 292.3 269.8 292.3 271.2 292.4 272.7 292.4 274.2 292.5 275.7 292.5 277.1 292.6 278.6 292.6 280.1 292.6 281.6 292.7 283.2 292.7 284.7 292.8 286.2 292.8 287.7 292.8 289.3 292.9 290.8 292.9 292.4 292.9 293.9 293.0 295.5 293.0 297.1 293.1 298.6 293.1 300.2 293.1 301.8 293.2 303.4 293.2 305.0 293.2 306.4 293.3 307.7 293.3 309.1 293.3 310.5 293.3 311.9 293.4 313.4 293.4 314.8 293.4 316.2 293.4 317.7 293.5 319.2 293.5 320.6 293.5 322.1 293.5 323.6 293.6 325.1 293.6 326.6 293.6 328.1 293.6 329.6 293.7 331.1 293.7 332.6 293.7 334.1 293.7 335.7 293.8 337.2 293.8 338.7 293.8 340.2 293.8 341.8 293.8 343.3 293.9 344.8 293.9 346.4 293.9 347.9 293.9 349.4 294.0 350.9 294.0 352.5 294.0 354.0 294.0 355.5 294.1 357.0 294.1 358.5 294.1 360.0 294.1 361.5 294.2 363.0 294.2 364.4 294.2 365.9 294.2 367.4 294.3 368.8 294.3 370.2 294.3 371.7 294.3 373.1 294.4 374.5 294.4 375.9 294.4 377.3 294.5 378.6 294.5 380.0 294.5 381.6 294.6 383.1 294.6 384.7 294.7 386.2 294.7 387.7 294.7 389.3 294.8 390.8 294.8 392.3 294.9 393.8 294.9 395.2 294.9 396.7 295.0 398.2 295.0 399.6 295.1 401.1 295.1 402.5 295.1 404.0 295.2 405.4 295.2 406.8 295.3 408.3 295.3 409.7 295.4 411.1 295.4 412.5 295.5 414.0 295.5 415.4 295.6 416.8 295.6 418.2 295.7 419.6 295.7 421.1 295.8 422.5 295.8 423.9 295.9 425.3 295.9 426.8 296.0 428.2 296.0 429.6 296.1 431.1 296.1 432.5 296.2 434.0 296.3 435.5 296.3 436.9 296.4 438.4 296.5 439.8 296.5 441.3 296.6 442.7 296.7 444.1 296.7 445.6 296.8 447.0 296.9 448.5 296.9 449.9 297.0 451.3 297.1 452.8 297.2 454.2 297.2 455.6 297.3 457.1 297.4 458.5 297.5 459.9 297.5 461.4 297.6 462.8 297.7 464.3 297.8 465.7 297.9 467.2 297.9 468.6 298.0 470.1 298.1 471.5 298.2 473.0 298.2 474.5 298.3 476.0 298.4 477.4 298.5 478.9 298.5 480.4 298.6 481.9 298.7 483.4 298.8 484.9 298.8 486.5 298.9 488.0 299.0 489.4 299.0 490.8 299.1 492.2 299.1 493.7 299.2 495.1 299.3 496.6 299.3 498.1 299.4 499.5 299.4 501.0 299.5 502.5 299.5 504.0 299.6 505.5 299.6 507.1 299.7 508.6 299.8 510.1 299.8 511.6 299.9 513.2 299.9 514.7 300.0 516.2 300.0 517.8 300.1 519.3 300.1 520.8 300.2 522.4 300.2 523.9 300.3 525.4 300.3 526.9 300.4 528.4 300.5 529.9 300.5 531.4 300.6 532.9 300.6 534.4 300.7 535.9 300.8 537.4 300.8 538.8 300.9 540.3 300.9 541.7 301.0 543.1 301.1 544.6 301.2 546.0 301.2 547.3 301.3 548.7 301.4 550.1 301.4 551.4 301.5 552.7 301.6 554.0 301.7 555.6 301.8 557.2 301.9 558.8 302.0 560.4 302.1 561.9 302.2 563.4 302.3 565.0 302.4 566.5 302.5 567.9 302.6 569.4 302.7 570.9 302.8 572.3 302.9 573.8 303.1 575.2 303.2 576.6 303.3 578.0 303.4 579.4 303.5 580.8 303.7 582.2 303.8 583.6 303.9 585.0 304.1 586.4 304.2 587.8 304.4 589.1 304.5 590.5 304.7 591.9 304.8 593.2 305.0 594.6 305.2 596.2 305.4 597.8 305.6 599.5 305.8 601.3 306.0 603.2 306.2 605.0 306.4 606.9 306.6 608.8 306.9 610.7 307.1 612.6 307.3 614.4 307.6 616.1 307.8 617.8 308.1 619.4 308.3 620.9 308.6 622.3 308.8 623.5 309.1 624.6 309.4 625.6 309.6 626.3 309.9 626.9 310.2 627.3 310.5 627.4 310.9 627.2 311.3 626.6 311.8 625.7 312.2 624.5 312.7 623.0 313.2 621.4 313.7 619.6 314.2 617.7 314.6 615.8 315.1 613.9 315.5 612.1 315.9 610.3 316.3 608.8 316.7 607.4 317.0 605.9 317.3 604.5 317.6 603.1 317.9 601.7 318.2 600.2 318.4 598.8 318.7 597.4 319.0 595.9 319.2 594.5 319.5 593.0 319.8 591.5 320.1 590.0 320.4 588.7 320.6 587.3 320.9 586.0 321.2 584.6 321.5 583.2 321.8 581.8 322.1 580.5 322.4 579.1 322.6 577.7 322.9 576.3 323.2 574.8 323.5 573.4 323.8 572.0 324.1 570.5 324.3 569.1 324.6 567.6 324.8 566.2 325.1 564.9 325.3 563.5 325.5 562.1 325.7 560.7 325.9 559.3 326.2 557.9 326.4 556.5 326.6 555.1 326.8 553.6 327.0 552.2 327.2 550.7 327.4 549.3 327.7 547.8 327.9 546.4 328.2 544.9 328.4 543.4 328.7 541.9 329.0 540.4 329.3 539.1 329.5 537.7 329.8 536.3 330.1 534.9 330.4 533.5 330.7 532.1 331.1 530.7 331.4 529.2 331.7 527.8 332.0 526.4 332.4 524.9 332.7 523.5 333.1 522.0 333.4 520.6 333.8 519.1 334.1 517.7 334.5 516.3 334.8 514.9 335.2 513.5 335.5 512.1 335.9 510.7 336.3 509.3 336.6 508.0 337.0 506.7 337.4 505.2 337.9 503.6 338.3 502.1 338.8 500.5 339.2 498.9 339.7 497.4 340.2 495.9 340.6 494.3 341.1 492.9 341.6 491.4 342.0 489.9 342.5 488.5 343.0 487.2 343.4 485.8 343.9 484.5 344.3 483.3 344.8 482.1 345.2 481.0 345.8 479.5 346.4 478.2 347.0 476.9 347.5 475.8 348.1 474.6 348.7 473.4 349.3 472.2 350.0 470.9 350.6 469.7 351.1 468.5 351.7 467.3 352.3 466.0 352.9 464.7 353.5 463.4 354.1 462.1 354.8 460.8 355.4 459.5 356.1 458.2 356.9 456.9 357.6 455.7 358.4 454.5 359.1 453.3 359.9 452.0 360.7 450.8 361.5 449.6 362.4 448.4 363.3 447.2 364.2 446.0 365.1 444.8 366.0 443.7 367.0 442.6 368.0 441.5 369.0 440.5 370.0 439.5 371.1 438.6 372.2 437.7 373.3 436.8 374.4 436.0 375.6 435.2 376.8 434.4 378.0 433.6 379.2 432.9 380.4 432.1 381.7 431.4 382.9 430.8 384.2 430.1 385.5 429.5 386.7 428.9 388.1 428.4 389.4 427.8 390.8 427.3 392.1 426.9 393.5 426.4 394.9 425.9 396.3 425.5 397.7 425.1 399.0 424.6 400.4 424.2 401.8 423.8 403.1 423.3 404.4 422.8 405.8 422.4 407.1 421.9 408.4 421.5 409.7 421.1 411.0 420.6 412.4 420.2 413.7 419.8 415.0 419.4 416.3 418.9 417.7 418.5 419.0 418.0 420.4 417.6 421.7 417.2 423.0 416.7 424.4 416.3 425.7 415.8 427.1 415.3 428.5 414.8 429.8 414.4 431.2 413.9 432.6 413.4 434.0 413.0 435.4 412.6 436.8 412.1 438.1 411.7 439.5 411.4 440.9 411.0 442.3 410.7 443.8 410.3 445.2 410.0 446.7 409.8 448.1 409.5 449.5 409.2 451.0 409.0 452.4 408.8 453.9 408.5 455.3 408.3 456.8 408.1 458.3 407.9 459.8 407.6 461.3 407.4 462.7 407.2 464.1 407.0 465.5 406.7 466.9 406.5 468.3 406.3 469.7 406.1 471.2 405.8 472.6 405.6 474.1 405.4 475.5 405.2 477.0 405.0 478.4 404.7 479.8 404.5 481.2 404.3 482.6 404.2 484.0 404.0 485.4 403.8 486.9 403.6 488.4 403.4 489.8 403.3 491.3 403.1 492.7 402.9 494.1 402.8 495.5 402.6 496.9 402.5 498.4 402.3 499.8 402.2 501.3 402.1 502.8 401.9 504.3 401.8 505.9 401.7 507.2 401.6 508.6 401.5 510.0 401.4 511.4 401.3 512.8 401.2 514.3 401.2 515.7 401.1 517.2 401.0 518.6 400.9 520.1 400.9 521.6 400.8 523.1 400.7 524.6 400.6 526.1 400.6 527.6 400.5 529.1 400.5 530.6 400.4 532.1 400.3 533.5 400.3 535.0 400.2 536.4 400.1 537.9 400.1 539.3 400.0 540.7 400.0 542.0 399.9 543.4 399.9 544.8 399.8 546.1 399.8 547.5 399.7 548.9 399.7 550.3 399.6 551.7 399.6 553.2 399.5 554.6 399.5 556.1 399.4 557.7 399.4 559.2 399.3 560.8 399.3 562.5 399.2 564.2 399.2 565.4 399.2 566.7 399.1 568.0 399.1 569.3 399.1 570.7 399.0 572.0 399.0 573.4 399.0 574.9 398.9 576.3 398.9 577.8 398.9 579.3 398.9 580.8 398.8 582.3 398.8 583.8 398.8 585.4 398.7 586.9 398.7 588.5 398.7 590.1 398.6 591.7 398.6 593.3 398.6 594.9 398.5 596.5 398.5 598.1 398.5 599.7 398.5 601.3 398.4 602.9 398.4 604.5 398.4 606.1 398.4 607.7 398.3 609.3 398.3 610.8 398.3 612.4 398.2 613.9 398.2 615.5 398.2 617.0 398.2 618.5 398.1 619.9 398.1 621.4 398.1 622.8 398.1 624.3 398.0 625.6 398.0 627.0 398.0 628.6 398.0 630.2 397.9 631.7 397.9 633.3 397.9 634.8 397.9 636.3 397.9 637.8 397.8 639.3 397.8 640.7 397.8 642.2 397.8 643.7 397.7 645.1 397.7 646.5 397.7 648.0 397.7 649.4 397.7 650.8 397.6 652.2 397.6 653.6 397.6 655.0 397.6 656.4 397.6 657.9 397.6 659.3 397.5 660.7 397.5 662.1 397.5 663.5 397.5 665.0 397.5 666.4 397.4 667.8 397.4 669.3 397.4" fill="none" stroke="#159191" stroke-width="2.2" stroke-linejoin="round"/>
<rect x="44.4" y="2.6" width="625.0" height="957.7" fill="none" stroke="#000" stroke-width="1.7"/>
<path d="M35.3 2.7H44.4M39.6 46.2H44.4M35.3 89.8H44.4M39.6 133.3H44.4M35.3 176.9H44.4M39.6 220.4H44.4M35.3 264.0H44.4M39.6 307.5H44.4M35.3 351.1H44.4M39.6 394.6H44.4M35.3 438.2H44.4M39.6 481.8H44.4M35.3 525.3H44.4M39.6 568.8H44.4M35.3 612.4H44.4M39.6 655.9H44.4M35.3 699.5H44.4M39.6 743.0H44.4M35.3 786.6H44.4M39.6 830.1H44.4M35.3 873.7H44.4M39.6 917.2H44.4M35.3 960.8H44.4M44.4 960.3V968.6M89.0 960.3V965.5M133.7 960.3V968.6M178.3 960.3V965.5M223.0 960.3V968.6M267.6 960.3V965.5M312.3 960.3V968.6M356.9 960.3V965.5M401.5 960.3V968.6M446.2 960.3V965.5M490.8 960.3V968.6M535.5 960.3V965.5M580.1 960.3V968.6M624.8 960.3V965.5M669.4 960.3V968.6" stroke="#000" stroke-width="1.7" fill="none"/>
<path d="M667.9 46.2H669.4M667.9 89.8H669.4M667.9 133.3H669.4M667.9 176.9H669.4M667.9 220.4H669.4M667.9 264.0H669.4M667.9 307.5H669.4M667.9 351.1H669.4M667.9 394.6H669.4M667.9 438.2H669.4M667.9 481.7H669.4M667.9 525.3H669.4M667.9 568.9H669.4M667.9 612.4H669.4M667.9 656.0H669.4M667.9 699.5H669.4M667.9 743.0H669.4M667.9 786.6H669.4M667.9 830.1H669.4M667.9 873.7H669.4M667.9 917.2H669.4" stroke="#000" stroke-width="1.0" fill="none"/>
<path d="M89.0 2.6V4.6M133.7 2.6V4.6M178.3 2.6V4.6M223.0 2.6V4.6M267.6 2.6V4.6M312.3 2.6V4.6M356.9 2.6V4.6M401.5 2.6V4.6M446.2 2.6V4.6M490.8 2.6V4.6M535.5 2.6V4.6M580.1 2.6V4.6M624.8 2.6V4.6" stroke="#000" stroke-width="1.0" fill="none"/>
<text transform="translate(44.40 989.80) scale(1 1.055)" font-size="20.3" text-anchor="middle">0</text>
<text transform="translate(133.69 989.80) scale(1 1.055)" font-size="20.3" text-anchor="middle">100</text>
<text transform="translate(222.97 989.80) scale(1 1.055)" font-size="20.3" text-anchor="middle">200</text>
<text transform="translate(312.26 989.80) scale(1 1.055)" font-size="20.3" text-anchor="middle">300</text>
<text transform="translate(401.54 989.80) scale(1 1.055)" font-size="20.3" text-anchor="middle">400</text>
<text transform="translate(490.83 989.80) scale(1 1.055)" font-size="20.3" text-anchor="middle">500</text>
<text transform="translate(580.12 989.80) scale(1 1.055)" font-size="20.3" text-anchor="middle">600</text>
<text transform="translate(669.40 989.80) scale(1 1.055)" font-size="20.3" text-anchor="middle">700</text>
<text x="311.5" y="1030" font-size="26.8"><tspan font-style="italic">B</tspan> (mT)</text>
<text transform="translate(20.0 626.0) rotate(-90)" font-size="27.1">Offset <tspan font-style="italic">dP</tspan>/<tspan font-style="italic">dB</tspan> (arb. units)</text>
<text transform="translate(125.60 321.90) scale(1 1.025)" font-size="29" font-weight="bold" fill="#ff0000">FMR</text>
<ellipse cx="174.1" cy="636.6" rx="75.3" ry="289.9" transform="rotate(-2.53 174.1 636.6)" fill="none" stroke="#ff0000" stroke-width="4.3"/>
<rect x="481.8" y="523.6" width="110.4" height="302.8" fill="#fff" stroke="#333" stroke-width="1.3"/>
<path d="M485 537.8H531.9" stroke="#159191" stroke-width="2.0"/>
<text transform="translate(537.10 544.50) scale(1 1.04)" font-size="20.6">386 K</text>
<path d="M485 562.9H531.9" stroke="#2f62ad" stroke-width="2.0"/>
<text transform="translate(537.10 569.62) scale(1 1.04)" font-size="20.6">388 K</text>
<path d="M485 588.0H531.9" stroke="#8c8c0c" stroke-width="2.0"/>
<text transform="translate(537.10 594.74) scale(1 1.04)" font-size="20.6">390 K</text>
<path d="M485 613.2H531.9" stroke="#8c0606" stroke-width="2.0"/>
<text transform="translate(537.10 619.86) scale(1 1.04)" font-size="20.6">392 K</text>
<path d="M485 638.3H531.9" stroke="#870a87" stroke-width="2.0"/>
<text transform="translate(537.10 644.98) scale(1 1.04)" font-size="20.6">394 K</text>
<path d="M485 663.4H531.9" stroke="#8000ff" stroke-width="2.0"/>
<text transform="translate(537.10 670.10) scale(1 1.04)" font-size="20.6">396 K</text>
<path d="M485 688.5H531.9" stroke="#0c0c88" stroke-width="2.0"/>
<text transform="translate(537.10 695.22) scale(1 1.04)" font-size="20.6">400 K</text>
<path d="M485 713.6H531.9" stroke="#008000" stroke-width="2.0"/>
<text transform="translate(537.10 720.34) scale(1 1.04)" font-size="20.6">402 K</text>
<path d="M485 738.8H531.9" stroke="#ff00ff" stroke-width="2.0"/>
<text transform="translate(537.10 745.46) scale(1 1.04)" font-size="20.6">404 K</text>
<path d="M485 763.9H531.9" stroke="#0000ff" stroke-width="2.0"/>
<text transform="translate(537.10 770.58) scale(1 1.04)" font-size="20.6">406 K</text>
<path d="M485 789.0H531.9" stroke="#ff0000" stroke-width="2.0"/>
<text transform="translate(537.10 795.70) scale(1 1.04)" font-size="20.6">408 K</text>
<path d="M485 814.1H531.9" stroke="#000000" stroke-width="2.0"/>
<text transform="translate(537.10 820.82) scale(1 1.04)" font-size="20.6">410 K</text>
<rect x="346.8" y="40.1" width="1" height="1" fill="none"/>
<path d="M377.0 174.2L378.5 174.2 379.9 174.2 381.4 174.2 382.9 174.2 384.4 174.2 385.9 174.2 387.3 174.2 388.8 174.2 390.3 174.2 391.8 174.2 393.2 174.2 394.7 174.2 396.2 174.2 397.7 174.2 399.2 174.2 400.6 174.1 402.1 174.1 403.6 174.1 405.1 174.1 406.6 174.1 408.0 174.1 409.5 174.1 411.0 174.1 412.4 174.1 413.9 174.1 415.4 174.1 416.9 174.1 418.3 174.1 419.8 174.1 421.3 174.1 422.7 174.1 424.2 174.1 425.6 174.1 427.1 174.1 428.5 174.1 430.0 174.1 431.5 174.1 433.0 174.1 434.5 174.1 436.0 174.1 437.6 174.1 439.1 174.1 440.7 174.1 442.2 174.1 443.8 174.1 445.3 174.1 446.8 174.1 448.4 174.2 449.9 174.2 451.5 174.2 453.0 174.2 454.6 174.2 456.1 174.2 457.6 174.2 459.1 174.2 460.6 174.2 462.1 174.2 463.6 174.2 465.1 174.2 466.5 174.2 467.9 174.2 469.4 174.2 470.8 174.2 472.1 174.2 473.5 174.2 474.9 174.2 476.2 174.2 477.5 174.1 478.8 174.1 480.0 174.1 481.7 174.1 483.3 174.1 485.0 174.1 486.6 174.0 488.2 174.0 489.8 174.0 491.3 174.0 492.8 174.0 494.3 174.0 495.8 174.0 497.2 173.9 498.6 173.9 500.0 173.8 501.3 173.7 502.6 173.6 503.9 173.5 505.1 173.4 506.3 173.2 507.9 172.9 509.4 172.7 510.9 172.4 512.3 172.1 513.6 171.8 514.9 171.4 516.1 170.9 517.3 170.4 518.5 169.7 519.6 168.9 520.7 168.0 521.8 166.9 522.8 165.8 523.7 164.7 524.6 163.5 525.5 162.3 526.4 161.2 527.3 160.1 528.2 158.9 529.1 157.6 530.0 156.4 530.8 155.2 531.7 154.0 532.5 153.0 533.4 152.2 534.5 151.3 535.6 150.6 536.7 150.2 537.8 150.1 538.7 150.5 539.7 151.3 540.6 152.3 541.4 153.5 542.2 154.8 542.8 155.9 543.3 157.1 543.7 158.5 544.2 160.0 544.6 161.6 545.0 163.1 545.4 164.7 545.8 166.2 546.2 167.6 546.6 168.8 547.1 170.2 547.5 171.5 548.0 172.7 548.5 173.8 549.0 174.9 549.5 176.0 550.3 177.3 551.1 178.4 551.9 179.5 552.7 180.5 553.6 181.5 554.4 182.4 555.3 183.0 556.2 183.0 557.4 182.8 558.5 182.6 559.8 182.4 561.4 182.1 563.0 181.8 564.6 181.5 566.2 181.3 567.6 181.0 568.9 180.8 570.0 180.5 571.2 180.3 572.4 180.1 573.8 179.8 574.9 179.6 576.0 179.4 577.2 179.1 578.5 178.9 579.8 178.6 581.2 178.4 582.6 178.1 584.0 177.9 585.5 177.6 587.0 177.4 588.5 177.2 590.1 177.0 591.4 176.9 592.7 176.7 594.1 176.6 595.6 176.5 597.0 176.4 598.5 176.3 600.0 176.2 601.6 176.1 603.1 176.0 604.7 176.0 606.3 175.9 607.9 175.8 609.4 175.8 611.0 175.7 612.6 175.6 614.1 175.6 615.6 175.5 617.1 175.4 618.6 175.4 620.0 175.3 621.5 175.2 623.1 175.2 624.6 175.1 626.1 175.0 627.6 175.0 629.0 174.9 630.5 174.8 631.9 174.8 633.4 174.7 634.8 174.7 636.3 174.6 637.7 174.5 639.1 174.5 640.6 174.4 642.0 174.4 643.5 174.3" fill="none" stroke="#000000" stroke-width="1.6" stroke-linejoin="round"/>
<path d="M377.0 174.6L378.4 174.6 379.9 174.6 381.3 174.6 382.7 174.6 384.1 174.6 385.5 174.5 386.9 174.5 388.3 174.5 389.7 174.5 391.2 174.5 392.6 174.5 394.0 174.5 395.5 174.5 397.0 174.4 398.5 174.4 400.0 174.4 401.3 174.4 402.7 174.3 404.1 174.3 405.5 174.3 406.9 174.2 408.4 174.2 409.8 174.2 411.3 174.1 412.7 174.1 414.2 174.0 415.7 174.0 417.1 173.9 418.6 173.9 420.1 173.9 421.5 173.8 423.0 173.8 424.4 173.7 425.8 173.7 427.2 173.7 428.6 173.6 430.0 173.6 431.5 173.6 433.1 173.5 434.6 173.5 436.2 173.5 437.7 173.4 439.2 173.4 440.8 173.3 442.3 173.3 443.8 173.3 445.3 173.3 446.7 173.2 448.2 173.2 449.6 173.2 451.0 173.2 452.4 173.2 453.7 173.2 455.0 173.2 456.5 173.2 458.0 173.3 459.4 173.3 460.9 173.4 462.2 173.4 463.6 173.5 464.9 173.6 466.2 173.6 467.5 173.7 468.8 173.8 470.0 173.8 471.6 173.9 473.1 174.0 474.5 174.1 476.0 174.2 477.3 174.2 478.7 174.2 480.0 174.1 481.5 173.9 483.0 173.7 484.4 173.3 485.7 172.9 487.0 172.3 488.2 171.5 489.3 170.6 490.3 169.5 491.3 168.3 492.3 167.1 493.1 166.0 493.8 164.9 494.6 163.7 495.3 162.4 496.0 161.1 496.7 159.8 497.5 158.3 498.1 157.2 498.7 156.1 499.3 154.9 499.9 153.7 500.5 152.5 501.1 151.2 501.8 149.9 502.4 148.6 503.1 147.2 503.7 145.9 504.4 144.6 505.0 143.3 505.7 142.0 506.3 140.8 507.0 139.5 507.7 138.3 508.4 137.0 509.1 135.7 509.8 134.4 510.5 133.1 511.2 131.8 511.9 130.6 512.6 129.4 513.2 128.2 513.8 127.1 514.4 126.0 515.0 125.0 515.8 123.6 516.5 122.3 517.1 121.1 517.7 120.0 518.4 118.9 519.0 118.0 519.8 116.9 520.6 115.9 521.5 115.4 522.8 115.5 524.0 116.0 524.8 116.8 525.5 118.0 525.8 118.8 526.2 119.9 526.5 121.1 526.8 122.4 527.2 123.9 527.5 125.4 527.8 127.0 528.1 128.7 528.4 130.4 528.7 132.1 529.0 133.8 529.2 135.0 529.4 136.3 529.6 137.6 529.8 138.9 530.0 140.3 530.1 141.7 530.3 143.1 530.5 144.6 530.7 146.1 530.8 147.5 531.0 149.0 531.2 150.5 531.3 152.0 531.5 153.5 531.7 155.0 531.8 156.5 532.0 158.0 532.1 159.4 532.3 160.8 532.4 162.2 532.6 163.6 532.8 165.1 532.9 166.6 533.1 168.1 533.2 169.6 533.4 171.1 533.5 172.6 533.6 174.1 533.8 175.5 533.9 177.0 534.0 178.4 534.2 179.9 534.3 181.3 534.5 182.7 534.7 184.1 534.8 185.4 535.0 186.8 535.2 188.1 535.4 189.7 535.7 191.4 535.9 193.0 536.2 194.7 536.4 196.4 536.7 198.0 537.0 199.5 537.3 201.0 537.6 202.4 537.9 203.6 538.3 204.7 538.7 205.6 539.5 207.1 540.4 208.1 541.3 208.6 542.1 208.4 543.0 207.6 543.9 206.7 544.8 205.6 545.5 204.6 546.3 203.5 547.0 202.2 547.7 200.9 548.5 199.5 549.3 198.2 550.1 196.9 550.9 195.8 551.7 194.6 552.5 193.4 553.3 192.2 554.2 191.1 555.1 190.0 556.1 189.0 557.1 188.1 558.2 187.3 559.4 186.5 560.6 185.8 561.9 185.1 563.3 184.5 564.7 184.0 566.1 183.4 567.6 182.9 568.9 182.5 570.2 182.1 571.7 181.7 573.1 181.4 574.6 181.1 576.1 180.8 577.6 180.5 579.2 180.2 580.7 180.0 582.2 179.8 583.7 179.5 585.1 179.3 586.6 179.1 588.1 178.9 589.6 178.7 591.0 178.5 592.5 178.3 593.9 178.2 595.4 178.0 596.9 177.9 598.4 177.8 600.0 177.6 601.3 177.5 602.7 177.3 604.1 177.2 605.5 177.1 606.9 177.0 608.3 176.9 609.7 176.7 611.2 176.6 612.6 176.5 614.1 176.4 615.6 176.3 617.0 176.2 618.5 176.1 620.0 176.0 621.4 175.9 622.8 175.8 624.3 175.7 625.7 175.7 627.2 175.6 628.7 175.5 630.1 175.4 631.6 175.4 633.1 175.3 634.6 175.2 636.1 175.2 637.6 175.1 639.1 175.0 640.5 174.9 642.0 174.9 643.5 174.8" fill="none" stroke="#ff0000" stroke-width="1.6" stroke-linejoin="round"/>
<path d="M377.0 174.0L377.5 175.2 377.9 176.3 378.4 177.4 378.9 178.6 379.3 180.0 379.6 181.1 379.9 182.4 380.2 183.7 380.5 185.1 380.8 186.5 381.1 188.0 381.4 189.5 381.7 190.9 382.0 192.3 382.3 193.7 382.6 195.1 382.9 196.6 383.2 198.0 383.5 199.5 383.7 200.9 384.0 202.3 384.3 203.6 384.7 204.9 385.0 206.0 385.5 207.5 385.9 209.0 386.4 210.3 386.9 211.2 387.4 211.6 388.0 211.0 388.5 209.6 389.0 207.8 389.5 206.0 389.9 204.7 390.2 203.3 390.5 201.8 390.8 200.3 391.1 198.9 391.4 197.4 391.7 196.0 392.0 194.6 392.3 193.2 392.6 191.8 392.9 190.4 393.2 189.0 393.5 187.6 393.8 186.2 394.1 184.9 394.5 183.5 394.8 182.2 395.1 180.9 395.4 179.6 395.8 178.4 396.1 177.3 396.4 176.1 396.8 175.0 397.2 173.7 397.7 172.5 398.1 171.3 398.7 170.0 399.2 168.9 399.7 167.7 400.3 166.5 400.9 165.3 401.5 164.2 402.3 163.3 403.4 162.4 404.7 161.8 406.1 161.2 407.5 160.7 408.7 160.3 409.9 160.0 411.2 159.7 412.6 159.4 414.0 159.1 415.4 158.7 416.6 158.3 417.8 158.0 419.1 157.5 420.5 157.1 421.8 156.7 423.2 156.2 424.6 155.7 425.9 155.2 427.3 154.6 428.6 154.1 429.9 153.5 431.3 152.9 432.6 152.3 433.9 151.7 435.2 151.1 436.5 150.4 437.8 149.7 439.1 149.0 440.4 148.3 441.7 147.5 442.9 146.8 444.1 146.0 445.4 145.3 446.6 144.5 447.8 143.7 449.0 142.8 450.2 142.0 451.4 141.1 452.6 140.2 453.7 139.3 454.8 138.3 455.8 137.3 456.9 136.3 457.9 135.3 458.9 134.2 459.9 133.1 460.8 131.9 461.8 130.8 462.7 129.6 463.6 128.5 464.4 127.4 465.2 126.3 466.0 125.2 466.9 123.9 467.8 122.6 468.5 121.4 469.3 120.1 470.0 118.9 470.7 117.6 471.4 116.3 472.0 115.0 472.6 113.7 473.1 112.4 473.5 111.1 474.0 109.7 474.4 108.4 474.9 107.0 475.3 105.7 475.8 104.4 476.3 103.1 476.9 101.7 477.5 100.3 478.1 98.9 478.8 97.4 479.4 96.1 480.1 94.9 480.7 93.8 481.4 92.9 482.4 91.8 483.4 91.0 484.4 90.6 485.7 90.9 487.0 92.0 487.5 92.7 487.9 93.7 488.2 94.9 488.6 96.2 488.9 97.6 489.2 99.2 489.4 100.8 489.7 102.5 490.0 104.2 490.2 105.9 490.5 107.5 490.7 108.8 490.9 110.1 491.2 111.4 491.4 112.8 491.6 114.2 491.8 115.6 492.0 117.0 492.2 118.5 492.3 120.0 492.5 121.5 492.7 123.0 492.9 124.5 493.1 126.0 493.3 127.6 493.5 129.1 493.6 130.7 493.8 132.2 494.0 133.8 494.2 135.2 494.3 136.5 494.5 137.9 494.6 139.3 494.8 140.8 494.9 142.2 495.1 143.6 495.2 145.1 495.3 146.5 495.5 148.0 495.6 149.5 495.8 150.9 495.9 152.4 496.0 153.9 496.2 155.4 496.3 156.9 496.5 158.4 496.6 159.9 496.8 161.4 496.9 162.9 497.1 164.4 497.2 165.8 497.3 167.3 497.5 168.8 497.6 170.2 497.8 171.7 498.0 173.1 498.1 174.6 498.3 176.0 498.4 177.5 498.6 178.9 498.7 180.4 498.9 181.9 499.0 183.3 499.2 184.8 499.4 186.2 499.5 187.7 499.7 189.2 499.8 190.6 500.0 192.1 500.2 193.5 500.3 195.0 500.5 196.4 500.6 197.9 500.8 199.3 500.9 200.7 501.1 202.2 501.2 203.6 501.4 205.0 501.6 206.5 501.7 208.1 501.9 209.7 502.0 211.3 502.2 212.9 502.3 214.6 502.4 216.2 502.6 217.8 502.7 219.5 502.9 221.1 503.0 222.7 503.2 224.2 503.3 225.8 503.5 227.3 503.6 228.8 503.8 230.2 503.9 231.6 504.1 233.0 504.3 234.2 504.5 235.5 504.7 236.6 504.9 237.7 505.3 239.6 505.7 241.5 506.1 243.3 506.5 244.9 506.9 246.3 507.4 247.1 507.9 247.5 508.5 247.2 509.1 246.3 509.8 245.0 510.5 243.4 511.2 241.7 511.9 240.0 512.3 239.0 512.8 237.8 513.2 236.6 513.6 235.4 514.0 234.0 514.5 232.6 514.9 231.2 515.3 229.7 515.8 228.2 516.3 226.7 516.8 225.2 517.2 223.7 517.8 222.2 518.3 220.8 518.8 219.4 519.4 218.0 520.0 216.7 520.7 215.3 521.3 214.0 522.0 212.6 522.7 211.3 523.5 210.0 524.2 208.6 525.0 207.3 525.7 206.1 526.5 204.8 527.3 203.6 528.2 202.4 529.0 201.2 529.9 200.1 530.8 199.0 531.7 198.0 532.7 196.9 533.8 195.9 534.9 194.9 536.0 193.9 537.2 193.0 538.3 192.1 539.5 191.2 540.7 190.4 541.9 189.7 543.2 188.9 544.4 188.2 545.7 187.5 547.0 186.8 548.2 186.2 549.5 185.7 550.8 185.1 552.1 184.6 553.4 184.1 554.8 183.7 556.2 183.3 557.6 182.9 559.1 182.5 560.6 182.1 562.1 181.7 563.4 181.4 564.7 181.1 566.1 180.9 567.4 180.6 568.9 180.4 570.3 180.2 571.8 180.0 573.2 179.8 574.7 179.6 576.2 179.5 577.8 179.3 579.3 179.2 580.8 179.0 582.4 178.9 583.9 178.7 585.5 178.6 587.0 178.5 588.5 178.3 590.0 178.2 591.4 178.1 592.8 178.0 594.3 177.9 595.7 177.8 597.1 177.7 598.6 177.6 600.0 177.5 601.5 177.4 603.0 177.3 604.4 177.3 605.9 177.2 607.3 177.1 608.8 177.1 610.2 177.0 611.7 176.9 613.1 176.9 614.5 176.8 615.9 176.8 617.3 176.7 618.6 176.7 620.0 176.6 621.5 176.5 623.1 176.5 624.6 176.4 626.1 176.4 627.6 176.3 629.0 176.3 630.5 176.2 631.9 176.2 633.4 176.1 634.8 176.1 636.3 176.0 637.7 176.0 639.1 175.9 640.6 175.9 642.0 175.8 643.5 175.8" fill="none" stroke="#00ff00" stroke-width="1.6" stroke-linejoin="round"/>
<path d="M377.0 176.4L377.5 175.1 378.0 173.8 378.5 172.5 379.0 171.2 379.5 169.9 380.0 168.6 380.5 167.2 381.0 165.7 381.5 164.2 382.0 162.8 382.6 161.6 383.2 160.7 384.5 160.0 385.9 159.4 386.9 158.2 387.9 156.9 388.9 156.1 389.8 156.3 390.8 156.8 391.8 157.4 393.1 157.8 394.4 158.2 395.7 158.7 397.0 159.4 398.4 160.1 399.7 160.7 401.0 160.9 402.3 161.0 403.6 160.9 404.9 160.8 406.2 160.6 407.5 160.3 408.9 160.0 410.2 159.6 411.5 159.1 412.8 158.6 414.1 158.0 415.4 157.4 416.7 156.8 418.0 156.1 419.4 155.5 420.7 154.8 422.0 154.1 423.1 153.5 424.2 152.9 425.3 152.4 426.4 151.8 427.5 151.1 428.6 150.4 429.7 149.6 430.8 148.7 431.9 147.9 433.0 146.9 434.1 145.9 435.1 144.9 436.1 143.9 437.1 142.8 438.0 141.7 439.0 140.6 439.9 139.4 440.8 138.2 441.7 137.0 442.4 135.9 443.1 134.8 443.8 133.7 444.5 132.6 445.1 131.4 445.8 130.3 446.4 129.1 447.0 127.8 447.6 126.6 448.1 125.4 448.6 124.1 449.2 122.8 449.7 121.5 450.2 120.2 450.7 118.9 451.2 117.5 451.7 116.1 452.2 114.7 452.7 113.4 453.1 112.0 453.6 110.5 454.0 109.1 454.5 107.6 454.9 106.2 455.4 104.7 455.8 103.2 456.3 101.8 456.7 100.3 457.1 99.0 457.5 97.6 457.9 96.2 458.3 94.8 458.7 93.4 459.0 92.0 459.4 90.7 459.7 89.3 460.1 88.0 460.5 86.8 460.9 85.6 461.4 84.5 462.1 83.1 462.8 81.6 463.6 80.2 464.4 79.0 465.2 78.1 466.0 77.5 467.3 77.4 468.5 77.8 469.3 78.3 470.0 79.1 470.6 80.2 471.0 81.0 471.3 82.1 471.6 83.3 472.0 84.6 472.3 86.0 472.6 87.5 472.8 89.1 473.1 90.7 473.4 92.3 473.7 93.9 473.9 95.5 474.2 97.0 474.4 98.4 474.7 99.8 474.9 101.2 475.2 102.6 475.4 104.0 475.6 105.4 475.8 106.8 476.0 108.3 476.3 109.8 476.5 111.3 476.7 112.8 476.9 114.3 477.1 115.8 477.3 117.4 477.5 118.7 477.6 120.1 477.8 121.4 478.0 122.8 478.1 124.2 478.3 125.6 478.4 127.0 478.6 128.5 478.7 129.9 478.9 131.4 479.1 132.8 479.2 134.3 479.4 135.8 479.5 137.3 479.7 138.7 479.8 140.2 480.0 141.7 480.1 143.2 480.3 144.6 480.4 146.1 480.5 147.5 480.7 149.0 480.8 150.4 481.0 151.8 481.1 153.2 481.3 154.7 481.4 156.1 481.6 157.5 481.7 159.0 481.9 160.4 482.0 161.8 482.2 163.3 482.3 164.7 482.4 166.2 482.6 167.7 482.7 169.1 482.9 170.6 483.0 172.1 483.1 173.6 483.3 175.2 483.4 176.7 483.5 178.1 483.6 179.4 483.7 180.8 483.8 182.2 484.0 183.7 484.1 185.1 484.2 186.5 484.3 188.0 484.4 189.4 484.5 190.9 484.6 192.4 484.7 193.8 484.8 195.3 484.9 196.8 485.0 198.3 485.1 199.8 485.2 201.2 485.3 202.7 485.4 204.2 485.5 205.6 485.6 207.1 485.7 208.5 485.8 210.0 485.9 211.4 486.0 212.8 486.2 214.2 486.3 215.6 486.4 217.1 486.6 218.6 486.7 220.1 486.9 221.7 487.0 223.2 487.2 224.7 487.4 226.3 487.5 227.8 487.7 229.4 487.8 230.9 488.0 232.4 488.2 233.9 488.3 235.4 488.5 236.8 488.7 238.2 488.9 239.6 489.0 241.0 489.2 242.4 489.4 243.7 489.5 244.9 489.7 246.2 489.8 247.4 490.0 248.5 490.2 250.1 490.5 251.7 490.7 253.1 490.9 254.5 491.1 255.9 491.4 257.2 491.6 258.4 491.8 259.7 492.1 260.8 492.3 262.0 492.6 263.5 492.9 265.1 493.2 266.7 493.5 268.0 493.8 268.9 494.2 269.3 494.8 268.8 495.4 267.5 496.0 266.0 496.4 264.9 496.8 263.8 497.2 262.5 497.6 261.1 498.1 259.6 498.5 258.1 499.0 256.4 499.3 255.3 499.6 254.1 500.0 252.8 500.3 251.4 500.6 250.0 501.0 248.6 501.4 247.1 501.7 245.6 502.1 244.0 502.5 242.5 502.9 240.9 503.3 239.4 503.7 237.8 504.1 236.3 504.6 234.8 505.0 233.4 505.5 232.0 506.0 230.7 506.6 229.2 507.2 227.8 507.8 226.4 508.4 225.0 509.0 223.6 509.7 222.2 510.3 220.9 511.0 219.5 511.7 218.2 512.4 217.0 513.1 215.7 513.9 214.4 514.6 213.2 515.4 212.0 516.2 210.8 517.0 209.6 517.8 208.5 518.7 207.3 519.5 206.2 520.4 205.1 521.3 204.0 522.2 202.9 523.1 201.9 524.1 200.9 525.0 199.9 526.0 198.9 527.0 198.0 528.1 197.1 529.1 196.2 530.3 195.3 531.4 194.5 532.5 193.7 533.7 192.9 534.9 192.1 536.1 191.4 537.3 190.7 538.5 190.0 539.8 189.4 541.1 188.7 542.3 188.1 543.5 187.5 544.8 187.0 546.0 186.5 547.3 186.0 548.6 185.5 549.9 185.0 551.2 184.5 552.5 184.1 553.9 183.7 555.3 183.2 556.7 182.8 558.2 182.5 559.7 182.1 561.0 181.8 562.3 181.5 563.6 181.3 565.0 181.0 566.4 180.8 567.8 180.6 569.2 180.4 570.7 180.2 572.2 180.0 573.7 179.8 575.2 179.6 576.7 179.5 578.2 179.3 579.7 179.2 581.2 179.0 582.7 178.9 584.2 178.7 585.7 178.6 587.2 178.5 588.6 178.3 590.1 178.2 591.6 178.1 593.1 177.9 594.6 177.8 596.1 177.7 597.7 177.6 599.2 177.5 600.7 177.5 602.2 177.4 603.8 177.3 605.3 177.2 606.8 177.2 608.3 177.1 609.8 177.0 611.3 177.0 612.8 176.9 614.3 176.9 615.7 176.8 617.2 176.7 618.6 176.7 620.0 176.6 621.5 176.5 623.1 176.5 624.6 176.4 626.1 176.3 627.6 176.3 629.0 176.2 630.5 176.1 631.9 176.1 633.4 176.0 634.8 176.0 636.3 175.9 637.7 175.8 639.1 175.8 640.6 175.7 642.0 175.7 643.5 175.6" fill="none" stroke="#0000ff" stroke-width="1.6" stroke-linejoin="round"/>
<path d="M377.2 176.9L377.6 176.7 378.0 176.4 378.5 175.7 379.0 174.6 379.6 173.2 380.2 171.7 380.8 170.1 381.3 168.6 381.7 167.4 382.1 166.1 382.4 164.8 382.8 163.5 383.1 162.1 383.5 160.8 383.8 159.4 384.1 158.0 384.5 156.7 384.9 155.4 385.2 154.0 385.6 152.6 385.9 151.3 386.3 149.9 386.6 148.6 387.0 147.3 387.4 146.1 387.8 144.9 388.3 143.4 388.8 141.8 389.4 140.3 390.0 139.0 390.5 138.1 391.1 137.7 392.0 138.3 392.9 139.7 393.7 141.0 394.4 141.9 395.0 142.8 395.7 143.6 396.7 144.2 397.7 144.9 398.4 145.9 399.0 147.3 399.7 148.8 400.3 150.2 400.9 151.6 401.5 153.0 402.1 154.4 402.9 155.4 403.9 156.2 405.1 156.8 406.2 157.0 407.1 156.8 408.0 156.2 408.9 155.4 409.6 154.4 410.3 153.2 410.9 151.8 411.5 150.3 412.1 148.8 412.6 147.6 413.0 146.4 413.5 145.1 413.9 143.8 414.3 142.4 414.8 141.1 415.2 139.7 415.7 138.3 416.1 137.0 416.5 135.7 417.0 134.4 417.4 133.1 417.8 131.8 418.3 130.4 418.7 129.1 419.1 127.8 419.6 126.5 420.0 125.2 420.4 123.8 420.9 122.4 421.4 121.0 421.8 119.5 422.3 118.1 422.7 116.8 423.2 115.5 423.6 114.4 424.0 113.4 424.6 112.1 425.2 111.1 425.9 110.1 426.8 109.1 427.9 108.1 429.0 107.2 429.9 106.1 430.7 105.1 431.3 104.0 431.9 102.8 432.5 101.5 432.9 100.4 433.2 99.2 433.5 97.9 433.7 96.5 434.0 95.0 434.2 93.6 434.5 92.2 434.8 90.9 435.1 89.7 435.5 88.2 436.0 86.7 436.5 85.3 437.0 84.1 437.5 83.1 438.4 81.8 439.3 81.2 439.9 81.7 440.5 82.7 441.0 83.8 441.4 84.9 441.7 86.1 442.0 87.3 442.4 88.4 443.0 89.9 443.7 91.0 444.8 90.9 445.9 90.8 446.8 91.7 447.6 93.0 448.1 94.0 448.6 95.1 449.1 96.3 449.6 97.6 450.1 98.8 450.6 100.0 451.2 101.3 451.7 102.7 452.2 104.2 452.5 105.3 452.8 106.5 453.1 107.8 453.4 109.1 453.7 110.4 454.0 111.8 454.3 113.2 454.5 114.6 454.8 116.0 455.0 117.3 455.3 118.6 455.5 120.0 455.7 121.4 456.0 122.8 456.2 124.2 456.4 125.7 456.6 127.1 456.9 128.6 457.1 130.1 457.3 131.6 457.5 133.1 457.7 134.4 457.9 135.8 458.1 137.1 458.2 138.5 458.4 139.9 458.6 141.3 458.8 142.7 459.0 144.1 459.1 145.5 459.3 147.0 459.5 148.4 459.6 149.8 459.8 151.2 459.9 152.7 460.1 154.1 460.3 155.6 460.4 157.0 460.5 158.5 460.7 160.0 460.8 161.5 460.9 163.0 461.1 164.5 461.2 166.0 461.3 167.5 461.4 169.0 461.6 170.5 461.7 172.0 461.8 173.5 462.0 174.9 462.1 176.4 462.2 177.8 462.4 179.2 462.5 180.6 462.7 181.9 462.8 183.3 463.0 184.6 463.1 186.0 463.3 187.3 463.4 188.7 463.6 190.1 463.7 191.5 463.9 192.9 464.1 194.4 464.2 195.9 464.4 197.4 464.5 198.7 464.7 200.0 464.8 201.4 465.0 202.8 465.1 204.2 465.3 205.6 465.4 207.1 465.6 208.6 465.7 210.1 465.9 211.6 466.1 213.1 466.2 214.6 466.4 216.1 466.5 217.6 466.7 219.1 466.9 220.6 467.0 222.0 467.2 223.5 467.4 224.9 467.6 226.3 467.7 227.6 467.9 228.9 468.1 230.2 468.3 231.8 468.6 233.4 468.8 235.1 469.0 236.7 469.3 238.3 469.5 239.8 469.7 241.4 470.0 242.8 470.3 244.3 470.5 245.6 470.8 246.9 471.1 248.1 471.4 249.3 471.7 250.3 472.2 251.8 472.7 253.1 473.3 254.2 473.8 255.2 474.5 256.0 475.8 256.9 477.2 257.2 478.6 257.1 480.0 256.5 481.0 255.8 481.9 255.0 482.7 253.9 483.3 252.8 483.7 251.4 484.1 250.0 484.5 248.5 485.0 247.0 485.5 245.8 486.0 244.5 486.5 243.3 487.0 242.0 487.6 240.7 488.1 239.3 488.6 238.0 489.0 236.7 489.5 235.3 490.0 233.9 490.5 232.4 491.0 231.0 491.5 229.7 492.0 228.4 492.6 227.0 493.2 225.7 493.8 224.5 494.4 223.2 495.1 221.9 495.8 220.5 496.4 219.4 497.0 218.2 497.7 217.0 498.4 215.8 499.2 214.5 499.9 213.2 500.7 211.9 501.4 210.7 502.2 209.5 503.0 208.4 503.7 207.4 504.6 206.2 505.5 205.2 506.3 204.2 507.2 203.2 508.1 202.3 509.0 201.4 510.0 200.5 511.0 199.7 512.0 198.9 513.1 198.1 514.1 197.4 515.3 196.7 516.4 195.9 517.7 195.2 518.8 194.6 519.9 193.9 521.1 193.3 522.3 192.7 523.6 192.0 524.9 191.4 526.2 190.8 527.6 190.2 528.9 189.6 530.3 189.1 531.7 188.6 533.0 188.2 534.4 187.7 535.8 187.4 537.2 187.0 538.7 186.6 540.1 186.3 541.6 186.0 543.1 185.7 544.6 185.4 546.1 185.1 547.5 184.9 549.0 184.6 550.4 184.3 551.9 184.0 553.3 183.7 554.8 183.5 556.3 183.2 557.8 183.0 559.3 182.7 560.7 182.5 562.2 182.3 563.6 182.0 565.0 181.9 566.3 181.7 567.6 181.5 569.0 181.3 570.4 181.2 571.7 181.1 572.9 180.9 574.2 180.8 575.5 180.7 576.9 180.6 578.4 180.5 579.6 180.4 580.9 180.3 582.3 180.2 583.6 180.1 585.1 179.9 586.5 179.8 588.0 179.7 589.5 179.6 591.1 179.4 592.6 179.3 594.1 179.2 595.6 179.1 597.1 179.0 598.6 178.9 600.0 178.8 601.4 178.7 602.9 178.6 604.3 178.5 605.7 178.5 607.1 178.4 608.5 178.3 609.9 178.2 611.4 178.2 612.8 178.1 614.2 178.0 615.6 178.0 617.1 177.9 618.5 177.9 620.0 177.8 621.4 177.7 622.8 177.7 624.3 177.6 625.7 177.6 627.2 177.5 628.7 177.5 630.1 177.4 631.6 177.4 633.1 177.3 634.6 177.3 636.1 177.2 637.6 177.2 639.1 177.1 640.5 177.1 642.0 177.0 643.5 177.0" fill="none" stroke="#ff00ff" stroke-width="1.6" stroke-linejoin="round"/>
<rect x="376.8" y="50.1" width="266.2" height="247.6" fill="none" stroke="#000" stroke-width="1.5"/>
<path d="M372.1 297.7H376.8M374.3 282.2H376.8M372.1 266.8H376.8M374.3 251.3H376.8M372.1 235.8H376.8M374.3 220.3H376.8M372.1 204.8H376.8M374.3 189.4H376.8M372.1 173.9H376.8M374.3 158.4H376.8M372.1 142.9H376.8M374.3 127.5H376.8M372.1 112.0H376.8M374.3 96.5H376.8M372.1 81.0H376.8M374.3 65.6H376.8M372.1 50.1H376.8M376.8 297.7V302.3M403.4 297.7V300.3M430.0 297.7V302.3M456.7 297.7V300.3M483.3 297.7V302.3M509.9 297.7V300.3M536.5 297.7V302.3M563.1 297.7V300.3M589.8 297.7V302.3M616.4 297.7V300.3M643.0 297.7V302.3" stroke="#000" stroke-width="1.4" fill="none"/>
<text transform="translate(369.20 301.70) scale(1 1.04)" font-size="13.9" text-anchor="end">-80</text>
<text transform="translate(369.20 270.75) scale(1 1.04)" font-size="13.9" text-anchor="end">-60</text>
<text transform="translate(369.20 239.80) scale(1 1.04)" font-size="13.9" text-anchor="end">-40</text>
<text transform="translate(369.20 208.85) scale(1 1.04)" font-size="13.9" text-anchor="end">-20</text>
<text transform="translate(369.20 177.90) scale(1 1.04)" font-size="13.9" text-anchor="end">0</text>
<text transform="translate(369.20 146.95) scale(1 1.04)" font-size="13.9" text-anchor="end">20</text>
<text transform="translate(369.20 116.00) scale(1 1.04)" font-size="13.9" text-anchor="end">40</text>
<text transform="translate(369.20 85.05) scale(1 1.04)" font-size="13.9" text-anchor="end">60</text>
<text transform="translate(369.20 54.10) scale(1 1.04)" font-size="13.9" text-anchor="end">80</text>
<text transform="translate(376.80 315.80) scale(1 1.04)" font-size="13.9" text-anchor="middle">0</text>
<text transform="translate(430.04 315.80) scale(1 1.04)" font-size="13.9" text-anchor="middle">100</text>
<text transform="translate(483.28 315.80) scale(1 1.04)" font-size="13.9" text-anchor="middle">200</text>
<text transform="translate(536.52 315.80) scale(1 1.04)" font-size="13.9" text-anchor="middle">300</text>
<text transform="translate(589.76 315.80) scale(1 1.04)" font-size="13.9" text-anchor="middle">400</text>
<text transform="translate(643.00 315.80) scale(1 1.04)" font-size="13.9" text-anchor="middle">500</text>
<text x="466.8" y="338.5" font-size="19.6"><tspan font-style="italic">B</tspan> (mT)</text>
<text transform="translate(346.3 257.5) rotate(-90)" font-size="19.8"><tspan font-style="italic">dP</tspan>/<tspan font-style="italic">dB</tspan> (arb. units)</text>
<text transform="translate(385.80 97.30) scale(1 1.07)" font-size="13.8">305 K</text>
<text transform="translate(451.20 71.10) scale(1 1.07)" font-size="13.8">356 K</text>
<text transform="translate(492.60 102.70) scale(1 1.07)" font-size="13.8">370 K</text>
<text transform="translate(535.60 131.60) scale(1 1.07)" font-size="13.8">390 K</text>
<text transform="translate(555.40 162.30) scale(1 1.07)" font-size="13.8">410 K</text>
</svg>
</body></html>
